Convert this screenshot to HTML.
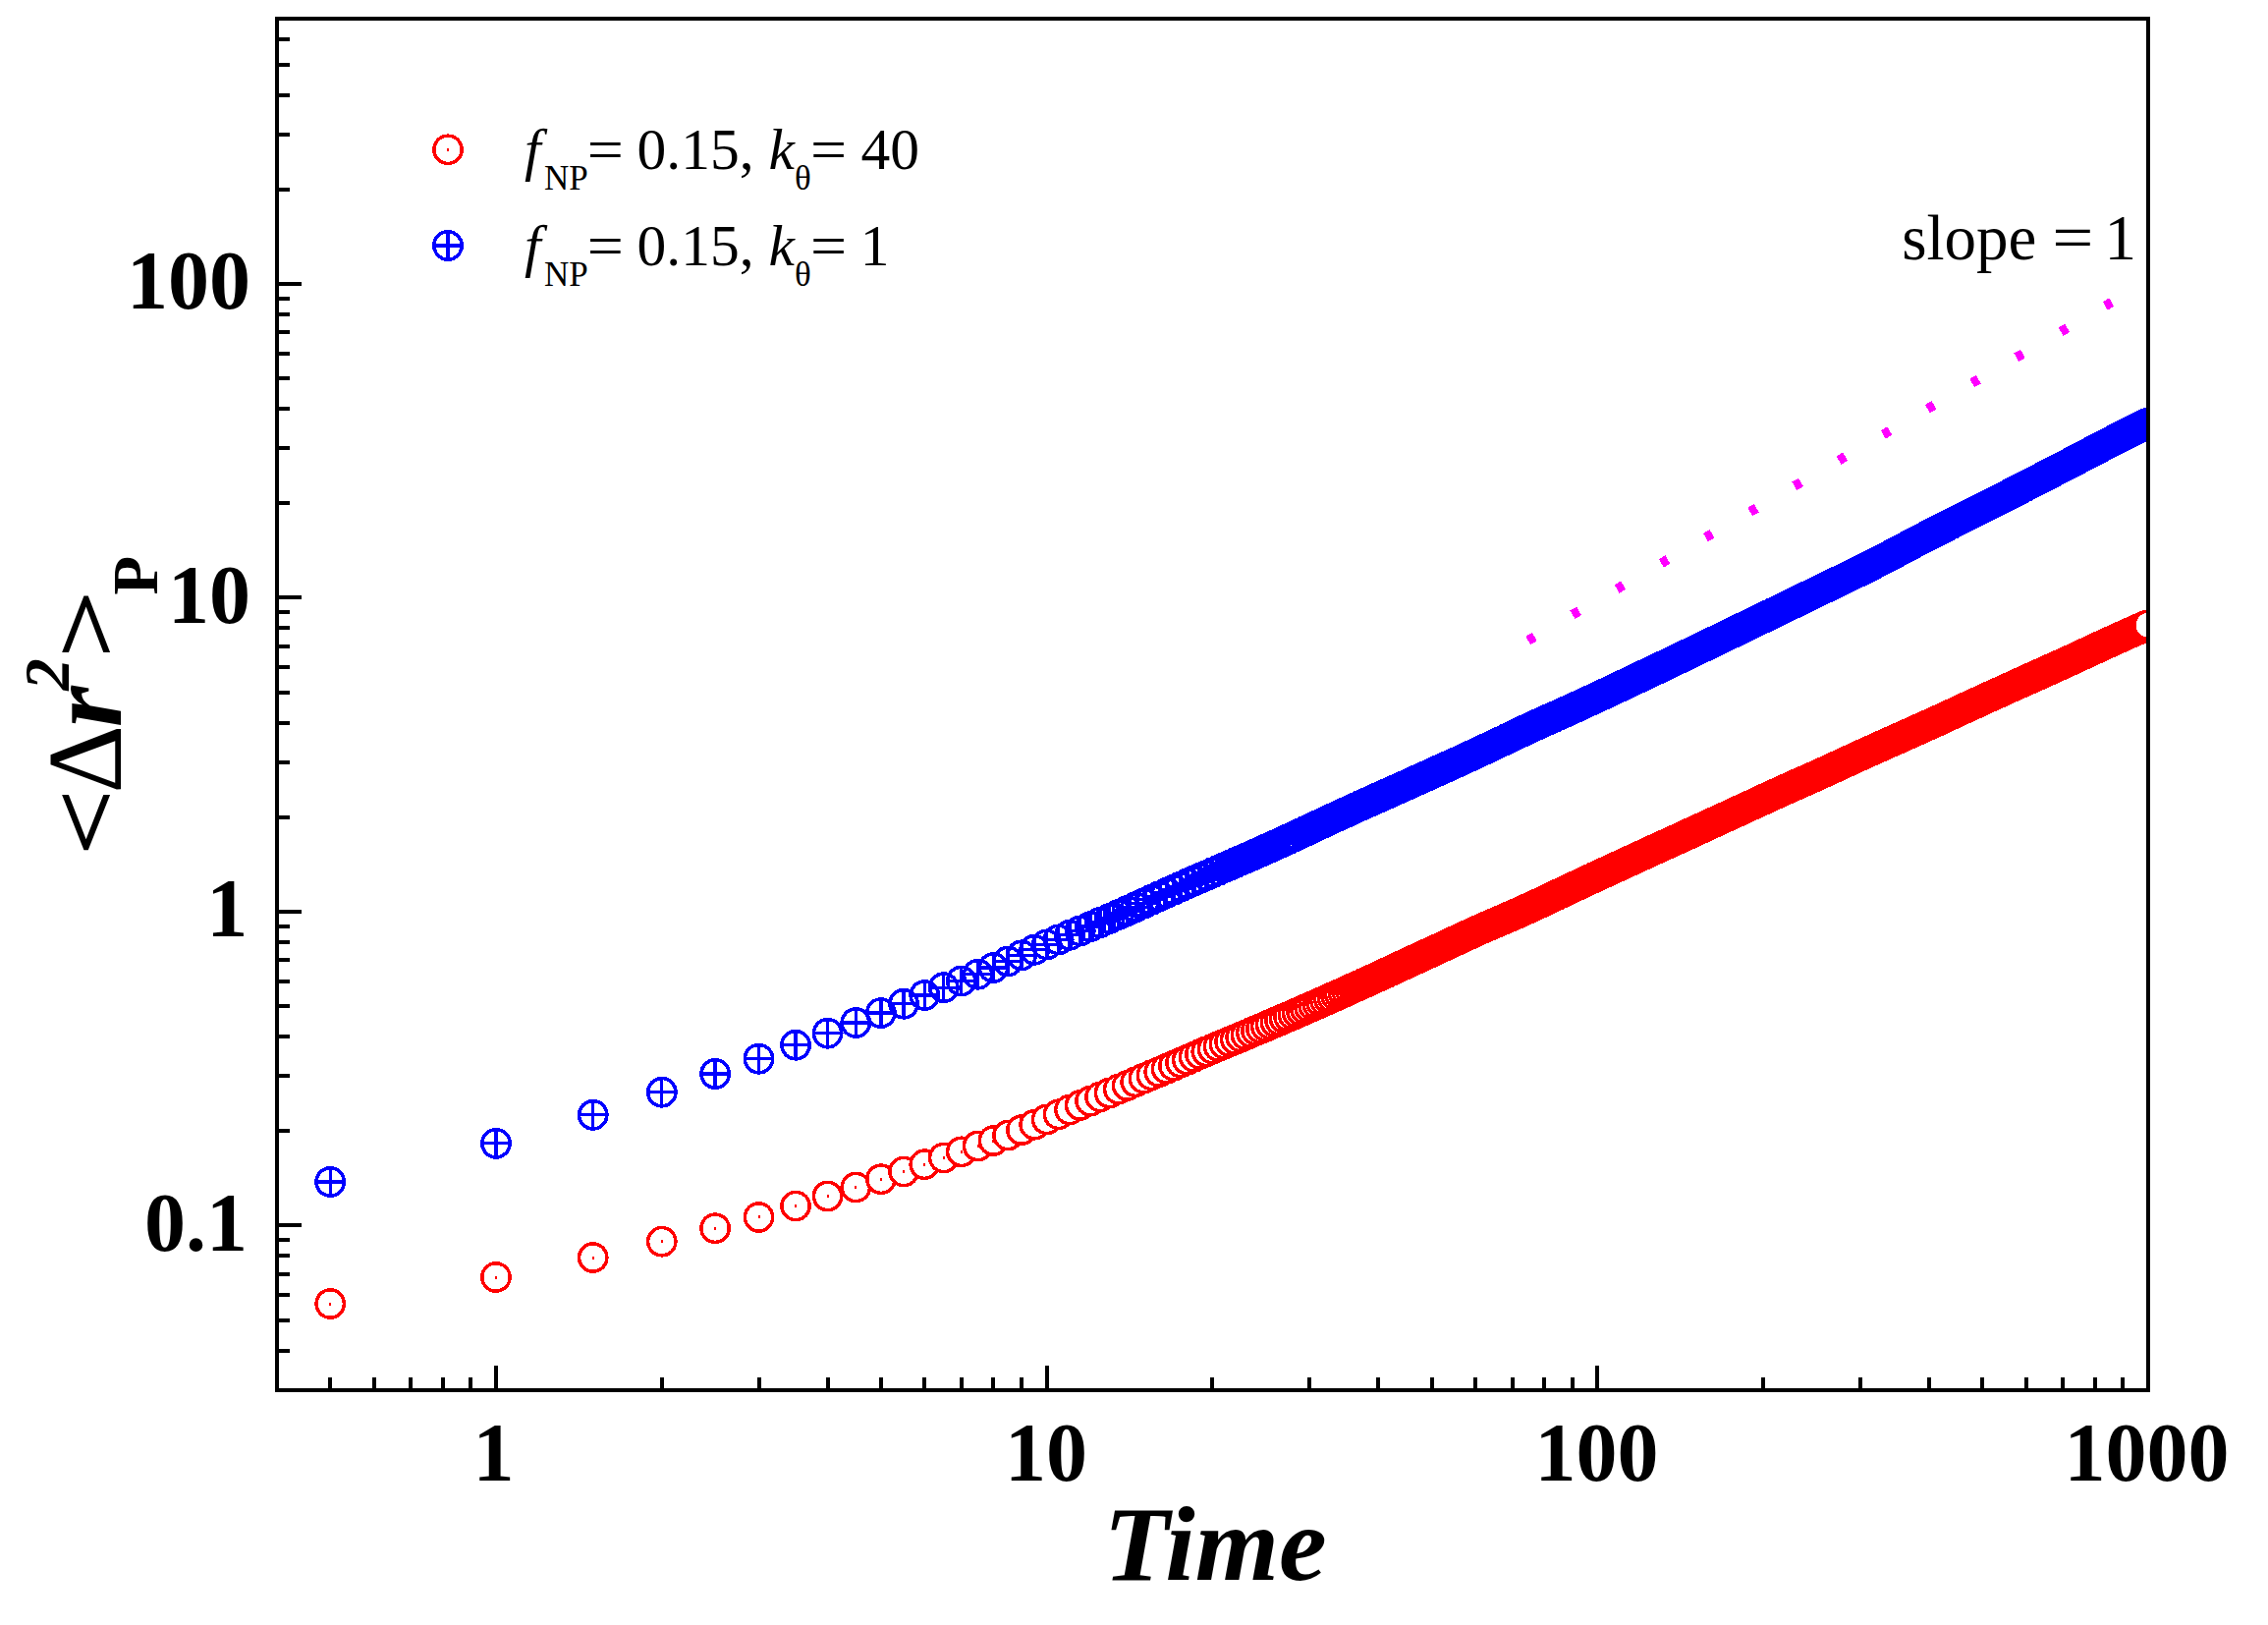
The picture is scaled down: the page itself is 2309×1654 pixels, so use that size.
<!DOCTYPE html>
<html lang="en"><head><meta charset="utf-8"><title>MSD vs Time</title>
<style>html,body{margin:0;padding:0;background:#fff}svg{display:block}text{font-family:"Liberation Serif","Times New Roman",Times,serif;fill:#000}.tk{font-weight:bold;font-size:84px}.lg{font-size:59.5px}.sub{font-size:35px}</style></head><body>
<svg width="2309" height="1654" viewBox="0 0 2309 1654">
<rect width="2309" height="1654" fill="#fff"/>
<defs>
<clipPath id="pc"><rect x="282.05" y="19.10" width="1904.95" height="1395.90"/></clipPath>
<g id="r"><circle r="14.15" fill="#fff" stroke="#f00" stroke-width="3.5"/><rect x="-1" y="-1.5" width="2" height="3" fill="#f00"/></g>
<g id="b"><circle r="14.15" fill="none" stroke="#00f" stroke-width="3.6"/><path d="M-14.15 0H14.15M0 -14.15V14.15" stroke="#00f" stroke-width="3.2" fill="none"/></g>
</defs>
<g clip-path="url(#pc)" shape-rendering="crispEdges">
<path d="M1555.71 651.91L2149.84 307.59" stroke="#f0f" stroke-width="9.8" stroke-dasharray="7.60 44.637" fill="none"/>
<g id="red">
<use href="#r" x="336.2" y="1327"/><use href="#r" x="505" y="1300"/><use href="#r" x="603.7" y="1280"/><use href="#r" x="673.8" y="1263.7"/><use href="#r" x="728.1" y="1250.2"/><use href="#r" x="772.5" y="1238.9"/><use href="#r" x="810.1" y="1227.5"/><use href="#r" x="842.6" y="1217.5"/><use href="#r" x="871.3" y="1208.5"/><use href="#r" x="896.9" y="1200.2"/><use href="#r" x="920.1" y="1192.5"/><use href="#r" x="941.3" y="1185.2"/><use href="#r" x="960.8" y="1178.5"/><use href="#r" x="978.8" y="1172.3"/><use href="#r" x="995.6" y="1166.5"/><use href="#r" x="1011.4" y="1161"/><use href="#r" x="1026.1" y="1155.6"/><use href="#r" x="1040" y="1150.1"/><use href="#r" x="1053.2" y="1144.7"/><use href="#r" x="1065.7" y="1139.4"/><use href="#r" x="1077.6" y="1134.3"/><use href="#r" x="1088.9" y="1129.5"/><use href="#r" x="1099.7" y="1125"/><use href="#r" x="1110.1" y="1120.7"/><use href="#r" x="1120" y="1116.5"/><use href="#r" x="1129.6" y="1112.5"/><use href="#r" x="1138.8" y="1108.6"/><use href="#r" x="1147.6" y="1104.9"/><use href="#r" x="1156.2" y="1101.2"/><use href="#r" x="1164.4" y="1097.7"/><use href="#r" x="1172.4" y="1094.3"/><use href="#r" x="1180.2" y="1091"/><use href="#r" x="1187.6" y="1087.8"/><use href="#r" x="1194.9" y="1084.7"/><use href="#r" x="1202" y="1081.6"/><use href="#r" x="1208.8" y="1078.7"/><use href="#r" x="1215.5" y="1075.8"/><use href="#r" x="1222" y="1073"/><use href="#r" x="1228.3" y="1070.3"/><use href="#r" x="1234.5" y="1067.7"/><use href="#r" x="1240.5" y="1065.1"/><use href="#r" x="1246.4" y="1062.7"/><use href="#r" x="1252.1" y="1060.2"/><use href="#r" x="1257.7" y="1057.9"/><use href="#r" x="1263.2" y="1055.6"/><use href="#r" x="1268.5" y="1053.3"/><use href="#r" x="1273.8" y="1051.1"/><use href="#r" x="1278.9" y="1048.9"/><use href="#r" x="1283.9" y="1046.8"/><use href="#r" x="1288.8" y="1044.7"/><use href="#r" x="1293.6" y="1042.7"/><use href="#r" x="1298.4" y="1040.6"/><use href="#r" x="1303" y="1038.7"/><use href="#r" x="1307.6" y="1036.7"/><use href="#r" x="1312" y="1034.8"/><use href="#r" x="1316.4" y="1032.9"/><use href="#r" x="1320.7" y="1031"/><use href="#r" x="1325" y="1029.1"/><use href="#r" x="1329.1" y="1027.3"/><use href="#r" x="1333.2" y="1025.5"/><use href="#r" x="1337.2" y="1023.7"/><use href="#r" x="1341.2" y="1022"/><use href="#r" x="1345.1" y="1020.3"/><use href="#r" x="1348.9" y="1018.6"/><use href="#r" x="1352.7" y="1016.9"/><use href="#r" x="1356.4" y="1015.2"/><use href="#r" x="1360.1" y="1013.6"/><use href="#r" x="1363.7" y="1012"/><use href="#r" x="1367.3" y="1010.4"/><use href="#r" x="1370.8" y="1008.8"/><use href="#r" x="1374.2" y="1007.3"/><use href="#r" x="1377.6" y="1005.7"/><use href="#r" x="1381" y="1004.2"/><use href="#r" x="1384.3" y="1002.7"/><use href="#r" x="1387.6" y="1001.2"/><use href="#r" x="1390.8" y="999.7"/><use href="#r" x="1394" y="998.3"/><use href="#r" x="1397.1" y="996.8"/><use href="#r" x="1400.2" y="995.4"/><use href="#r" x="1403.3" y="994"/><use href="#r" x="1406.3" y="992.6"/><use href="#r" x="1409.3" y="991.2"/><use href="#r" x="1412.2" y="989.9"/><use href="#r" x="1415.2" y="988.5"/><use href="#r" x="1418" y="987.2"/><use href="#r" x="1420.9" y="985.8"/><use href="#r" x="1423.7" y="984.5"/><use href="#r" x="1426.5" y="983.2"/><use href="#r" x="1429.2" y="982"/><use href="#r" x="1432" y="980.7"/><use href="#r" x="1434.6" y="979.5"/><use href="#r" x="1437.3" y="978.2"/><use href="#r" x="1439.9" y="977"/><use href="#r" x="1442.5" y="975.8"/><use href="#r" x="1445.1" y="974.6"/><use href="#r" x="1447.7" y="973.4"/><use href="#r" x="1450.2" y="972.3"/><use href="#r" x="1452.7" y="971.1"/><use href="#r" x="1455.2" y="970"/><use href="#r" x="1457.6" y="968.8"/><use href="#r" x="1460" y="967.7"/><use href="#r" x="1462.4" y="966.6"/><use href="#r" x="1464.8" y="965.5"/><use href="#r" x="1467.2" y="964.4"/><use href="#r" x="1469.5" y="963.3"/><use href="#r" x="1471.8" y="962.3"/><use href="#r" x="1474.1" y="961.2"/><use href="#r" x="1476.4" y="960.2"/><use href="#r" x="1478.6" y="959.1"/><use href="#r" x="1480.8" y="958.1"/><use href="#r" x="1483" y="957.1"/><use href="#r" x="1485.2" y="956.1"/><use href="#r" x="1487.4" y="955.1"/><use href="#r" x="1489.5" y="954.1"/><use href="#r" x="1491.6" y="953.1"/><use href="#r" x="1493.8" y="952.1"/><use href="#r" x="1495.8" y="951.2"/><use href="#r" x="1497.9" y="950.2"/><use href="#r" x="1500" y="949.3"/><use href="#r" x="1502" y="948.4"/><use href="#r" x="1504" y="947.5"/><use href="#r" x="1506" y="946.5"/><use href="#r" x="1508" y="945.6"/><use href="#r" x="1510" y="944.8"/><use href="#r" x="1511.9" y="943.9"/><use href="#r" x="1513.9" y="943"/><use href="#r" x="1515.8" y="942.2"/><use href="#r" x="1517.7" y="941.3"/><use href="#r" x="1519.6" y="940.5"/><use href="#r" x="1521.5" y="939.7"/><use href="#r" x="1523.4" y="938.9"/><use href="#r" x="1525.2" y="938.1"/><use href="#r" x="1527.1" y="937.3"/><use href="#r" x="1528.9" y="936.5"/><use href="#r" x="1530.7" y="935.7"/><use href="#r" x="1532.5" y="934.9"/><use href="#r" x="1534.3" y="934.2"/><use href="#r" x="1536" y="933.4"/><use href="#r" x="1537.8" y="932.7"/><use href="#r" x="1539.5" y="931.9"/><use href="#r" x="1541.3" y="931.1"/><use href="#r" x="1543" y="930.4"/><use href="#r" x="1544.7" y="929.7"/><use href="#r" x="1546.4" y="928.9"/><use href="#r" x="1548.1" y="928.2"/><use href="#r" x="1549.8" y="927.4"/><use href="#r" x="1551.4" y="926.7"/><use href="#r" x="1553.1" y="925.9"/><use href="#r" x="1554.7" y="925.2"/><use href="#r" x="1556.3" y="924.4"/><use href="#r" x="1558" y="923.7"/><use href="#r" x="1559.6" y="922.9"/><use href="#r" x="1561.2" y="922.2"/><use href="#r" x="1562.8" y="921.5"/><use href="#r" x="1564.3" y="920.7"/><use href="#r" x="1565.9" y="920"/><use href="#r" x="1567.5" y="919.3"/><use href="#r" x="1569" y="918.6"/><use href="#r" x="1570.5" y="917.8"/><use href="#r" x="1572.1" y="917.1"/><use href="#r" x="1573.6" y="916.4"/><use href="#r" x="1575.1" y="915.7"/><use href="#r" x="1576.6" y="915"/><use href="#r" x="1578.1" y="914.3"/><use href="#r" x="1579.6" y="913.6"/><use href="#r" x="1581" y="912.9"/><use href="#r" x="1582.5" y="912.2"/><use href="#r" x="1583.9" y="911.5"/><use href="#r" x="1585.4" y="910.8"/><use href="#r" x="1586.8" y="910.1"/><use href="#r" x="1588.3" y="909.5"/><use href="#r" x="1589.7" y="908.8"/><use href="#r" x="1591.1" y="908.1"/><use href="#r" x="1592.5" y="907.4"/><use href="#r" x="1593.9" y="906.8"/><use href="#r" x="1595.3" y="906.1"/><use href="#r" x="1596.7" y="905.5"/><use href="#r" x="1598" y="904.8"/><use href="#r" x="1599.4" y="904.2"/><use href="#r" x="1600.7" y="903.5"/><use href="#r" x="1602.1" y="902.9"/><use href="#r" x="1603.4" y="902.2"/><use href="#r" x="1604.8" y="901.6"/><use href="#r" x="1606.1" y="901"/><use href="#r" x="1607.4" y="900.4"/><use href="#r" x="1608.7" y="899.7"/><use href="#r" x="1610" y="899.1"/><use href="#r" x="1611.3" y="898.5"/><use href="#r" x="1612.6" y="897.9"/><use href="#r" x="1613.9" y="897.3"/><use href="#r" x="1615.2" y="896.7"/><use href="#r" x="1616.5" y="896.1"/><use href="#r" x="1617.7" y="895.5"/><use href="#r" x="1619" y="895"/><use href="#r" x="1620.2" y="894.4"/><use href="#r" x="1621.5" y="893.8"/><use href="#r" x="1622.7" y="893.2"/><use href="#r" x="1624" y="892.7"/><use href="#r" x="1625.2" y="892.1"/><use href="#r" x="1626.4" y="891.5"/><use href="#r" x="1627.6" y="891"/><use href="#r" x="1628.8" y="890.4"/><use href="#r" x="1630" y="889.8"/><use href="#r" x="1631.2" y="889.3"/><use href="#r" x="1632.4" y="888.7"/><use href="#r" x="1633.6" y="888.2"/><use href="#r" x="1634.8" y="887.7"/><use href="#r" x="1636" y="887.1"/><use href="#r" x="1637.1" y="886.6"/><use href="#r" x="1638.3" y="886"/><use href="#r" x="1639.4" y="885.5"/><use href="#r" x="1640.6" y="885"/><use href="#r" x="1641.7" y="884.4"/><use href="#r" x="1642.9" y="883.9"/><use href="#r" x="1644" y="883.4"/><use href="#r" x="1645.1" y="882.9"/><use href="#r" x="1646.3" y="882.4"/><use href="#r" x="1647.4" y="881.8"/><use href="#r" x="1648.5" y="881.3"/><use href="#r" x="1649.6" y="880.8"/><use href="#r" x="1650.7" y="880.3"/><use href="#r" x="1651.8" y="879.8"/><use href="#r" x="1652.9" y="879.3"/><use href="#r" x="1654" y="878.8"/><use href="#r" x="1655.1" y="878.3"/><use href="#r" x="1656.2" y="877.8"/><use href="#r" x="1657.2" y="877.3"/><use href="#r" x="1658.3" y="876.8"/><use href="#r" x="1659.4" y="876.3"/><use href="#r" x="1660.4" y="875.8"/><use href="#r" x="1661.5" y="875.4"/><use href="#r" x="1662.5" y="874.9"/><use href="#r" x="1663.6" y="874.4"/><use href="#r" x="1664.6" y="873.9"/><use href="#r" x="1665.7" y="873.4"/><use href="#r" x="1666.7" y="873"/><use href="#r" x="1667.7" y="872.5"/><use href="#r" x="1668.8" y="872"/><use href="#r" x="1669.8" y="871.6"/><use href="#r" x="1670.8" y="871.1"/><use href="#r" x="1671.8" y="870.6"/><use href="#r" x="1672.8" y="870.2"/><use href="#r" x="1673.8" y="869.7"/><use href="#r" x="1674.8" y="869.2"/><use href="#r" x="1675.8" y="868.8"/><use href="#r" x="1676.8" y="868.3"/><use href="#r" x="1677.8" y="867.9"/><use href="#r" x="1678.8" y="867.4"/><use href="#r" x="1679.8" y="867"/><use href="#r" x="1680.7" y="866.5"/><use href="#r" x="1681.7" y="866.1"/><use href="#r" x="1682.7" y="865.6"/><use href="#r" x="1683.6" y="865.2"/><use href="#r" x="1684.6" y="864.7"/><use href="#r" x="1685.6" y="864.3"/><use href="#r" x="1686.5" y="863.9"/><use href="#r" x="1687.5" y="863.4"/><use href="#r" x="1688.4" y="863"/><use href="#r" x="1689.3" y="862.6"/><use href="#r" x="1690.3" y="862.1"/><use href="#r" x="1691.2" y="861.7"/><use href="#r" x="1692.2" y="861.3"/><use href="#r" x="1693.1" y="860.9"/><use href="#r" x="1694" y="860.4"/><use href="#r" x="1694.9" y="860"/><use href="#r" x="1695.8" y="859.6"/><use href="#r" x="1696.8" y="859.2"/><use href="#r" x="1697.7" y="858.7"/><use href="#r" x="1698.6" y="858.3"/><use href="#r" x="1699.5" y="857.9"/><use href="#r" x="1700.4" y="857.5"/><use href="#r" x="1701.3" y="857.1"/><use href="#r" x="1702.2" y="856.7"/><use href="#r" x="1703.1" y="856.3"/><use href="#r" x="1703.9" y="855.9"/><use href="#r" x="1704.8" y="855.5"/><use href="#r" x="1705.7" y="855.1"/><use href="#r" x="1706.6" y="854.7"/><use href="#r" x="1707.5" y="854.3"/><use href="#r" x="1708.3" y="853.9"/><use href="#r" x="1709.2" y="853.5"/><use href="#r" x="1710.1" y="853.1"/><use href="#r" x="1710.9" y="852.7"/><use href="#r" x="1711.8" y="852.3"/><use href="#r" x="1712.6" y="851.9"/><use href="#r" x="1713.5" y="851.5"/><use href="#r" x="1714.3" y="851.1"/><use href="#r" x="1715.2" y="850.7"/><use href="#r" x="1716" y="850.3"/><use href="#r" x="1716.9" y="849.9"/><use href="#r" x="1717.7" y="849.6"/><use href="#r" x="1718.6" y="849.2"/><use href="#r" x="1719.4" y="848.8"/><use href="#r" x="1720.2" y="848.4"/><use href="#r" x="1721" y="848"/><use href="#r" x="1721.9" y="847.7"/><use href="#r" x="1722.7" y="847.3"/><use href="#r" x="1723.5" y="846.9"/><use href="#r" x="1724.3" y="846.5"/><use href="#r" x="1725.1" y="846.2"/><use href="#r" x="1725.9" y="845.8"/><use href="#r" x="1726.8" y="845.4"/><use href="#r" x="1727.6" y="845.1"/><use href="#r" x="1728.4" y="844.7"/><use href="#r" x="1729.2" y="844.3"/><use href="#r" x="1730" y="844"/><use href="#r" x="1730.8" y="843.6"/><use href="#r" x="1731.5" y="843.2"/><use href="#r" x="1732.3" y="842.9"/><use href="#r" x="1733.1" y="842.5"/><use href="#r" x="1733.9" y="842.2"/><use href="#r" x="1734.7" y="841.8"/><use href="#r" x="1735.5" y="841.4"/><use href="#r" x="1736.2" y="841.1"/><use href="#r" x="1737" y="840.7"/><use href="#r" x="1737.8" y="840.4"/><use href="#r" x="1738.6" y="840"/><use href="#r" x="1739.3" y="839.7"/><use href="#r" x="1740.1" y="839.3"/><use href="#r" x="1740.9" y="839"/><use href="#r" x="1741.6" y="838.6"/><use href="#r" x="1742.4" y="838.3"/><use href="#r" x="1743.1" y="837.9"/><use href="#r" x="1743.9" y="837.6"/><use href="#r" x="1744.6" y="837.2"/><use href="#r" x="1745.4" y="836.9"/><use href="#r" x="1746.1" y="836.5"/><use href="#r" x="1746.9" y="836.2"/><use href="#r" x="1747.6" y="835.9"/><use href="#r" x="1748.3" y="835.5"/><use href="#r" x="1749.1" y="835.2"/><use href="#r" x="1749.8" y="834.8"/><use href="#r" x="1750.5" y="834.5"/><use href="#r" x="1751.3" y="834.2"/><use href="#r" x="1752" y="833.8"/><use href="#r" x="1752.7" y="833.5"/><use href="#r" x="1753.5" y="833.2"/><use href="#r" x="1754.2" y="832.8"/><use href="#r" x="1754.9" y="832.5"/><use href="#r" x="1755.6" y="832.2"/><use href="#r" x="1756.3" y="831.8"/><use href="#r" x="1757" y="831.5"/><use href="#r" x="1757.8" y="831.2"/><use href="#r" x="1758.5" y="830.9"/><use href="#r" x="1759.2" y="830.5"/><use href="#r" x="1759.9" y="830.2"/><use href="#r" x="1760.6" y="829.9"/><use href="#r" x="1761.3" y="829.6"/><use href="#r" x="1762" y="829.2"/><use href="#r" x="1762.7" y="828.9"/><use href="#r" x="1763.4" y="828.6"/><use href="#r" x="1764.1" y="828.3"/><use href="#r" x="1764.7" y="828"/><use href="#r" x="1765.4" y="827.6"/><use href="#r" x="1766.1" y="827.3"/><use href="#r" x="1766.8" y="827"/><use href="#r" x="1767.5" y="826.7"/><use href="#r" x="1768.2" y="826.4"/><use href="#r" x="1768.9" y="826.1"/><use href="#r" x="1769.5" y="825.7"/><use href="#r" x="1770.2" y="825.4"/><use href="#r" x="1770.9" y="825.1"/><use href="#r" x="1771.6" y="824.8"/><use href="#r" x="1772.2" y="824.5"/><use href="#r" x="1772.9" y="824.2"/><use href="#r" x="1773.6" y="823.9"/><use href="#r" x="1774.2" y="823.6"/><use href="#r" x="1774.9" y="823.3"/><use href="#r" x="1775.5" y="823"/><use href="#r" x="1776.2" y="822.6"/><use href="#r" x="1776.9" y="822.3"/><use href="#r" x="1777.5" y="822"/><use href="#r" x="1778.2" y="821.7"/><use href="#r" x="1778.8" y="821.4"/><use href="#r" x="1779.5" y="821.1"/><use href="#r" x="1780.1" y="820.8"/><use href="#r" x="1780.8" y="820.5"/><use href="#r" x="1781.4" y="820.2"/><use href="#r" x="1782.1" y="819.9"/><use href="#r" x="1782.7" y="819.6"/><use href="#r" x="1783.3" y="819.3"/><use href="#r" x="1784" y="819"/><use href="#r" x="1784.6" y="818.8"/><use href="#r" x="1785.2" y="818.5"/><use href="#r" x="1785.9" y="818.2"/><use href="#r" x="1786.5" y="817.9"/><use href="#r" x="1787.1" y="817.6"/><use href="#r" x="1787.8" y="817.3"/><use href="#r" x="1788.4" y="817"/><use href="#r" x="1789" y="816.7"/><use href="#r" x="1789.6" y="816.4"/><use href="#r" x="1790.3" y="816.1"/><use href="#r" x="1790.9" y="815.9"/><use href="#r" x="1791.5" y="815.6"/><use href="#r" x="1792.1" y="815.3"/><use href="#r" x="1792.7" y="815"/><use href="#r" x="1793.4" y="814.7"/><use href="#r" x="1794" y="814.4"/><use href="#r" x="1794.6" y="814.2"/><use href="#r" x="1795.2" y="813.9"/><use href="#r" x="1795.8" y="813.6"/><use href="#r" x="1796.4" y="813.3"/><use href="#r" x="1797" y="813"/><use href="#r" x="1797.6" y="812.8"/><use href="#r" x="1798.2" y="812.5"/><use href="#r" x="1798.8" y="812.2"/><use href="#r" x="1799.4" y="811.9"/><use href="#r" x="1800" y="811.7"/><use href="#r" x="1800.6" y="811.4"/><use href="#r" x="1801.2" y="811.1"/><use href="#r" x="1801.8" y="810.8"/><use href="#r" x="1802.4" y="810.6"/><use href="#r" x="1803" y="810.3"/><use href="#r" x="1803.6" y="810"/><use href="#r" x="1804.2" y="809.8"/><use href="#r" x="1804.7" y="809.5"/><use href="#r" x="1805.3" y="809.2"/><use href="#r" x="1805.9" y="809"/><use href="#r" x="1806.5" y="808.7"/><use href="#r" x="1807.1" y="808.4"/><use href="#r" x="1807.6" y="808.2"/><use href="#r" x="1808.2" y="807.9"/><use href="#r" x="1808.8" y="807.6"/><use href="#r" x="1809.4" y="807.4"/><use href="#r" x="1810" y="807.1"/><use href="#r" x="1810.5" y="806.9"/><use href="#r" x="1811.1" y="806.6"/><use href="#r" x="1811.7" y="806.3"/><use href="#r" x="1812.2" y="806.1"/><use href="#r" x="1812.8" y="805.8"/><use href="#r" x="1813.4" y="805.6"/><use href="#r" x="1813.9" y="805.3"/><use href="#r" x="1814.5" y="805"/><use href="#r" x="1815.1" y="804.8"/><use href="#r" x="1815.6" y="804.5"/><use href="#r" x="1816.2" y="804.3"/><use href="#r" x="1816.7" y="804"/><use href="#r" x="1817.3" y="803.8"/><use href="#r" x="1817.8" y="803.5"/><use href="#r" x="1818.4" y="803.3"/><use href="#r" x="1818.9" y="803"/><use href="#r" x="1819.5" y="802.8"/><use href="#r" x="1820.1" y="802.5"/><use href="#r" x="1820.6" y="802.3"/><use href="#r" x="1821.1" y="802.1"/><use href="#r" x="1821.7" y="801.8"/><use href="#r" x="1822.2" y="801.6"/><use href="#r" x="1822.8" y="801.3"/><use href="#r" x="1823.3" y="801.1"/><use href="#r" x="1823.9" y="800.8"/><use href="#r" x="1824.4" y="800.6"/><use href="#r" x="1824.9" y="800.4"/><use href="#r" x="1825.5" y="800.1"/><use href="#r" x="1826" y="799.9"/><use href="#r" x="1826.6" y="799.6"/><use href="#r" x="1827.1" y="799.4"/><use href="#r" x="1827.6" y="799.2"/><use href="#r" x="1828.2" y="798.9"/><use href="#r" x="1828.7" y="798.7"/><use href="#r" x="1829.2" y="798.5"/><use href="#r" x="1829.7" y="798.2"/><use href="#r" x="1830.3" y="798"/><use href="#r" x="1830.8" y="797.8"/><use href="#r" x="1831.3" y="797.5"/><use href="#r" x="1831.9" y="797.3"/><use href="#r" x="1832.4" y="797.1"/><use href="#r" x="1832.9" y="796.8"/><use href="#r" x="1833.4" y="796.6"/><use href="#r" x="1833.9" y="796.4"/><use href="#r" x="1834.5" y="796.1"/><use href="#r" x="1835" y="795.9"/><use href="#r" x="1835.5" y="795.7"/><use href="#r" x="1836" y="795.5"/><use href="#r" x="1836.5" y="795.2"/><use href="#r" x="1837" y="795"/><use href="#r" x="1837.5" y="794.8"/><use href="#r" x="1838.1" y="794.5"/><use href="#r" x="1838.6" y="794.3"/><use href="#r" x="1839.1" y="794.1"/><use href="#r" x="1839.6" y="793.9"/><use href="#r" x="1840.1" y="793.6"/><use href="#r" x="1840.6" y="793.4"/><use href="#r" x="1841.1" y="793.2"/><use href="#r" x="1841.6" y="793"/><use href="#r" x="1842.1" y="792.7"/><use href="#r" x="1842.6" y="792.5"/><use href="#r" x="1843.1" y="792.3"/><use href="#r" x="1843.6" y="792.1"/><use href="#r" x="1844.1" y="791.8"/><use href="#r" x="1844.6" y="791.6"/><use href="#r" x="1845.1" y="791.4"/><use href="#r" x="1845.6" y="791.2"/><use href="#r" x="1846.1" y="791"/><use href="#r" x="1846.6" y="790.7"/><use href="#r" x="1847.1" y="790.5"/><use href="#r" x="1847.6" y="790.3"/><use href="#r" x="1848.1" y="790.1"/><use href="#r" x="1848.5" y="789.9"/><use href="#r" x="1849" y="789.6"/><use href="#r" x="1849.5" y="789.4"/><use href="#r" x="1850" y="789.2"/><use href="#r" x="1850.5" y="789"/><use href="#r" x="1851" y="788.8"/><use href="#r" x="1851.5" y="788.5"/><use href="#r" x="1851.9" y="788.3"/><use href="#r" x="1852.4" y="788.1"/><use href="#r" x="1852.9" y="787.9"/><use href="#r" x="1853.4" y="787.7"/><use href="#r" x="1853.9" y="787.4"/><use href="#r" x="1854.3" y="787.2"/><use href="#r" x="1854.8" y="787"/><use href="#r" x="1855.3" y="786.8"/><use href="#r" x="1855.8" y="786.6"/><use href="#r" x="1856.2" y="786.4"/><use href="#r" x="1856.7" y="786.1"/><use href="#r" x="1857.2" y="785.9"/><use href="#r" x="1857.7" y="785.7"/><use href="#r" x="1858.1" y="785.5"/><use href="#r" x="1858.6" y="785.3"/><use href="#r" x="1859.1" y="785.1"/><use href="#r" x="1859.5" y="784.9"/><use href="#r" x="1860" y="784.6"/><use href="#r" x="1860.5" y="784.4"/><use href="#r" x="1860.9" y="784.2"/><use href="#r" x="1861.4" y="784"/><use href="#r" x="1861.9" y="783.8"/><use href="#r" x="1862.3" y="783.6"/><use href="#r" x="1862.8" y="783.4"/><use href="#r" x="1863.3" y="783.2"/><use href="#r" x="1863.7" y="783"/><use href="#r" x="1864.2" y="782.7"/><use href="#r" x="1864.6" y="782.5"/><use href="#r" x="1865.1" y="782.3"/><use href="#r" x="1865.5" y="782.1"/><use href="#r" x="1866" y="781.9"/><use href="#r" x="1866.5" y="781.7"/><use href="#r" x="1866.9" y="781.5"/><use href="#r" x="1867.4" y="781.3"/><use href="#r" x="1867.8" y="781.1"/><use href="#r" x="1868.3" y="780.9"/><use href="#r" x="1868.7" y="780.7"/><use href="#r" x="1869.2" y="780.4"/><use href="#r" x="1869.6" y="780.2"/><use href="#r" x="1870.1" y="780"/><use href="#r" x="1870.5" y="779.8"/><use href="#r" x="1871" y="779.6"/><use href="#r" x="1871.4" y="779.4"/><use href="#r" x="1871.8" y="779.2"/><use href="#r" x="1872.3" y="779"/><use href="#r" x="1872.7" y="778.8"/><use href="#r" x="1873.2" y="778.6"/><use href="#r" x="1873.6" y="778.4"/><use href="#r" x="1874.1" y="778.2"/><use href="#r" x="1874.5" y="778"/><use href="#r" x="1874.9" y="777.8"/><use href="#r" x="1875.4" y="777.6"/><use href="#r" x="1875.8" y="777.4"/><use href="#r" x="1876.3" y="777.2"/><use href="#r" x="1876.7" y="777"/><use href="#r" x="1877.1" y="776.8"/><use href="#r" x="1877.6" y="776.6"/><use href="#r" x="1878" y="776.4"/><use href="#r" x="1878.4" y="776.2"/><use href="#r" x="1878.9" y="776"/><use href="#r" x="1879.3" y="775.8"/><use href="#r" x="1879.7" y="775.6"/><use href="#r" x="1880.1" y="775.4"/><use href="#r" x="1880.6" y="775.2"/><use href="#r" x="1881" y="775"/><use href="#r" x="1881.4" y="774.8"/><use href="#r" x="1881.9" y="774.6"/><use href="#r" x="1882.3" y="774.4"/><use href="#r" x="1882.7" y="774.2"/><use href="#r" x="1883.1" y="774"/><use href="#r" x="1883.6" y="773.8"/><use href="#r" x="1884" y="773.6"/><use href="#r" x="1884.4" y="773.4"/><use href="#r" x="1884.8" y="773.2"/><use href="#r" x="1885.2" y="773"/><use href="#r" x="1885.7" y="772.9"/><use href="#r" x="1886.1" y="772.7"/><use href="#r" x="1886.5" y="772.5"/><use href="#r" x="1886.9" y="772.3"/><use href="#r" x="1887.3" y="772.1"/><use href="#r" x="1887.8" y="771.9"/><use href="#r" x="1888.2" y="771.7"/><use href="#r" x="1888.6" y="771.5"/><use href="#r" x="1889" y="771.3"/><use href="#r" x="1889.4" y="771.1"/><use href="#r" x="1889.8" y="770.9"/><use href="#r" x="1890.2" y="770.8"/><use href="#r" x="1890.7" y="770.6"/><use href="#r" x="1891.1" y="770.4"/><use href="#r" x="1891.5" y="770.2"/><use href="#r" x="1891.9" y="770"/><use href="#r" x="1892.3" y="769.8"/><use href="#r" x="1892.7" y="769.6"/><use href="#r" x="1893.1" y="769.4"/><use href="#r" x="1893.5" y="769.3"/><use href="#r" x="1893.9" y="769.1"/><use href="#r" x="1894.3" y="768.9"/><use href="#r" x="1894.7" y="768.7"/><use href="#r" x="1895.1" y="768.5"/><use href="#r" x="1895.5" y="768.3"/><use href="#r" x="1895.9" y="768.1"/><use href="#r" x="1896.3" y="768"/><use href="#r" x="1896.7" y="767.8"/><use href="#r" x="1897.1" y="767.6"/><use href="#r" x="1897.5" y="767.4"/><use href="#r" x="1897.9" y="767.2"/><use href="#r" x="1898.3" y="767.1"/><use href="#r" x="1898.7" y="766.9"/><use href="#r" x="1899.1" y="766.7"/><use href="#r" x="1899.5" y="766.5"/><use href="#r" x="1899.9" y="766.3"/><use href="#r" x="1900.3" y="766.2"/><use href="#r" x="1900.7" y="766"/><use href="#r" x="1901.1" y="765.8"/><use href="#r" x="1901.5" y="765.6"/><use href="#r" x="1901.9" y="765.4"/><use href="#r" x="1902.3" y="765.3"/><use href="#r" x="1902.7" y="765.1"/><use href="#r" x="1903.1" y="764.9"/><use href="#r" x="1903.5" y="764.7"/><use href="#r" x="1903.9" y="764.6"/><use href="#r" x="1904.3" y="764.4"/><use href="#r" x="1904.6" y="764.2"/><use href="#r" x="1905" y="764"/><use href="#r" x="1905.4" y="763.8"/><use href="#r" x="1905.8" y="763.7"/><use href="#r" x="1906.2" y="763.5"/><use href="#r" x="1906.6" y="763.3"/><use href="#r" x="1907" y="763.2"/><use href="#r" x="1907.3" y="763"/><use href="#r" x="1907.7" y="762.8"/><use href="#r" x="1908.1" y="762.6"/><use href="#r" x="1908.5" y="762.5"/><use href="#r" x="1908.9" y="762.3"/><use href="#r" x="1909.3" y="762.1"/><use href="#r" x="1909.6" y="761.9"/><use href="#r" x="1910" y="761.8"/><use href="#r" x="1910.4" y="761.6"/><use href="#r" x="1910.8" y="761.4"/><use href="#r" x="1911.2" y="761.3"/><use href="#r" x="1911.5" y="761.1"/><use href="#r" x="1911.9" y="760.9"/><use href="#r" x="1912.3" y="760.8"/><use href="#r" x="1912.7" y="760.6"/><use href="#r" x="1913" y="760.4"/><use href="#r" x="1913.4" y="760.2"/><use href="#r" x="1913.8" y="760.1"/><use href="#r" x="1914.2" y="759.9"/><use href="#r" x="1914.5" y="759.7"/><use href="#r" x="1914.9" y="759.6"/><use href="#r" x="1915.3" y="759.4"/><use href="#r" x="1915.7" y="759.2"/><use href="#r" x="1916" y="759.1"/><use href="#r" x="1916.4" y="758.9"/><use href="#r" x="1916.8" y="758.7"/><use href="#r" x="1917.1" y="758.6"/><use href="#r" x="1917.5" y="758.4"/><use href="#r" x="1917.9" y="758.2"/><use href="#r" x="1918.2" y="758.1"/><use href="#r" x="1918.6" y="757.9"/><use href="#r" x="1919" y="757.8"/><use href="#r" x="1919.3" y="757.6"/><use href="#r" x="1919.7" y="757.4"/><use href="#r" x="1920.1" y="757.3"/><use href="#r" x="1920.4" y="757.1"/><use href="#r" x="1920.8" y="756.9"/><use href="#r" x="1921.2" y="756.8"/><use href="#r" x="1921.5" y="756.6"/><use href="#r" x="1921.9" y="756.4"/><use href="#r" x="1922.2" y="756.3"/><use href="#r" x="1922.6" y="756.1"/><use href="#r" x="1923" y="756"/><use href="#r" x="1923.3" y="755.8"/><use href="#r" x="1923.7" y="755.6"/><use href="#r" x="1924" y="755.5"/><use href="#r" x="1924.4" y="755.3"/><use href="#r" x="1924.8" y="755.2"/><use href="#r" x="1925.1" y="755"/><use href="#r" x="1925.5" y="754.8"/><use href="#r" x="1925.8" y="754.7"/><use href="#r" x="1926.2" y="754.5"/><use href="#r" x="1926.5" y="754.4"/><use href="#r" x="1926.9" y="754.2"/><use href="#r" x="1927.2" y="754"/><use href="#r" x="1927.6" y="753.9"/><use href="#r" x="1928" y="753.7"/><use href="#r" x="1928.3" y="753.6"/><use href="#r" x="1928.7" y="753.4"/><use href="#r" x="1929" y="753.3"/><use href="#r" x="1929.4" y="753.1"/><use href="#r" x="1929.7" y="752.9"/><use href="#r" x="1930.1" y="752.8"/><use href="#r" x="1930.4" y="752.6"/><use href="#r" x="1930.8" y="752.5"/><use href="#r" x="1931.1" y="752.3"/><use href="#r" x="1931.5" y="752.2"/><use href="#r" x="1931.8" y="752"/><use href="#r" x="1932.2" y="751.9"/><use href="#r" x="1932.5" y="751.7"/><use href="#r" x="1932.8" y="751.5"/><use href="#r" x="1933.2" y="751.4"/><use href="#r" x="1933.5" y="751.2"/><use href="#r" x="1933.9" y="751.1"/><use href="#r" x="1934.2" y="750.9"/><use href="#r" x="1934.6" y="750.8"/><use href="#r" x="1934.9" y="750.6"/><use href="#r" x="1935.3" y="750.5"/><use href="#r" x="1935.6" y="750.3"/><use href="#r" x="1935.9" y="750.2"/><use href="#r" x="1936.3" y="750"/><use href="#r" x="1936.6" y="749.9"/><use href="#r" x="1937" y="749.7"/><use href="#r" x="1937.3" y="749.6"/><use href="#r" x="1937.6" y="749.4"/><use href="#r" x="1938" y="749.2"/><use href="#r" x="1938.3" y="749.1"/><use href="#r" x="1938.7" y="748.9"/><use href="#r" x="1939" y="748.8"/><use href="#r" x="1939.3" y="748.6"/><use href="#r" x="1939.7" y="748.5"/><use href="#r" x="1940" y="748.3"/><use href="#r" x="1940.3" y="748.2"/><use href="#r" x="1940.7" y="748"/><use href="#r" x="1941" y="747.9"/><use href="#r" x="1941.3" y="747.7"/><use href="#r" x="1941.7" y="747.6"/><use href="#r" x="1942" y="747.4"/><use href="#r" x="1942.3" y="747.3"/><use href="#r" x="1942.7" y="747.1"/><use href="#r" x="1943" y="747"/><use href="#r" x="1943.3" y="746.9"/><use href="#r" x="1943.7" y="746.7"/><use href="#r" x="1944" y="746.6"/><use href="#r" x="1944.3" y="746.4"/><use href="#r" x="1944.7" y="746.3"/><use href="#r" x="1945" y="746.1"/><use href="#r" x="1945.3" y="746"/><use href="#r" x="1945.6" y="745.8"/><use href="#r" x="1946" y="745.7"/><use href="#r" x="1946.3" y="745.5"/><use href="#r" x="1946.6" y="745.4"/><use href="#r" x="1947" y="745.2"/><use href="#r" x="1947.3" y="745.1"/><use href="#r" x="1947.6" y="744.9"/><use href="#r" x="1947.9" y="744.8"/><use href="#r" x="1948.3" y="744.6"/><use href="#r" x="1948.6" y="744.5"/><use href="#r" x="1948.9" y="744.4"/><use href="#r" x="1949.2" y="744.2"/><use href="#r" x="1949.6" y="744.1"/><use href="#r" x="1949.9" y="743.9"/><use href="#r" x="1950.2" y="743.8"/><use href="#r" x="1950.5" y="743.6"/><use href="#r" x="1950.8" y="743.5"/><use href="#r" x="1951.2" y="743.3"/><use href="#r" x="1951.5" y="743.2"/><use href="#r" x="1951.8" y="743.1"/><use href="#r" x="1952.1" y="742.9"/><use href="#r" x="1952.4" y="742.8"/><use href="#r" x="1952.8" y="742.6"/><use href="#r" x="1953.1" y="742.5"/><use href="#r" x="1953.4" y="742.3"/><use href="#r" x="1953.7" y="742.2"/><use href="#r" x="1954" y="742.1"/><use href="#r" x="1954.4" y="741.9"/><use href="#r" x="1954.7" y="741.8"/><use href="#r" x="1955" y="741.6"/><use href="#r" x="1955.3" y="741.5"/><use href="#r" x="1955.6" y="741.3"/><use href="#r" x="1955.9" y="741.2"/><use href="#r" x="1956.2" y="741.1"/><use href="#r" x="1956.6" y="740.9"/><use href="#r" x="1956.9" y="740.8"/><use href="#r" x="1957.2" y="740.6"/><use href="#r" x="1957.5" y="740.5"/><use href="#r" x="1957.8" y="740.4"/><use href="#r" x="1958.1" y="740.2"/><use href="#r" x="1958.4" y="740.1"/><use href="#r" x="1958.7" y="739.9"/><use href="#r" x="1959.1" y="739.8"/><use href="#r" x="1959.4" y="739.6"/><use href="#r" x="1959.7" y="739.5"/><use href="#r" x="1960" y="739.4"/><use href="#r" x="1960.3" y="739.2"/><use href="#r" x="1960.6" y="739.1"/><use href="#r" x="1960.9" y="739"/><use href="#r" x="1961.2" y="738.8"/><use href="#r" x="1961.5" y="738.7"/><use href="#r" x="1961.8" y="738.5"/><use href="#r" x="1962.1" y="738.4"/><use href="#r" x="1962.4" y="738.3"/><use href="#r" x="1962.8" y="738.1"/><use href="#r" x="1963.1" y="738"/><use href="#r" x="1963.4" y="737.8"/><use href="#r" x="1963.7" y="737.7"/><use href="#r" x="1964" y="737.6"/><use href="#r" x="1964.3" y="737.4"/><use href="#r" x="1964.6" y="737.3"/><use href="#r" x="1964.9" y="737.2"/><use href="#r" x="1965.2" y="737"/><use href="#r" x="1965.5" y="736.9"/><use href="#r" x="1965.8" y="736.7"/><use href="#r" x="1966.1" y="736.6"/><use href="#r" x="1966.4" y="736.5"/><use href="#r" x="1966.7" y="736.3"/><use href="#r" x="1967" y="736.2"/><use href="#r" x="1967.3" y="736.1"/><use href="#r" x="1967.6" y="735.9"/><use href="#r" x="1967.9" y="735.8"/><use href="#r" x="1968.2" y="735.6"/><use href="#r" x="1968.5" y="735.5"/><use href="#r" x="1968.8" y="735.4"/><use href="#r" x="1969.1" y="735.2"/><use href="#r" x="1969.4" y="735.1"/><use href="#r" x="1969.7" y="735"/><use href="#r" x="1970" y="734.8"/><use href="#r" x="1970.3" y="734.7"/><use href="#r" x="1970.6" y="734.6"/><use href="#r" x="1970.9" y="734.4"/><use href="#r" x="1971.2" y="734.3"/><use href="#r" x="1971.5" y="734.2"/><use href="#r" x="1971.8" y="734"/><use href="#r" x="1972.1" y="733.9"/><use href="#r" x="1972.4" y="733.8"/><use href="#r" x="1972.6" y="733.6"/><use href="#r" x="1972.9" y="733.5"/><use href="#r" x="1973.2" y="733.4"/><use href="#r" x="1973.5" y="733.2"/><use href="#r" x="1973.8" y="733.1"/><use href="#r" x="1974.1" y="732.9"/><use href="#r" x="1974.4" y="732.8"/><use href="#r" x="1974.7" y="732.7"/><use href="#r" x="1975" y="732.5"/><use href="#r" x="1975.3" y="732.4"/><use href="#r" x="1975.6" y="732.3"/><use href="#r" x="1975.9" y="732.2"/><use href="#r" x="1976.1" y="732"/><use href="#r" x="1976.4" y="731.9"/><use href="#r" x="1976.7" y="731.8"/><use href="#r" x="1977" y="731.6"/><use href="#r" x="1977.3" y="731.5"/><use href="#r" x="1977.6" y="731.4"/><use href="#r" x="1977.9" y="731.2"/><use href="#r" x="1978.2" y="731.1"/><use href="#r" x="1978.5" y="731"/><use href="#r" x="1978.7" y="730.8"/><use href="#r" x="1979" y="730.7"/><use href="#r" x="1979.3" y="730.6"/><use href="#r" x="1979.6" y="730.4"/><use href="#r" x="1979.9" y="730.3"/><use href="#r" x="1980.2" y="730.2"/><use href="#r" x="1980.5" y="730"/><use href="#r" x="1980.7" y="729.9"/><use href="#r" x="1981" y="729.8"/><use href="#r" x="1981.3" y="729.7"/><use href="#r" x="1981.6" y="729.5"/><use href="#r" x="1981.9" y="729.4"/><use href="#r" x="1982.2" y="729.3"/><use href="#r" x="1982.4" y="729.1"/><use href="#r" x="1982.7" y="729"/><use href="#r" x="1983" y="728.9"/><use href="#r" x="1983.3" y="728.7"/><use href="#r" x="1983.6" y="728.6"/><use href="#r" x="1983.8" y="728.5"/><use href="#r" x="1984.1" y="728.4"/><use href="#r" x="1984.4" y="728.2"/><use href="#r" x="1984.7" y="728.1"/><use href="#r" x="1985" y="728"/><use href="#r" x="1985.2" y="727.8"/><use href="#r" x="1985.5" y="727.7"/><use href="#r" x="1985.8" y="727.6"/><use href="#r" x="1986.1" y="727.5"/><use href="#r" x="1986.4" y="727.3"/><use href="#r" x="1986.6" y="727.2"/><use href="#r" x="1986.9" y="727.1"/><use href="#r" x="1987.2" y="726.9"/><use href="#r" x="1987.5" y="726.8"/><use href="#r" x="1987.7" y="726.7"/><use href="#r" x="1988" y="726.6"/><use href="#r" x="1988.3" y="726.4"/><use href="#r" x="1988.6" y="726.3"/><use href="#r" x="1988.8" y="726.2"/><use href="#r" x="1989.1" y="726.1"/><use href="#r" x="1989.4" y="725.9"/><use href="#r" x="1989.7" y="725.8"/><use href="#r" x="1989.9" y="725.7"/><use href="#r" x="1990.2" y="725.6"/><use href="#r" x="1990.5" y="725.4"/><use href="#r" x="1990.8" y="725.3"/><use href="#r" x="1991" y="725.2"/><use href="#r" x="1991.3" y="725.1"/><use href="#r" x="1991.6" y="724.9"/><use href="#r" x="1991.8" y="724.8"/><use href="#r" x="1992.1" y="724.7"/><use href="#r" x="1992.4" y="724.6"/><use href="#r" x="1992.7" y="724.4"/><use href="#r" x="1992.9" y="724.3"/><use href="#r" x="1993.2" y="724.2"/><use href="#r" x="1993.5" y="724.1"/><use href="#r" x="1993.7" y="723.9"/><use href="#r" x="1994" y="723.8"/><use href="#r" x="1994.3" y="723.7"/><use href="#r" x="1994.5" y="723.6"/><use href="#r" x="1994.8" y="723.4"/><use href="#r" x="1995.1" y="723.3"/><use href="#r" x="1995.3" y="723.2"/><use href="#r" x="1995.6" y="723.1"/><use href="#r" x="1995.9" y="722.9"/><use href="#r" x="1996.1" y="722.8"/><use href="#r" x="1996.4" y="722.7"/><use href="#r" x="1996.7" y="722.6"/><use href="#r" x="1996.9" y="722.4"/><use href="#r" x="1997.2" y="722.3"/><use href="#r" x="1997.5" y="722.2"/><use href="#r" x="1997.7" y="722.1"/><use href="#r" x="1998" y="722"/><use href="#r" x="1998.3" y="721.8"/><use href="#r" x="1998.5" y="721.7"/><use href="#r" x="1998.8" y="721.6"/><use href="#r" x="1999.1" y="721.5"/><use href="#r" x="1999.3" y="721.3"/><use href="#r" x="1999.6" y="721.2"/><use href="#r" x="1999.9" y="721.1"/><use href="#r" x="2000.1" y="721"/><use href="#r" x="2000.4" y="720.9"/><use href="#r" x="2000.6" y="720.7"/><use href="#r" x="2000.9" y="720.6"/><use href="#r" x="2001.2" y="720.5"/><use href="#r" x="2001.4" y="720.4"/><use href="#r" x="2001.7" y="720.3"/><use href="#r" x="2001.9" y="720.1"/><use href="#r" x="2002.2" y="720"/><use href="#r" x="2002.5" y="719.9"/><use href="#r" x="2002.7" y="719.8"/><use href="#r" x="2003" y="719.7"/><use href="#r" x="2003.2" y="719.5"/><use href="#r" x="2003.5" y="719.4"/><use href="#r" x="2003.8" y="719.3"/><use href="#r" x="2004" y="719.2"/><use href="#r" x="2004.3" y="719.1"/><use href="#r" x="2004.5" y="718.9"/><use href="#r" x="2004.8" y="718.8"/><use href="#r" x="2005.1" y="718.7"/><use href="#r" x="2005.3" y="718.6"/><use href="#r" x="2005.6" y="718.5"/><use href="#r" x="2005.8" y="718.4"/><use href="#r" x="2006.1" y="718.2"/><use href="#r" x="2006.3" y="718.1"/><use href="#r" x="2006.6" y="718"/><use href="#r" x="2006.8" y="717.9"/><use href="#r" x="2007.1" y="717.8"/><use href="#r" x="2007.4" y="717.6"/><use href="#r" x="2007.6" y="717.5"/><use href="#r" x="2007.9" y="717.4"/><use href="#r" x="2008.1" y="717.3"/><use href="#r" x="2008.4" y="717.2"/><use href="#r" x="2008.6" y="717.1"/><use href="#r" x="2008.9" y="716.9"/><use href="#r" x="2009.1" y="716.8"/><use href="#r" x="2009.4" y="716.7"/><use href="#r" x="2009.6" y="716.6"/><use href="#r" x="2009.9" y="716.5"/><use href="#r" x="2010.1" y="716.4"/><use href="#r" x="2010.4" y="716.2"/><use href="#r" x="2010.6" y="716.1"/><use href="#r" x="2010.9" y="716"/><use href="#r" x="2011.1" y="715.9"/><use href="#r" x="2011.4" y="715.8"/><use href="#r" x="2011.6" y="715.7"/><use href="#r" x="2011.9" y="715.5"/><use href="#r" x="2012.1" y="715.4"/><use href="#r" x="2012.4" y="715.3"/><use href="#r" x="2012.6" y="715.2"/><use href="#r" x="2012.9" y="715.1"/><use href="#r" x="2013.1" y="715"/><use href="#r" x="2013.4" y="714.9"/><use href="#r" x="2013.6" y="714.7"/><use href="#r" x="2013.9" y="714.6"/><use href="#r" x="2014.1" y="714.5"/><use href="#r" x="2014.4" y="714.4"/><use href="#r" x="2014.6" y="714.3"/><use href="#r" x="2014.9" y="714.2"/><use href="#r" x="2015.1" y="714.1"/><use href="#r" x="2015.4" y="713.9"/><use href="#r" x="2015.6" y="713.8"/><use href="#r" x="2015.9" y="713.7"/><use href="#r" x="2016.1" y="713.6"/><use href="#r" x="2016.4" y="713.5"/><use href="#r" x="2016.6" y="713.4"/><use href="#r" x="2016.8" y="713.3"/><use href="#r" x="2017.1" y="713.2"/><use href="#r" x="2017.3" y="713"/><use href="#r" x="2017.6" y="712.9"/><use href="#r" x="2017.8" y="712.8"/><use href="#r" x="2018.1" y="712.7"/><use href="#r" x="2018.3" y="712.6"/><use href="#r" x="2018.6" y="712.5"/><use href="#r" x="2018.8" y="712.4"/><use href="#r" x="2019" y="712.3"/><use href="#r" x="2019.3" y="712.2"/><use href="#r" x="2019.5" y="712"/><use href="#r" x="2019.8" y="711.9"/><use href="#r" x="2020" y="711.8"/><use href="#r" x="2020.3" y="711.7"/><use href="#r" x="2020.5" y="711.6"/><use href="#r" x="2020.7" y="711.5"/><use href="#r" x="2021" y="711.4"/><use href="#r" x="2021.2" y="711.3"/><use href="#r" x="2021.5" y="711.2"/><use href="#r" x="2021.7" y="711"/><use href="#r" x="2021.9" y="710.9"/><use href="#r" x="2022.2" y="710.8"/><use href="#r" x="2022.4" y="710.7"/><use href="#r" x="2022.7" y="710.6"/><use href="#r" x="2022.9" y="710.5"/><use href="#r" x="2023.1" y="710.4"/><use href="#r" x="2023.4" y="710.3"/><use href="#r" x="2023.6" y="710.2"/><use href="#r" x="2023.8" y="710.1"/><use href="#r" x="2024.1" y="709.9"/><use href="#r" x="2024.3" y="709.8"/><use href="#r" x="2024.6" y="709.7"/><use href="#r" x="2024.8" y="709.6"/><use href="#r" x="2025" y="709.5"/><use href="#r" x="2025.3" y="709.4"/><use href="#r" x="2025.5" y="709.3"/><use href="#r" x="2025.7" y="709.2"/><use href="#r" x="2026" y="709.1"/><use href="#r" x="2026.2" y="709"/><use href="#r" x="2026.5" y="708.9"/><use href="#r" x="2026.7" y="708.8"/><use href="#r" x="2026.9" y="708.7"/><use href="#r" x="2027.2" y="708.5"/><use href="#r" x="2027.4" y="708.4"/><use href="#r" x="2027.6" y="708.3"/><use href="#r" x="2027.9" y="708.2"/><use href="#r" x="2028.1" y="708.1"/><use href="#r" x="2028.3" y="708"/><use href="#r" x="2028.6" y="707.9"/><use href="#r" x="2028.8" y="707.8"/><use href="#r" x="2029" y="707.7"/><use href="#r" x="2029.3" y="707.6"/><use href="#r" x="2029.5" y="707.5"/><use href="#r" x="2029.7" y="707.4"/><use href="#r" x="2030" y="707.3"/><use href="#r" x="2030.2" y="707.2"/><use href="#r" x="2030.4" y="707.1"/><use href="#r" x="2030.7" y="706.9"/><use href="#r" x="2030.9" y="706.8"/><use href="#r" x="2031.1" y="706.7"/><use href="#r" x="2031.4" y="706.6"/><use href="#r" x="2031.6" y="706.5"/><use href="#r" x="2031.8" y="706.4"/><use href="#r" x="2032" y="706.3"/><use href="#r" x="2032.3" y="706.2"/><use href="#r" x="2032.5" y="706.1"/><use href="#r" x="2032.7" y="706"/><use href="#r" x="2033" y="705.9"/><use href="#r" x="2033.2" y="705.8"/><use href="#r" x="2033.4" y="705.7"/><use href="#r" x="2033.6" y="705.6"/><use href="#r" x="2033.9" y="705.5"/><use href="#r" x="2034.1" y="705.4"/><use href="#r" x="2034.3" y="705.3"/><use href="#r" x="2034.6" y="705.2"/><use href="#r" x="2034.8" y="705.1"/><use href="#r" x="2035" y="705"/><use href="#r" x="2035.2" y="704.9"/><use href="#r" x="2035.5" y="704.8"/><use href="#r" x="2035.7" y="704.7"/><use href="#r" x="2035.9" y="704.6"/><use href="#r" x="2036.1" y="704.5"/><use href="#r" x="2036.4" y="704.3"/><use href="#r" x="2036.6" y="704.2"/><use href="#r" x="2036.8" y="704.1"/><use href="#r" x="2037.1" y="704"/><use href="#r" x="2037.3" y="703.9"/><use href="#r" x="2037.5" y="703.8"/><use href="#r" x="2037.7" y="703.7"/><use href="#r" x="2038" y="703.6"/><use href="#r" x="2038.2" y="703.5"/><use href="#r" x="2038.4" y="703.4"/><use href="#r" x="2038.6" y="703.3"/><use href="#r" x="2038.9" y="703.2"/><use href="#r" x="2039.1" y="703.1"/><use href="#r" x="2039.3" y="703"/><use href="#r" x="2039.5" y="702.9"/><use href="#r" x="2039.7" y="702.8"/><use href="#r" x="2040" y="702.7"/><use href="#r" x="2040.2" y="702.6"/><use href="#r" x="2040.4" y="702.5"/><use href="#r" x="2040.6" y="702.4"/><use href="#r" x="2040.9" y="702.3"/><use href="#r" x="2041.1" y="702.2"/><use href="#r" x="2041.3" y="702.1"/><use href="#r" x="2041.5" y="702"/><use href="#r" x="2041.7" y="701.9"/><use href="#r" x="2042" y="701.8"/><use href="#r" x="2042.2" y="701.7"/><use href="#r" x="2042.4" y="701.6"/><use href="#r" x="2042.6" y="701.5"/><use href="#r" x="2042.8" y="701.4"/><use href="#r" x="2043.1" y="701.3"/><use href="#r" x="2043.3" y="701.2"/><use href="#r" x="2043.5" y="701.1"/><use href="#r" x="2043.7" y="701"/><use href="#r" x="2043.9" y="700.9"/><use href="#r" x="2044.2" y="700.8"/><use href="#r" x="2044.4" y="700.7"/><use href="#r" x="2044.6" y="700.6"/><use href="#r" x="2044.8" y="700.5"/><use href="#r" x="2045" y="700.4"/><use href="#r" x="2045.3" y="700.3"/><use href="#r" x="2045.5" y="700.2"/><use href="#r" x="2045.7" y="700.1"/><use href="#r" x="2045.9" y="700"/><use href="#r" x="2046.1" y="699.9"/><use href="#r" x="2046.3" y="699.8"/><use href="#r" x="2046.6" y="699.7"/><use href="#r" x="2046.8" y="699.6"/><use href="#r" x="2047" y="699.5"/><use href="#r" x="2047.2" y="699.5"/><use href="#r" x="2047.4" y="699.4"/><use href="#r" x="2047.6" y="699.3"/><use href="#r" x="2047.9" y="699.2"/><use href="#r" x="2048.1" y="699.1"/><use href="#r" x="2048.3" y="699"/><use href="#r" x="2048.5" y="698.9"/><use href="#r" x="2048.7" y="698.8"/><use href="#r" x="2048.9" y="698.7"/><use href="#r" x="2049.1" y="698.6"/><use href="#r" x="2049.4" y="698.5"/><use href="#r" x="2049.6" y="698.4"/><use href="#r" x="2049.8" y="698.3"/><use href="#r" x="2050" y="698.2"/><use href="#r" x="2050.2" y="698.1"/><use href="#r" x="2050.4" y="698"/><use href="#r" x="2050.6" y="697.9"/><use href="#r" x="2050.9" y="697.8"/><use href="#r" x="2051.1" y="697.7"/><use href="#r" x="2051.3" y="697.6"/><use href="#r" x="2051.5" y="697.5"/><use href="#r" x="2051.7" y="697.4"/><use href="#r" x="2051.9" y="697.3"/><use href="#r" x="2052.1" y="697.2"/><use href="#r" x="2052.3" y="697.1"/><use href="#r" x="2052.6" y="697"/><use href="#r" x="2052.8" y="696.9"/><use href="#r" x="2053" y="696.9"/><use href="#r" x="2053.2" y="696.8"/><use href="#r" x="2053.4" y="696.7"/><use href="#r" x="2053.6" y="696.6"/><use href="#r" x="2053.8" y="696.5"/><use href="#r" x="2054" y="696.4"/><use href="#r" x="2054.2" y="696.3"/><use href="#r" x="2054.5" y="696.2"/><use href="#r" x="2054.7" y="696.1"/><use href="#r" x="2054.9" y="696"/><use href="#r" x="2055.1" y="695.9"/><use href="#r" x="2055.3" y="695.8"/><use href="#r" x="2055.5" y="695.7"/><use href="#r" x="2055.7" y="695.6"/><use href="#r" x="2055.9" y="695.5"/><use href="#r" x="2056.1" y="695.4"/><use href="#r" x="2056.3" y="695.3"/><use href="#r" x="2056.5" y="695.3"/><use href="#r" x="2056.8" y="695.2"/><use href="#r" x="2057" y="695.1"/><use href="#r" x="2057.2" y="695"/><use href="#r" x="2057.4" y="694.9"/><use href="#r" x="2057.6" y="694.8"/><use href="#r" x="2057.8" y="694.7"/><use href="#r" x="2058" y="694.6"/><use href="#r" x="2058.2" y="694.5"/><use href="#r" x="2058.4" y="694.4"/><use href="#r" x="2058.6" y="694.3"/><use href="#r" x="2058.8" y="694.2"/><use href="#r" x="2059" y="694.1"/><use href="#r" x="2059.2" y="694"/><use href="#r" x="2059.4" y="694"/><use href="#r" x="2059.6" y="693.9"/><use href="#r" x="2059.9" y="693.8"/><use href="#r" x="2060.1" y="693.7"/><use href="#r" x="2060.3" y="693.6"/><use href="#r" x="2060.5" y="693.5"/><use href="#r" x="2060.7" y="693.4"/><use href="#r" x="2060.9" y="693.3"/><use href="#r" x="2061.1" y="693.2"/><use href="#r" x="2061.3" y="693.1"/><use href="#r" x="2061.5" y="693"/><use href="#r" x="2061.7" y="692.9"/><use href="#r" x="2061.9" y="692.8"/><use href="#r" x="2062.1" y="692.8"/><use href="#r" x="2062.3" y="692.7"/><use href="#r" x="2062.5" y="692.6"/><use href="#r" x="2062.7" y="692.5"/><use href="#r" x="2062.9" y="692.4"/><use href="#r" x="2063.1" y="692.3"/><use href="#r" x="2063.3" y="692.2"/><use href="#r" x="2063.5" y="692.1"/><use href="#r" x="2063.7" y="692"/><use href="#r" x="2063.9" y="691.9"/><use href="#r" x="2064.1" y="691.8"/><use href="#r" x="2064.3" y="691.8"/><use href="#r" x="2064.5" y="691.7"/><use href="#r" x="2064.7" y="691.6"/><use href="#r" x="2064.9" y="691.5"/><use href="#r" x="2065.1" y="691.4"/><use href="#r" x="2065.3" y="691.3"/><use href="#r" x="2065.5" y="691.2"/><use href="#r" x="2065.7" y="691.1"/><use href="#r" x="2065.9" y="691"/><use href="#r" x="2066.1" y="690.9"/><use href="#r" x="2066.3" y="690.9"/><use href="#r" x="2066.5" y="690.8"/><use href="#r" x="2066.7" y="690.7"/><use href="#r" x="2066.9" y="690.6"/><use href="#r" x="2067.1" y="690.5"/><use href="#r" x="2067.3" y="690.4"/><use href="#r" x="2067.5" y="690.3"/><use href="#r" x="2067.7" y="690.2"/><use href="#r" x="2067.9" y="690.1"/><use href="#r" x="2068.1" y="690.1"/><use href="#r" x="2068.3" y="690"/><use href="#r" x="2068.5" y="689.9"/><use href="#r" x="2068.7" y="689.8"/><use href="#r" x="2068.9" y="689.7"/><use href="#r" x="2069.1" y="689.6"/><use href="#r" x="2069.3" y="689.5"/><use href="#r" x="2069.5" y="689.4"/><use href="#r" x="2069.7" y="689.3"/><use href="#r" x="2069.9" y="689.3"/><use href="#r" x="2070.1" y="689.2"/><use href="#r" x="2070.3" y="689.1"/><use href="#r" x="2070.5" y="689"/><use href="#r" x="2070.7" y="688.9"/><use href="#r" x="2070.9" y="688.8"/><use href="#r" x="2071.1" y="688.7"/><use href="#r" x="2071.3" y="688.6"/><use href="#r" x="2071.5" y="688.5"/><use href="#r" x="2071.7" y="688.5"/><use href="#r" x="2071.9" y="688.4"/><use href="#r" x="2072.1" y="688.3"/><use href="#r" x="2072.3" y="688.2"/><use href="#r" x="2072.5" y="688.1"/><use href="#r" x="2072.6" y="688"/><use href="#r" x="2072.8" y="687.9"/><use href="#r" x="2073" y="687.8"/><use href="#r" x="2073.2" y="687.8"/><use href="#r" x="2073.4" y="687.7"/><use href="#r" x="2073.6" y="687.6"/><use href="#r" x="2073.8" y="687.5"/><use href="#r" x="2074" y="687.4"/><use href="#r" x="2074.2" y="687.3"/><use href="#r" x="2074.4" y="687.2"/><use href="#r" x="2074.6" y="687.2"/><use href="#r" x="2074.8" y="687.1"/><use href="#r" x="2075" y="687"/><use href="#r" x="2075.2" y="686.9"/><use href="#r" x="2075.4" y="686.8"/><use href="#r" x="2075.6" y="686.7"/><use href="#r" x="2075.7" y="686.6"/><use href="#r" x="2075.9" y="686.5"/><use href="#r" x="2076.1" y="686.5"/><use href="#r" x="2076.3" y="686.4"/><use href="#r" x="2076.5" y="686.3"/><use href="#r" x="2076.7" y="686.2"/><use href="#r" x="2076.9" y="686.1"/><use href="#r" x="2077.1" y="686"/><use href="#r" x="2077.3" y="685.9"/><use href="#r" x="2077.5" y="685.9"/><use href="#r" x="2077.7" y="685.8"/><use href="#r" x="2077.9" y="685.7"/><use href="#r" x="2078" y="685.6"/><use href="#r" x="2078.2" y="685.5"/><use href="#r" x="2078.4" y="685.4"/><use href="#r" x="2078.6" y="685.3"/><use href="#r" x="2078.8" y="685.3"/><use href="#r" x="2079" y="685.2"/><use href="#r" x="2079.2" y="685.1"/><use href="#r" x="2079.4" y="685"/><use href="#r" x="2079.6" y="684.9"/><use href="#r" x="2079.8" y="684.8"/><use href="#r" x="2079.9" y="684.7"/><use href="#r" x="2080.1" y="684.7"/><use href="#r" x="2080.3" y="684.6"/><use href="#r" x="2080.5" y="684.5"/><use href="#r" x="2080.7" y="684.4"/><use href="#r" x="2080.9" y="684.3"/><use href="#r" x="2081.1" y="684.2"/><use href="#r" x="2081.3" y="684.2"/><use href="#r" x="2081.5" y="684.1"/><use href="#r" x="2081.6" y="684"/><use href="#r" x="2081.8" y="683.9"/><use href="#r" x="2082" y="683.8"/><use href="#r" x="2082.2" y="683.7"/><use href="#r" x="2082.4" y="683.6"/><use href="#r" x="2082.6" y="683.6"/><use href="#r" x="2082.8" y="683.5"/><use href="#r" x="2082.9" y="683.4"/><use href="#r" x="2083.1" y="683.3"/><use href="#r" x="2083.3" y="683.2"/><use href="#r" x="2083.5" y="683.1"/><use href="#r" x="2083.7" y="683.1"/><use href="#r" x="2083.9" y="683"/><use href="#r" x="2084.1" y="682.9"/><use href="#r" x="2084.3" y="682.8"/><use href="#r" x="2084.4" y="682.7"/><use href="#r" x="2084.6" y="682.6"/><use href="#r" x="2084.8" y="682.6"/><use href="#r" x="2085" y="682.5"/><use href="#r" x="2085.2" y="682.4"/><use href="#r" x="2085.4" y="682.3"/><use href="#r" x="2085.5" y="682.2"/><use href="#r" x="2085.7" y="682.1"/><use href="#r" x="2085.9" y="682.1"/><use href="#r" x="2086.1" y="682"/><use href="#r" x="2086.3" y="681.9"/><use href="#r" x="2086.5" y="681.8"/><use href="#r" x="2086.7" y="681.7"/><use href="#r" x="2086.8" y="681.6"/><use href="#r" x="2087" y="681.6"/><use href="#r" x="2087.2" y="681.5"/><use href="#r" x="2087.4" y="681.4"/><use href="#r" x="2087.6" y="681.3"/><use href="#r" x="2087.8" y="681.2"/><use href="#r" x="2087.9" y="681.1"/><use href="#r" x="2088.1" y="681.1"/><use href="#r" x="2088.3" y="681"/><use href="#r" x="2088.5" y="680.9"/><use href="#r" x="2088.7" y="680.8"/><use href="#r" x="2088.9" y="680.7"/><use href="#r" x="2089" y="680.6"/><use href="#r" x="2089.2" y="680.6"/><use href="#r" x="2089.4" y="680.5"/><use href="#r" x="2089.6" y="680.4"/><use href="#r" x="2089.8" y="680.3"/><use href="#r" x="2089.9" y="680.2"/><use href="#r" x="2090.1" y="680.2"/><use href="#r" x="2090.3" y="680.1"/><use href="#r" x="2090.5" y="680"/><use href="#r" x="2090.7" y="679.9"/><use href="#r" x="2090.8" y="679.8"/><use href="#r" x="2091" y="679.7"/><use href="#r" x="2091.2" y="679.7"/><use href="#r" x="2091.4" y="679.6"/><use href="#r" x="2091.6" y="679.5"/><use href="#r" x="2091.8" y="679.4"/><use href="#r" x="2091.9" y="679.3"/><use href="#r" x="2092.1" y="679.3"/><use href="#r" x="2092.3" y="679.2"/><use href="#r" x="2092.5" y="679.1"/><use href="#r" x="2092.7" y="679"/><use href="#r" x="2092.8" y="678.9"/><use href="#r" x="2093" y="678.8"/><use href="#r" x="2093.2" y="678.8"/><use href="#r" x="2093.4" y="678.7"/><use href="#r" x="2093.5" y="678.6"/><use href="#r" x="2093.7" y="678.5"/><use href="#r" x="2093.9" y="678.4"/><use href="#r" x="2094.1" y="678.4"/><use href="#r" x="2094.3" y="678.3"/><use href="#r" x="2094.4" y="678.2"/><use href="#r" x="2094.6" y="678.1"/><use href="#r" x="2094.8" y="678"/><use href="#r" x="2095" y="678"/><use href="#r" x="2095.1" y="677.9"/><use href="#r" x="2095.3" y="677.8"/><use href="#r" x="2095.5" y="677.7"/><use href="#r" x="2095.7" y="677.6"/><use href="#r" x="2095.9" y="677.6"/><use href="#r" x="2096" y="677.5"/><use href="#r" x="2096.2" y="677.4"/><use href="#r" x="2096.4" y="677.3"/><use href="#r" x="2096.6" y="677.2"/><use href="#r" x="2096.7" y="677.2"/><use href="#r" x="2096.9" y="677.1"/><use href="#r" x="2097.1" y="677"/><use href="#r" x="2097.3" y="676.9"/><use href="#r" x="2097.4" y="676.8"/><use href="#r" x="2097.6" y="676.8"/><use href="#r" x="2097.8" y="676.7"/><use href="#r" x="2098" y="676.6"/><use href="#r" x="2098.2" y="676.5"/><use href="#r" x="2098.3" y="676.4"/><use href="#r" x="2098.5" y="676.4"/><use href="#r" x="2098.7" y="676.3"/><use href="#r" x="2098.9" y="676.2"/><use href="#r" x="2099" y="676.1"/><use href="#r" x="2099.2" y="676"/><use href="#r" x="2099.4" y="676"/><use href="#r" x="2099.5" y="675.9"/><use href="#r" x="2099.7" y="675.8"/><use href="#r" x="2099.9" y="675.7"/><use href="#r" x="2100.1" y="675.6"/><use href="#r" x="2100.2" y="675.6"/><use href="#r" x="2100.4" y="675.5"/><use href="#r" x="2100.6" y="675.4"/><use href="#r" x="2100.8" y="675.3"/><use href="#r" x="2100.9" y="675.2"/><use href="#r" x="2101.1" y="675.2"/><use href="#r" x="2101.3" y="675.1"/><use href="#r" x="2101.5" y="675"/><use href="#r" x="2101.6" y="674.9"/><use href="#r" x="2101.8" y="674.8"/><use href="#r" x="2102" y="674.8"/><use href="#r" x="2102.2" y="674.7"/><use href="#r" x="2102.3" y="674.6"/><use href="#r" x="2102.5" y="674.5"/><use href="#r" x="2102.7" y="674.5"/><use href="#r" x="2102.8" y="674.4"/><use href="#r" x="2103" y="674.3"/><use href="#r" x="2103.2" y="674.2"/><use href="#r" x="2103.4" y="674.1"/><use href="#r" x="2103.5" y="674.1"/><use href="#r" x="2103.7" y="674"/><use href="#r" x="2103.9" y="673.9"/><use href="#r" x="2104" y="673.8"/><use href="#r" x="2104.2" y="673.7"/><use href="#r" x="2104.4" y="673.7"/><use href="#r" x="2104.6" y="673.6"/><use href="#r" x="2104.7" y="673.5"/><use href="#r" x="2104.9" y="673.4"/><use href="#r" x="2105.1" y="673.4"/><use href="#r" x="2105.2" y="673.3"/><use href="#r" x="2105.4" y="673.2"/><use href="#r" x="2105.6" y="673.1"/><use href="#r" x="2105.7" y="673"/><use href="#r" x="2105.9" y="673"/><use href="#r" x="2106.1" y="672.9"/><use href="#r" x="2106.3" y="672.8"/><use href="#r" x="2106.4" y="672.7"/><use href="#r" x="2106.6" y="672.7"/><use href="#r" x="2106.8" y="672.6"/><use href="#r" x="2106.9" y="672.5"/><use href="#r" x="2107.1" y="672.4"/><use href="#r" x="2107.3" y="672.3"/><use href="#r" x="2107.4" y="672.3"/><use href="#r" x="2107.6" y="672.2"/><use href="#r" x="2107.8" y="672.1"/><use href="#r" x="2108" y="672"/><use href="#r" x="2108.1" y="672"/><use href="#r" x="2108.3" y="671.9"/><use href="#r" x="2108.5" y="671.8"/><use href="#r" x="2108.6" y="671.7"/><use href="#r" x="2108.8" y="671.6"/><use href="#r" x="2109" y="671.6"/><use href="#r" x="2109.1" y="671.5"/><use href="#r" x="2109.3" y="671.4"/><use href="#r" x="2109.5" y="671.3"/><use href="#r" x="2109.6" y="671.3"/><use href="#r" x="2109.8" y="671.2"/><use href="#r" x="2110" y="671.1"/><use href="#r" x="2110.1" y="671"/><use href="#r" x="2110.3" y="670.9"/><use href="#r" x="2110.5" y="670.9"/><use href="#r" x="2110.6" y="670.8"/><use href="#r" x="2110.8" y="670.7"/><use href="#r" x="2111" y="670.6"/><use href="#r" x="2111.1" y="670.6"/><use href="#r" x="2111.3" y="670.5"/><use href="#r" x="2111.5" y="670.4"/><use href="#r" x="2111.6" y="670.3"/><use href="#r" x="2111.8" y="670.3"/><use href="#r" x="2112" y="670.2"/><use href="#r" x="2112.1" y="670.1"/><use href="#r" x="2112.3" y="670"/><use href="#r" x="2112.5" y="670"/><use href="#r" x="2112.6" y="669.9"/><use href="#r" x="2112.8" y="669.8"/><use href="#r" x="2113" y="669.7"/><use href="#r" x="2113.1" y="669.6"/><use href="#r" x="2113.3" y="669.6"/><use href="#r" x="2113.4" y="669.5"/><use href="#r" x="2113.6" y="669.4"/><use href="#r" x="2113.8" y="669.3"/><use href="#r" x="2113.9" y="669.3"/><use href="#r" x="2114.1" y="669.2"/><use href="#r" x="2114.3" y="669.1"/><use href="#r" x="2114.4" y="669"/><use href="#r" x="2114.6" y="669"/><use href="#r" x="2114.8" y="668.9"/><use href="#r" x="2114.9" y="668.8"/><use href="#r" x="2115.1" y="668.7"/><use href="#r" x="2115.3" y="668.7"/><use href="#r" x="2115.4" y="668.6"/><use href="#r" x="2115.6" y="668.5"/><use href="#r" x="2115.7" y="668.4"/><use href="#r" x="2115.9" y="668.4"/><use href="#r" x="2116.1" y="668.3"/><use href="#r" x="2116.2" y="668.2"/><use href="#r" x="2116.4" y="668.1"/><use href="#r" x="2116.6" y="668.1"/><use href="#r" x="2116.7" y="668"/><use href="#r" x="2116.9" y="667.9"/><use href="#r" x="2117" y="667.8"/><use href="#r" x="2117.2" y="667.8"/><use href="#r" x="2117.4" y="667.7"/><use href="#r" x="2117.5" y="667.6"/><use href="#r" x="2117.7" y="667.5"/><use href="#r" x="2117.9" y="667.5"/><use href="#r" x="2118" y="667.4"/><use href="#r" x="2118.2" y="667.3"/><use href="#r" x="2118.3" y="667.2"/><use href="#r" x="2118.5" y="667.2"/><use href="#r" x="2118.7" y="667.1"/><use href="#r" x="2118.8" y="667"/><use href="#r" x="2119" y="666.9"/><use href="#r" x="2119.1" y="666.9"/><use href="#r" x="2119.3" y="666.8"/><use href="#r" x="2119.5" y="666.7"/><use href="#r" x="2119.6" y="666.6"/><use href="#r" x="2119.8" y="666.6"/><use href="#r" x="2120" y="666.5"/><use href="#r" x="2120.1" y="666.4"/><use href="#r" x="2120.3" y="666.3"/><use href="#r" x="2120.4" y="666.3"/><use href="#r" x="2120.6" y="666.2"/><use href="#r" x="2120.8" y="666.1"/><use href="#r" x="2120.9" y="666"/><use href="#r" x="2121.1" y="666"/><use href="#r" x="2121.2" y="665.9"/><use href="#r" x="2121.4" y="665.8"/><use href="#r" x="2121.6" y="665.7"/><use href="#r" x="2121.7" y="665.7"/><use href="#r" x="2121.9" y="665.6"/><use href="#r" x="2122" y="665.5"/><use href="#r" x="2122.2" y="665.4"/><use href="#r" x="2122.3" y="665.4"/><use href="#r" x="2122.5" y="665.3"/><use href="#r" x="2122.7" y="665.2"/><use href="#r" x="2122.8" y="665.2"/><use href="#r" x="2123" y="665.1"/><use href="#r" x="2123.1" y="665"/><use href="#r" x="2123.3" y="664.9"/><use href="#r" x="2123.5" y="664.9"/><use href="#r" x="2123.6" y="664.8"/><use href="#r" x="2123.8" y="664.7"/><use href="#r" x="2123.9" y="664.6"/><use href="#r" x="2124.1" y="664.6"/><use href="#r" x="2124.2" y="664.5"/><use href="#r" x="2124.4" y="664.4"/><use href="#r" x="2124.6" y="664.3"/><use href="#r" x="2124.7" y="664.3"/><use href="#r" x="2124.9" y="664.2"/><use href="#r" x="2125" y="664.1"/><use href="#r" x="2125.2" y="664.1"/><use href="#r" x="2125.3" y="664"/><use href="#r" x="2125.5" y="663.9"/><use href="#r" x="2125.7" y="663.8"/><use href="#r" x="2125.8" y="663.8"/><use href="#r" x="2126" y="663.7"/><use href="#r" x="2126.1" y="663.6"/><use href="#r" x="2126.3" y="663.5"/><use href="#r" x="2126.4" y="663.5"/><use href="#r" x="2126.6" y="663.4"/><use href="#r" x="2126.8" y="663.3"/><use href="#r" x="2126.9" y="663.3"/><use href="#r" x="2127.1" y="663.2"/><use href="#r" x="2127.2" y="663.1"/><use href="#r" x="2127.4" y="663"/><use href="#r" x="2127.5" y="663"/><use href="#r" x="2127.7" y="662.9"/><use href="#r" x="2127.8" y="662.8"/><use href="#r" x="2128" y="662.8"/><use href="#r" x="2128.2" y="662.7"/><use href="#r" x="2128.3" y="662.6"/><use href="#r" x="2128.5" y="662.5"/><use href="#r" x="2128.6" y="662.5"/><use href="#r" x="2128.8" y="662.4"/><use href="#r" x="2128.9" y="662.3"/><use href="#r" x="2129.1" y="662.2"/><use href="#r" x="2129.2" y="662.2"/><use href="#r" x="2129.4" y="662.1"/><use href="#r" x="2129.5" y="662"/><use href="#r" x="2129.7" y="662"/><use href="#r" x="2129.9" y="661.9"/><use href="#r" x="2130" y="661.8"/><use href="#r" x="2130.2" y="661.7"/><use href="#r" x="2130.3" y="661.7"/><use href="#r" x="2130.5" y="661.6"/><use href="#r" x="2130.6" y="661.5"/><use href="#r" x="2130.8" y="661.5"/><use href="#r" x="2130.9" y="661.4"/><use href="#r" x="2131.1" y="661.3"/><use href="#r" x="2131.2" y="661.3"/><use href="#r" x="2131.4" y="661.2"/><use href="#r" x="2131.5" y="661.1"/><use href="#r" x="2131.7" y="661"/><use href="#r" x="2131.8" y="661"/><use href="#r" x="2132" y="660.9"/><use href="#r" x="2132.2" y="660.8"/><use href="#r" x="2132.3" y="660.8"/><use href="#r" x="2132.5" y="660.7"/><use href="#r" x="2132.6" y="660.6"/><use href="#r" x="2132.8" y="660.5"/><use href="#r" x="2132.9" y="660.5"/><use href="#r" x="2133.1" y="660.4"/><use href="#r" x="2133.2" y="660.3"/><use href="#r" x="2133.4" y="660.3"/><use href="#r" x="2133.5" y="660.2"/><use href="#r" x="2133.7" y="660.1"/><use href="#r" x="2133.8" y="660.1"/><use href="#r" x="2134" y="660"/><use href="#r" x="2134.1" y="659.9"/><use href="#r" x="2134.3" y="659.8"/><use href="#r" x="2134.4" y="659.8"/><use href="#r" x="2134.6" y="659.7"/><use href="#r" x="2134.7" y="659.6"/><use href="#r" x="2134.9" y="659.6"/><use href="#r" x="2135" y="659.5"/><use href="#r" x="2135.2" y="659.4"/><use href="#r" x="2135.3" y="659.4"/><use href="#r" x="2135.5" y="659.3"/><use href="#r" x="2135.6" y="659.2"/><use href="#r" x="2135.8" y="659.1"/><use href="#r" x="2135.9" y="659.1"/><use href="#r" x="2136.1" y="659"/><use href="#r" x="2136.2" y="658.9"/><use href="#r" x="2136.4" y="658.9"/><use href="#r" x="2136.5" y="658.8"/><use href="#r" x="2136.7" y="658.7"/><use href="#r" x="2136.8" y="658.7"/><use href="#r" x="2137" y="658.6"/><use href="#r" x="2137.1" y="658.5"/><use href="#r" x="2137.3" y="658.4"/><use href="#r" x="2137.4" y="658.4"/><use href="#r" x="2137.6" y="658.3"/><use href="#r" x="2137.7" y="658.2"/><use href="#r" x="2137.9" y="658.2"/><use href="#r" x="2138" y="658.1"/><use href="#r" x="2138.2" y="658"/><use href="#r" x="2138.3" y="658"/><use href="#r" x="2138.5" y="657.9"/><use href="#r" x="2138.6" y="657.8"/><use href="#r" x="2138.8" y="657.8"/><use href="#r" x="2138.9" y="657.7"/><use href="#r" x="2139.1" y="657.6"/><use href="#r" x="2139.2" y="657.6"/><use href="#r" x="2139.4" y="657.5"/><use href="#r" x="2139.5" y="657.4"/><use href="#r" x="2139.7" y="657.4"/><use href="#r" x="2139.8" y="657.3"/><use href="#r" x="2140" y="657.2"/><use href="#r" x="2140.1" y="657.1"/><use href="#r" x="2140.3" y="657.1"/><use href="#r" x="2140.4" y="657"/><use href="#r" x="2140.6" y="656.9"/><use href="#r" x="2140.7" y="656.9"/><use href="#r" x="2140.8" y="656.8"/><use href="#r" x="2141" y="656.7"/><use href="#r" x="2141.1" y="656.7"/><use href="#r" x="2141.3" y="656.6"/><use href="#r" x="2141.4" y="656.5"/><use href="#r" x="2141.6" y="656.5"/><use href="#r" x="2141.7" y="656.4"/><use href="#r" x="2141.9" y="656.3"/><use href="#r" x="2142" y="656.3"/><use href="#r" x="2142.2" y="656.2"/><use href="#r" x="2142.3" y="656.1"/><use href="#r" x="2142.5" y="656.1"/><use href="#r" x="2142.6" y="656"/><use href="#r" x="2142.8" y="655.9"/><use href="#r" x="2142.9" y="655.9"/><use href="#r" x="2143" y="655.8"/><use href="#r" x="2143.2" y="655.7"/><use href="#r" x="2143.3" y="655.7"/><use href="#r" x="2143.5" y="655.6"/><use href="#r" x="2143.6" y="655.5"/><use href="#r" x="2143.8" y="655.5"/><use href="#r" x="2143.9" y="655.4"/><use href="#r" x="2144.1" y="655.3"/><use href="#r" x="2144.2" y="655.3"/><use href="#r" x="2144.4" y="655.2"/><use href="#r" x="2144.5" y="655.1"/><use href="#r" x="2144.6" y="655.1"/><use href="#r" x="2144.8" y="655"/><use href="#r" x="2144.9" y="654.9"/><use href="#r" x="2145.1" y="654.9"/><use href="#r" x="2145.2" y="654.8"/><use href="#r" x="2145.4" y="654.7"/><use href="#r" x="2145.5" y="654.7"/><use href="#r" x="2145.7" y="654.6"/><use href="#r" x="2145.8" y="654.5"/><use href="#r" x="2145.9" y="654.5"/><use href="#r" x="2146.1" y="654.4"/><use href="#r" x="2146.2" y="654.3"/><use href="#r" x="2146.4" y="654.3"/><use href="#r" x="2146.5" y="654.2"/><use href="#r" x="2146.7" y="654.1"/><use href="#r" x="2146.8" y="654.1"/><use href="#r" x="2147" y="654"/><use href="#r" x="2147.1" y="653.9"/><use href="#r" x="2147.2" y="653.9"/><use href="#r" x="2147.4" y="653.8"/><use href="#r" x="2147.5" y="653.7"/><use href="#r" x="2147.7" y="653.7"/><use href="#r" x="2147.8" y="653.6"/><use href="#r" x="2148" y="653.5"/><use href="#r" x="2148.1" y="653.5"/><use href="#r" x="2148.2" y="653.4"/><use href="#r" x="2148.4" y="653.3"/><use href="#r" x="2148.5" y="653.3"/><use href="#r" x="2148.7" y="653.2"/><use href="#r" x="2148.8" y="653.1"/><use href="#r" x="2149" y="653.1"/><use href="#r" x="2149.1" y="653"/><use href="#r" x="2149.2" y="652.9"/><use href="#r" x="2149.4" y="652.9"/><use href="#r" x="2149.5" y="652.8"/><use href="#r" x="2149.7" y="652.8"/><use href="#r" x="2149.8" y="652.7"/><use href="#r" x="2149.9" y="652.6"/><use href="#r" x="2150.1" y="652.6"/><use href="#r" x="2150.2" y="652.5"/><use href="#r" x="2150.4" y="652.4"/><use href="#r" x="2150.5" y="652.4"/><use href="#r" x="2150.7" y="652.3"/><use href="#r" x="2150.8" y="652.2"/><use href="#r" x="2150.9" y="652.2"/><use href="#r" x="2151.1" y="652.1"/><use href="#r" x="2151.2" y="652"/><use href="#r" x="2151.4" y="652"/><use href="#r" x="2151.5" y="651.9"/><use href="#r" x="2151.6" y="651.9"/><use href="#r" x="2151.8" y="651.8"/><use href="#r" x="2151.9" y="651.7"/><use href="#r" x="2152.1" y="651.7"/><use href="#r" x="2152.2" y="651.6"/><use href="#r" x="2152.3" y="651.5"/><use href="#r" x="2152.5" y="651.5"/><use href="#r" x="2152.6" y="651.4"/><use href="#r" x="2152.8" y="651.3"/><use href="#r" x="2152.9" y="651.3"/><use href="#r" x="2153" y="651.2"/><use href="#r" x="2153.2" y="651.1"/><use href="#r" x="2153.3" y="651.1"/><use href="#r" x="2153.5" y="651"/><use href="#r" x="2153.6" y="651"/><use href="#r" x="2153.7" y="650.9"/><use href="#r" x="2153.9" y="650.8"/><use href="#r" x="2154" y="650.8"/><use href="#r" x="2154.2" y="650.7"/><use href="#r" x="2154.3" y="650.6"/><use href="#r" x="2154.4" y="650.6"/><use href="#r" x="2154.6" y="650.5"/><use href="#r" x="2154.7" y="650.4"/><use href="#r" x="2154.9" y="650.4"/><use href="#r" x="2155" y="650.3"/><use href="#r" x="2155.1" y="650.3"/><use href="#r" x="2155.3" y="650.2"/><use href="#r" x="2155.4" y="650.1"/><use href="#r" x="2155.6" y="650.1"/><use href="#r" x="2155.7" y="650"/><use href="#r" x="2155.8" y="649.9"/><use href="#r" x="2156" y="649.9"/><use href="#r" x="2156.1" y="649.8"/><use href="#r" x="2156.2" y="649.8"/><use href="#r" x="2156.4" y="649.7"/><use href="#r" x="2156.5" y="649.6"/><use href="#r" x="2156.7" y="649.6"/><use href="#r" x="2156.8" y="649.5"/><use href="#r" x="2156.9" y="649.4"/><use href="#r" x="2157.1" y="649.4"/><use href="#r" x="2157.2" y="649.3"/><use href="#r" x="2157.4" y="649.3"/><use href="#r" x="2157.5" y="649.2"/><use href="#r" x="2157.6" y="649.1"/><use href="#r" x="2157.8" y="649.1"/><use href="#r" x="2157.9" y="649"/><use href="#r" x="2158" y="648.9"/><use href="#r" x="2158.2" y="648.9"/><use href="#r" x="2158.3" y="648.8"/><use href="#r" x="2158.4" y="648.8"/><use href="#r" x="2158.6" y="648.7"/><use href="#r" x="2158.7" y="648.6"/><use href="#r" x="2158.9" y="648.6"/><use href="#r" x="2159" y="648.5"/><use href="#r" x="2159.1" y="648.5"/><use href="#r" x="2159.3" y="648.4"/><use href="#r" x="2159.4" y="648.3"/><use href="#r" x="2159.5" y="648.3"/><use href="#r" x="2159.7" y="648.2"/><use href="#r" x="2159.8" y="648.1"/><use href="#r" x="2160" y="648.1"/><use href="#r" x="2160.1" y="648"/><use href="#r" x="2160.2" y="648"/><use href="#r" x="2160.4" y="647.9"/><use href="#r" x="2160.5" y="647.8"/><use href="#r" x="2160.6" y="647.8"/><use href="#r" x="2160.8" y="647.7"/><use href="#r" x="2160.9" y="647.7"/><use href="#r" x="2161" y="647.6"/><use href="#r" x="2161.2" y="647.5"/><use href="#r" x="2161.3" y="647.5"/><use href="#r" x="2161.4" y="647.4"/><use href="#r" x="2161.6" y="647.4"/><use href="#r" x="2161.7" y="647.3"/><use href="#r" x="2161.8" y="647.2"/><use href="#r" x="2162" y="647.2"/><use href="#r" x="2162.1" y="647.1"/><use href="#r" x="2162.3" y="647"/><use href="#r" x="2162.4" y="647"/><use href="#r" x="2162.5" y="646.9"/><use href="#r" x="2162.7" y="646.9"/><use href="#r" x="2162.8" y="646.8"/><use href="#r" x="2162.9" y="646.7"/><use href="#r" x="2163.1" y="646.7"/><use href="#r" x="2163.2" y="646.6"/><use href="#r" x="2163.3" y="646.6"/><use href="#r" x="2163.5" y="646.5"/><use href="#r" x="2163.6" y="646.4"/><use href="#r" x="2163.7" y="646.4"/><use href="#r" x="2163.9" y="646.3"/><use href="#r" x="2164" y="646.3"/><use href="#r" x="2164.1" y="646.2"/><use href="#r" x="2164.3" y="646.1"/><use href="#r" x="2164.4" y="646.1"/><use href="#r" x="2164.5" y="646"/><use href="#r" x="2164.7" y="646"/><use href="#r" x="2164.8" y="645.9"/><use href="#r" x="2164.9" y="645.9"/><use href="#r" x="2165.1" y="645.8"/><use href="#r" x="2165.2" y="645.7"/><use href="#r" x="2165.3" y="645.7"/><use href="#r" x="2165.5" y="645.6"/><use href="#r" x="2165.6" y="645.6"/><use href="#r" x="2165.7" y="645.5"/><use href="#r" x="2165.9" y="645.4"/><use href="#r" x="2166" y="645.4"/><use href="#r" x="2166.1" y="645.3"/><use href="#r" x="2166.3" y="645.3"/><use href="#r" x="2166.4" y="645.2"/><use href="#r" x="2166.5" y="645.1"/><use href="#r" x="2166.7" y="645.1"/><use href="#r" x="2166.8" y="645"/><use href="#r" x="2166.9" y="645"/><use href="#r" x="2167.1" y="644.9"/><use href="#r" x="2167.2" y="644.8"/><use href="#r" x="2167.3" y="644.8"/><use href="#r" x="2167.5" y="644.7"/><use href="#r" x="2167.6" y="644.7"/><use href="#r" x="2167.7" y="644.6"/><use href="#r" x="2167.9" y="644.6"/><use href="#r" x="2168" y="644.5"/><use href="#r" x="2168.1" y="644.4"/><use href="#r" x="2168.2" y="644.4"/><use href="#r" x="2168.4" y="644.3"/><use href="#r" x="2168.5" y="644.3"/><use href="#r" x="2168.6" y="644.2"/><use href="#r" x="2168.8" y="644.1"/><use href="#r" x="2168.9" y="644.1"/><use href="#r" x="2169" y="644"/><use href="#r" x="2169.2" y="644"/><use href="#r" x="2169.3" y="643.9"/><use href="#r" x="2169.4" y="643.9"/><use href="#r" x="2169.6" y="643.8"/><use href="#r" x="2169.7" y="643.7"/><use href="#r" x="2169.8" y="643.7"/><use href="#r" x="2170" y="643.6"/><use href="#r" x="2170.1" y="643.6"/><use href="#r" x="2170.2" y="643.5"/><use href="#r" x="2170.3" y="643.5"/><use href="#r" x="2170.5" y="643.4"/><use href="#r" x="2170.6" y="643.3"/><use href="#r" x="2170.7" y="643.3"/><use href="#r" x="2170.9" y="643.2"/><use href="#r" x="2171" y="643.2"/><use href="#r" x="2171.1" y="643.1"/><use href="#r" x="2171.3" y="643.1"/><use href="#r" x="2171.4" y="643"/><use href="#r" x="2171.5" y="642.9"/><use href="#r" x="2171.6" y="642.9"/><use href="#r" x="2171.8" y="642.8"/><use href="#r" x="2171.9" y="642.8"/><use href="#r" x="2172" y="642.7"/><use href="#r" x="2172.2" y="642.7"/><use href="#r" x="2172.3" y="642.6"/><use href="#r" x="2172.4" y="642.5"/><use href="#r" x="2172.6" y="642.5"/><use href="#r" x="2172.7" y="642.4"/><use href="#r" x="2172.8" y="642.4"/><use href="#r" x="2172.9" y="642.3"/><use href="#r" x="2173.1" y="642.3"/><use href="#r" x="2173.2" y="642.2"/><use href="#r" x="2173.3" y="642.1"/><use href="#r" x="2173.5" y="642.1"/><use href="#r" x="2173.6" y="642"/><use href="#r" x="2173.7" y="642"/><use href="#r" x="2173.8" y="641.9"/><use href="#r" x="2174" y="641.9"/><use href="#r" x="2174.1" y="641.8"/><use href="#r" x="2174.2" y="641.7"/><use href="#r" x="2174.4" y="641.7"/><use href="#r" x="2174.5" y="641.6"/><use href="#r" x="2174.6" y="641.6"/><use href="#r" x="2174.7" y="641.5"/><use href="#r" x="2174.9" y="641.5"/><use href="#r" x="2175" y="641.4"/><use href="#r" x="2175.1" y="641.4"/><use href="#r" x="2175.2" y="641.3"/><use href="#r" x="2175.4" y="641.2"/><use href="#r" x="2175.5" y="641.2"/><use href="#r" x="2175.6" y="641.1"/><use href="#r" x="2175.8" y="641.1"/><use href="#r" x="2175.9" y="641"/><use href="#r" x="2176" y="641"/><use href="#r" x="2176.1" y="640.9"/><use href="#r" x="2176.3" y="640.9"/><use href="#r" x="2176.4" y="640.8"/><use href="#r" x="2176.5" y="640.7"/><use href="#r" x="2176.7" y="640.7"/><use href="#r" x="2176.8" y="640.6"/><use href="#r" x="2176.9" y="640.6"/><use href="#r" x="2177" y="640.5"/><use href="#r" x="2177.2" y="640.5"/><use href="#r" x="2177.3" y="640.4"/><use href="#r" x="2177.4" y="640.4"/><use href="#r" x="2177.5" y="640.3"/><use href="#r" x="2177.7" y="640.2"/><use href="#r" x="2177.8" y="640.2"/><use href="#r" x="2177.9" y="640.1"/><use href="#r" x="2178" y="640.1"/><use href="#r" x="2178.2" y="640"/><use href="#r" x="2178.3" y="640"/><use href="#r" x="2178.4" y="639.9"/><use href="#r" x="2178.6" y="639.9"/><use href="#r" x="2178.7" y="639.8"/><use href="#r" x="2178.8" y="639.8"/><use href="#r" x="2178.9" y="639.7"/><use href="#r" x="2179.1" y="639.6"/><use href="#r" x="2179.2" y="639.6"/><use href="#r" x="2179.3" y="639.5"/><use href="#r" x="2179.4" y="639.5"/><use href="#r" x="2179.6" y="639.4"/><use href="#r" x="2179.7" y="639.4"/><use href="#r" x="2179.8" y="639.3"/><use href="#r" x="2179.9" y="639.3"/><use href="#r" x="2180.1" y="639.2"/><use href="#r" x="2180.2" y="639.2"/><use href="#r" x="2180.3" y="639.1"/><use href="#r" x="2180.4" y="639"/><use href="#r" x="2180.6" y="639"/><use href="#r" x="2180.7" y="638.9"/><use href="#r" x="2180.8" y="638.9"/><use href="#r" x="2180.9" y="638.8"/><use href="#r" x="2181.1" y="638.8"/><use href="#r" x="2181.2" y="638.7"/><use href="#r" x="2181.3" y="638.7"/><use href="#r" x="2181.4" y="638.6"/><use href="#r" x="2181.6" y="638.6"/><use href="#r" x="2181.7" y="638.5"/><use href="#r" x="2181.8" y="638.4"/><use href="#r" x="2181.9" y="638.4"/><use href="#r" x="2182.1" y="638.3"/><use href="#r" x="2182.2" y="638.3"/><use href="#r" x="2182.3" y="638.2"/><use href="#r" x="2182.4" y="638.2"/><use href="#r" x="2182.6" y="638.1"/><use href="#r" x="2182.7" y="638.1"/><use href="#r" x="2182.8" y="638"/><use href="#r" x="2182.9" y="638"/><use href="#r" x="2183" y="637.9"/><use href="#r" x="2183.2" y="637.9"/><use href="#r" x="2183.3" y="637.8"/><use href="#r" x="2183.4" y="637.7"/><use href="#r" x="2183.5" y="637.7"/><use href="#r" x="2183.7" y="637.6"/><use href="#r" x="2183.8" y="637.6"/><use href="#r" x="2183.9" y="637.5"/><use href="#r" x="2184" y="637.5"/><use href="#r" x="2184.2" y="637.4"/><use href="#r" x="2184.3" y="637.4"/><use href="#r" x="2184.4" y="637.3"/><use href="#r" x="2184.5" y="637.3"/><use href="#r" x="2184.7" y="637.2"/><use href="#r" x="2184.8" y="637.2"/><use href="#r" x="2184.9" y="637.1"/><use href="#r" x="2185" y="637.1"/><use href="#r" x="2185.1" y="637"/><use href="#r" x="2185.3" y="636.9"/><use href="#r" x="2185.4" y="636.9"/><use href="#r" x="2185.5" y="636.8"/><use href="#r" x="2185.6" y="636.8"/><use href="#r" x="2185.8" y="636.7"/><use href="#r" x="2185.9" y="636.7"/><use href="#r" x="2186" y="636.6"/><use href="#r" x="2186.1" y="636.6"/><use href="#r" x="2186.2" y="636.5"/><use href="#r" x="2186.4" y="636.5"/><use href="#r" x="2186.5" y="636.4"/><use href="#r" x="2186.6" y="636.4"/><use href="#r" x="2186.7" y="636.3"/><use href="#r" x="2186.9" y="636.3"/><use href="#r" x="2187" y="636.2"/><use href="#r" x="2187.1" y="636.2"/>
</g>
<g id="blue">
<use href="#b" x="336.2" y="1203"/><use href="#b" x="505" y="1163.8"/><use href="#b" x="603.7" y="1134.8"/><use href="#b" x="673.8" y="1111.7"/><use href="#b" x="728.1" y="1093"/><use href="#b" x="772.5" y="1077.7"/><use href="#b" x="810.1" y="1063.7"/><use href="#b" x="842.6" y="1051.7"/><use href="#b" x="871.3" y="1041"/><use href="#b" x="896.9" y="1031"/><use href="#b" x="920.1" y="1021.7"/><use href="#b" x="941.3" y="1013"/><use href="#b" x="960.8" y="1005.2"/><use href="#b" x="978.8" y="998.5"/><use href="#b" x="995.6" y="991.7"/><use href="#b" x="1011.4" y="985"/><use href="#b" x="1026.1" y="978.5"/><use href="#b" x="1040" y="972.4"/><use href="#b" x="1053.2" y="966.7"/><use href="#b" x="1065.7" y="961.4"/><use href="#b" x="1077.6" y="956.4"/><use href="#b" x="1088.9" y="951.8"/><use href="#b" x="1099.7" y="947.4"/><use href="#b" x="1110.1" y="943.1"/><use href="#b" x="1120" y="939"/><use href="#b" x="1129.6" y="935"/><use href="#b" x="1138.8" y="931"/><use href="#b" x="1147.6" y="927.1"/><use href="#b" x="1156.2" y="923.2"/><use href="#b" x="1164.4" y="919.5"/><use href="#b" x="1172.4" y="915.8"/><use href="#b" x="1180.2" y="912.3"/><use href="#b" x="1187.6" y="908.9"/><use href="#b" x="1194.9" y="905.7"/><use href="#b" x="1202" y="902.5"/><use href="#b" x="1208.8" y="899.5"/><use href="#b" x="1215.5" y="896.6"/><use href="#b" x="1222" y="893.7"/><use href="#b" x="1228.3" y="891"/><use href="#b" x="1234.5" y="888.3"/><use href="#b" x="1240.5" y="885.7"/><use href="#b" x="1246.4" y="883.1"/><use href="#b" x="1252.1" y="880.7"/><use href="#b" x="1257.7" y="878.2"/><use href="#b" x="1263.2" y="875.8"/><use href="#b" x="1268.5" y="873.5"/><use href="#b" x="1273.8" y="871.2"/><use href="#b" x="1278.9" y="868.9"/><use href="#b" x="1283.9" y="866.7"/><use href="#b" x="1288.8" y="864.5"/><use href="#b" x="1293.6" y="862.4"/><use href="#b" x="1298.4" y="860.2"/><use href="#b" x="1303" y="858.1"/><use href="#b" x="1307.6" y="856"/><use href="#b" x="1312" y="854"/><use href="#b" x="1316.4" y="851.9"/><use href="#b" x="1320.7" y="849.9"/><use href="#b" x="1325" y="847.9"/><use href="#b" x="1329.1" y="846"/><use href="#b" x="1333.2" y="844.1"/><use href="#b" x="1337.2" y="842.2"/><use href="#b" x="1341.2" y="840.3"/><use href="#b" x="1345.1" y="838.5"/><use href="#b" x="1348.9" y="836.7"/><use href="#b" x="1352.7" y="834.9"/><use href="#b" x="1356.4" y="833.2"/><use href="#b" x="1360.1" y="831.5"/><use href="#b" x="1363.7" y="829.8"/><use href="#b" x="1367.3" y="828.2"/><use href="#b" x="1370.8" y="826.6"/><use href="#b" x="1374.2" y="825"/><use href="#b" x="1377.6" y="823.5"/><use href="#b" x="1381" y="821.9"/><use href="#b" x="1384.3" y="820.4"/><use href="#b" x="1387.6" y="819"/><use href="#b" x="1390.8" y="817.5"/><use href="#b" x="1394" y="816.1"/><use href="#b" x="1397.1" y="814.7"/><use href="#b" x="1400.2" y="813.3"/><use href="#b" x="1403.3" y="811.9"/><use href="#b" x="1406.3" y="810.6"/><use href="#b" x="1409.3" y="809.2"/><use href="#b" x="1412.2" y="807.9"/><use href="#b" x="1415.2" y="806.6"/><use href="#b" x="1418" y="805.3"/><use href="#b" x="1420.9" y="804"/><use href="#b" x="1423.7" y="802.8"/><use href="#b" x="1426.5" y="801.5"/><use href="#b" x="1429.2" y="800.3"/><use href="#b" x="1432" y="799.1"/><use href="#b" x="1434.6" y="797.8"/><use href="#b" x="1437.3" y="796.6"/><use href="#b" x="1439.9" y="795.4"/><use href="#b" x="1442.5" y="794.3"/><use href="#b" x="1445.1" y="793.1"/><use href="#b" x="1447.7" y="792"/><use href="#b" x="1450.2" y="790.8"/><use href="#b" x="1452.7" y="789.7"/><use href="#b" x="1455.2" y="788.6"/><use href="#b" x="1457.6" y="787.5"/><use href="#b" x="1460" y="786.4"/><use href="#b" x="1462.4" y="785.3"/><use href="#b" x="1464.8" y="784.2"/><use href="#b" x="1467.2" y="783.2"/><use href="#b" x="1469.5" y="782.1"/><use href="#b" x="1471.8" y="781.1"/><use href="#b" x="1474.1" y="780"/><use href="#b" x="1476.4" y="779"/><use href="#b" x="1478.6" y="778"/><use href="#b" x="1480.8" y="777"/><use href="#b" x="1483" y="776"/><use href="#b" x="1485.2" y="775"/><use href="#b" x="1487.4" y="774"/><use href="#b" x="1489.5" y="773"/><use href="#b" x="1491.6" y="772"/><use href="#b" x="1493.8" y="771"/><use href="#b" x="1495.8" y="770.1"/><use href="#b" x="1497.9" y="769.1"/><use href="#b" x="1500" y="768.2"/><use href="#b" x="1502" y="767.2"/><use href="#b" x="1504" y="766.3"/><use href="#b" x="1506" y="765.3"/><use href="#b" x="1508" y="764.4"/><use href="#b" x="1510" y="763.5"/><use href="#b" x="1511.9" y="762.6"/><use href="#b" x="1513.9" y="761.6"/><use href="#b" x="1515.8" y="760.7"/><use href="#b" x="1517.7" y="759.8"/><use href="#b" x="1519.6" y="758.9"/><use href="#b" x="1521.5" y="758"/><use href="#b" x="1523.4" y="757.1"/><use href="#b" x="1525.2" y="756.3"/><use href="#b" x="1527.1" y="755.4"/><use href="#b" x="1528.9" y="754.5"/><use href="#b" x="1530.7" y="753.7"/><use href="#b" x="1532.5" y="752.8"/><use href="#b" x="1534.3" y="751.9"/><use href="#b" x="1536" y="751.1"/><use href="#b" x="1537.8" y="750.3"/><use href="#b" x="1539.5" y="749.4"/><use href="#b" x="1541.3" y="748.6"/><use href="#b" x="1543" y="747.8"/><use href="#b" x="1544.7" y="747"/><use href="#b" x="1546.4" y="746.2"/><use href="#b" x="1548.1" y="745.4"/><use href="#b" x="1549.8" y="744.6"/><use href="#b" x="1551.4" y="743.8"/><use href="#b" x="1553.1" y="743"/><use href="#b" x="1554.7" y="742.3"/><use href="#b" x="1556.3" y="741.5"/><use href="#b" x="1558" y="740.8"/><use href="#b" x="1559.6" y="740"/><use href="#b" x="1561.2" y="739.3"/><use href="#b" x="1562.8" y="738.5"/><use href="#b" x="1564.3" y="737.8"/><use href="#b" x="1565.9" y="737.1"/><use href="#b" x="1567.5" y="736.4"/><use href="#b" x="1569" y="735.7"/><use href="#b" x="1570.5" y="735"/><use href="#b" x="1572.1" y="734.3"/><use href="#b" x="1573.6" y="733.6"/><use href="#b" x="1575.1" y="733"/><use href="#b" x="1576.6" y="732.3"/><use href="#b" x="1578.1" y="731.6"/><use href="#b" x="1579.6" y="731"/><use href="#b" x="1581" y="730.3"/><use href="#b" x="1582.5" y="729.7"/><use href="#b" x="1583.9" y="729"/><use href="#b" x="1585.4" y="728.4"/><use href="#b" x="1586.8" y="727.7"/><use href="#b" x="1588.3" y="727.1"/><use href="#b" x="1589.7" y="726.5"/><use href="#b" x="1591.1" y="725.8"/><use href="#b" x="1592.5" y="725.2"/><use href="#b" x="1593.9" y="724.6"/><use href="#b" x="1595.3" y="723.9"/><use href="#b" x="1596.7" y="723.3"/><use href="#b" x="1598" y="722.7"/><use href="#b" x="1599.4" y="722.1"/><use href="#b" x="1600.7" y="721.5"/><use href="#b" x="1602.1" y="720.8"/><use href="#b" x="1603.4" y="720.2"/><use href="#b" x="1604.8" y="719.6"/><use href="#b" x="1606.1" y="719"/><use href="#b" x="1607.4" y="718.4"/><use href="#b" x="1608.7" y="717.8"/><use href="#b" x="1610" y="717.2"/><use href="#b" x="1611.3" y="716.6"/><use href="#b" x="1612.6" y="716"/><use href="#b" x="1613.9" y="715.4"/><use href="#b" x="1615.2" y="714.8"/><use href="#b" x="1616.5" y="714.2"/><use href="#b" x="1617.7" y="713.6"/><use href="#b" x="1619" y="713"/><use href="#b" x="1620.2" y="712.5"/><use href="#b" x="1621.5" y="711.9"/><use href="#b" x="1622.7" y="711.3"/><use href="#b" x="1624" y="710.7"/><use href="#b" x="1625.2" y="710.2"/><use href="#b" x="1626.4" y="709.6"/><use href="#b" x="1627.6" y="709"/><use href="#b" x="1628.8" y="708.5"/><use href="#b" x="1630" y="707.9"/><use href="#b" x="1631.2" y="707.3"/><use href="#b" x="1632.4" y="706.8"/><use href="#b" x="1633.6" y="706.2"/><use href="#b" x="1634.8" y="705.7"/><use href="#b" x="1636" y="705.1"/><use href="#b" x="1637.1" y="704.6"/><use href="#b" x="1638.3" y="704"/><use href="#b" x="1639.4" y="703.5"/><use href="#b" x="1640.6" y="702.9"/><use href="#b" x="1641.7" y="702.4"/><use href="#b" x="1642.9" y="701.9"/><use href="#b" x="1644" y="701.3"/><use href="#b" x="1645.1" y="700.8"/><use href="#b" x="1646.3" y="700.3"/><use href="#b" x="1647.4" y="699.7"/><use href="#b" x="1648.5" y="699.2"/><use href="#b" x="1649.6" y="698.7"/><use href="#b" x="1650.7" y="698.2"/><use href="#b" x="1651.8" y="697.7"/><use href="#b" x="1652.9" y="697.1"/><use href="#b" x="1654" y="696.6"/><use href="#b" x="1655.1" y="696.1"/><use href="#b" x="1656.2" y="695.6"/><use href="#b" x="1657.2" y="695.1"/><use href="#b" x="1658.3" y="694.6"/><use href="#b" x="1659.4" y="694.1"/><use href="#b" x="1660.4" y="693.6"/><use href="#b" x="1661.5" y="693.1"/><use href="#b" x="1662.5" y="692.6"/><use href="#b" x="1663.6" y="692.1"/><use href="#b" x="1664.6" y="691.6"/><use href="#b" x="1665.7" y="691.1"/><use href="#b" x="1666.7" y="690.6"/><use href="#b" x="1667.7" y="690.1"/><use href="#b" x="1668.8" y="689.6"/><use href="#b" x="1669.8" y="689.2"/><use href="#b" x="1670.8" y="688.7"/><use href="#b" x="1671.8" y="688.2"/><use href="#b" x="1672.8" y="687.7"/><use href="#b" x="1673.8" y="687.2"/><use href="#b" x="1674.8" y="686.8"/><use href="#b" x="1675.8" y="686.3"/><use href="#b" x="1676.8" y="685.8"/><use href="#b" x="1677.8" y="685.3"/><use href="#b" x="1678.8" y="684.9"/><use href="#b" x="1679.8" y="684.4"/><use href="#b" x="1680.7" y="683.9"/><use href="#b" x="1681.7" y="683.5"/><use href="#b" x="1682.7" y="683"/><use href="#b" x="1683.6" y="682.6"/><use href="#b" x="1684.6" y="682.1"/><use href="#b" x="1685.6" y="681.6"/><use href="#b" x="1686.5" y="681.2"/><use href="#b" x="1687.5" y="680.7"/><use href="#b" x="1688.4" y="680.3"/><use href="#b" x="1689.3" y="679.8"/><use href="#b" x="1690.3" y="679.4"/><use href="#b" x="1691.2" y="678.9"/><use href="#b" x="1692.2" y="678.5"/><use href="#b" x="1693.1" y="678"/><use href="#b" x="1694" y="677.6"/><use href="#b" x="1694.9" y="677.2"/><use href="#b" x="1695.8" y="676.7"/><use href="#b" x="1696.8" y="676.3"/><use href="#b" x="1697.7" y="675.8"/><use href="#b" x="1698.6" y="675.4"/><use href="#b" x="1699.5" y="675"/><use href="#b" x="1700.4" y="674.5"/><use href="#b" x="1701.3" y="674.1"/><use href="#b" x="1702.2" y="673.7"/><use href="#b" x="1703.1" y="673.3"/><use href="#b" x="1703.9" y="672.8"/><use href="#b" x="1704.8" y="672.4"/><use href="#b" x="1705.7" y="672"/><use href="#b" x="1706.6" y="671.6"/><use href="#b" x="1707.5" y="671.1"/><use href="#b" x="1708.3" y="670.7"/><use href="#b" x="1709.2" y="670.3"/><use href="#b" x="1710.1" y="669.9"/><use href="#b" x="1710.9" y="669.5"/><use href="#b" x="1711.8" y="669.1"/><use href="#b" x="1712.6" y="668.7"/><use href="#b" x="1713.5" y="668.2"/><use href="#b" x="1714.3" y="667.8"/><use href="#b" x="1715.2" y="667.4"/><use href="#b" x="1716" y="667"/><use href="#b" x="1716.9" y="666.6"/><use href="#b" x="1717.7" y="666.2"/><use href="#b" x="1718.6" y="665.8"/><use href="#b" x="1719.4" y="665.4"/><use href="#b" x="1720.2" y="665"/><use href="#b" x="1721" y="664.6"/><use href="#b" x="1721.9" y="664.2"/><use href="#b" x="1722.7" y="663.8"/><use href="#b" x="1723.5" y="663.4"/><use href="#b" x="1724.3" y="663"/><use href="#b" x="1725.1" y="662.6"/><use href="#b" x="1725.9" y="662.3"/><use href="#b" x="1726.8" y="661.9"/><use href="#b" x="1727.6" y="661.5"/><use href="#b" x="1728.4" y="661.1"/><use href="#b" x="1729.2" y="660.7"/><use href="#b" x="1730" y="660.3"/><use href="#b" x="1730.8" y="659.9"/><use href="#b" x="1731.5" y="659.6"/><use href="#b" x="1732.3" y="659.2"/><use href="#b" x="1733.1" y="658.8"/><use href="#b" x="1733.9" y="658.4"/><use href="#b" x="1734.7" y="658.1"/><use href="#b" x="1735.5" y="657.7"/><use href="#b" x="1736.2" y="657.3"/><use href="#b" x="1737" y="656.9"/><use href="#b" x="1737.8" y="656.6"/><use href="#b" x="1738.6" y="656.2"/><use href="#b" x="1739.3" y="655.8"/><use href="#b" x="1740.1" y="655.5"/><use href="#b" x="1740.9" y="655.1"/><use href="#b" x="1741.6" y="654.7"/><use href="#b" x="1742.4" y="654.4"/><use href="#b" x="1743.1" y="654"/><use href="#b" x="1743.9" y="653.6"/><use href="#b" x="1744.6" y="653.3"/><use href="#b" x="1745.4" y="652.9"/><use href="#b" x="1746.1" y="652.5"/><use href="#b" x="1746.9" y="652.2"/><use href="#b" x="1747.6" y="651.8"/><use href="#b" x="1748.3" y="651.5"/><use href="#b" x="1749.1" y="651.1"/><use href="#b" x="1749.8" y="650.8"/><use href="#b" x="1750.5" y="650.4"/><use href="#b" x="1751.3" y="650.1"/><use href="#b" x="1752" y="649.7"/><use href="#b" x="1752.7" y="649.4"/><use href="#b" x="1753.5" y="649"/><use href="#b" x="1754.2" y="648.7"/><use href="#b" x="1754.9" y="648.3"/><use href="#b" x="1755.6" y="648"/><use href="#b" x="1756.3" y="647.6"/><use href="#b" x="1757" y="647.3"/><use href="#b" x="1757.8" y="646.9"/><use href="#b" x="1758.5" y="646.6"/><use href="#b" x="1759.2" y="646.3"/><use href="#b" x="1759.9" y="645.9"/><use href="#b" x="1760.6" y="645.6"/><use href="#b" x="1761.3" y="645.2"/><use href="#b" x="1762" y="644.9"/><use href="#b" x="1762.7" y="644.6"/><use href="#b" x="1763.4" y="644.2"/><use href="#b" x="1764.1" y="643.9"/><use href="#b" x="1764.7" y="643.6"/><use href="#b" x="1765.4" y="643.2"/><use href="#b" x="1766.1" y="642.9"/><use href="#b" x="1766.8" y="642.6"/><use href="#b" x="1767.5" y="642.2"/><use href="#b" x="1768.2" y="641.9"/><use href="#b" x="1768.9" y="641.6"/><use href="#b" x="1769.5" y="641.3"/><use href="#b" x="1770.2" y="640.9"/><use href="#b" x="1770.9" y="640.6"/><use href="#b" x="1771.6" y="640.3"/><use href="#b" x="1772.2" y="640"/><use href="#b" x="1772.9" y="639.6"/><use href="#b" x="1773.6" y="639.3"/><use href="#b" x="1774.2" y="639"/><use href="#b" x="1774.9" y="638.7"/><use href="#b" x="1775.5" y="638.4"/><use href="#b" x="1776.2" y="638"/><use href="#b" x="1776.9" y="637.7"/><use href="#b" x="1777.5" y="637.4"/><use href="#b" x="1778.2" y="637.1"/><use href="#b" x="1778.8" y="636.8"/><use href="#b" x="1779.5" y="636.5"/><use href="#b" x="1780.1" y="636.1"/><use href="#b" x="1780.8" y="635.8"/><use href="#b" x="1781.4" y="635.5"/><use href="#b" x="1782.1" y="635.2"/><use href="#b" x="1782.7" y="634.9"/><use href="#b" x="1783.3" y="634.6"/><use href="#b" x="1784" y="634.3"/><use href="#b" x="1784.6" y="634"/><use href="#b" x="1785.2" y="633.7"/><use href="#b" x="1785.9" y="633.4"/><use href="#b" x="1786.5" y="633"/><use href="#b" x="1787.1" y="632.7"/><use href="#b" x="1787.8" y="632.4"/><use href="#b" x="1788.4" y="632.1"/><use href="#b" x="1789" y="631.8"/><use href="#b" x="1789.6" y="631.5"/><use href="#b" x="1790.3" y="631.2"/><use href="#b" x="1790.9" y="630.9"/><use href="#b" x="1791.5" y="630.6"/><use href="#b" x="1792.1" y="630.3"/><use href="#b" x="1792.7" y="630"/><use href="#b" x="1793.4" y="629.7"/><use href="#b" x="1794" y="629.4"/><use href="#b" x="1794.6" y="629.1"/><use href="#b" x="1795.2" y="628.9"/><use href="#b" x="1795.8" y="628.6"/><use href="#b" x="1796.4" y="628.3"/><use href="#b" x="1797" y="628"/><use href="#b" x="1797.6" y="627.7"/><use href="#b" x="1798.2" y="627.4"/><use href="#b" x="1798.8" y="627.1"/><use href="#b" x="1799.4" y="626.8"/><use href="#b" x="1800" y="626.5"/><use href="#b" x="1800.6" y="626.2"/><use href="#b" x="1801.2" y="625.9"/><use href="#b" x="1801.8" y="625.7"/><use href="#b" x="1802.4" y="625.4"/><use href="#b" x="1803" y="625.1"/><use href="#b" x="1803.6" y="624.8"/><use href="#b" x="1804.2" y="624.5"/><use href="#b" x="1804.7" y="624.2"/><use href="#b" x="1805.3" y="623.9"/><use href="#b" x="1805.9" y="623.7"/><use href="#b" x="1806.5" y="623.4"/><use href="#b" x="1807.1" y="623.1"/><use href="#b" x="1807.6" y="622.8"/><use href="#b" x="1808.2" y="622.5"/><use href="#b" x="1808.8" y="622.3"/><use href="#b" x="1809.4" y="622"/><use href="#b" x="1810" y="621.7"/><use href="#b" x="1810.5" y="621.4"/><use href="#b" x="1811.1" y="621.2"/><use href="#b" x="1811.7" y="620.9"/><use href="#b" x="1812.2" y="620.6"/><use href="#b" x="1812.8" y="620.3"/><use href="#b" x="1813.4" y="620.1"/><use href="#b" x="1813.9" y="619.8"/><use href="#b" x="1814.5" y="619.5"/><use href="#b" x="1815.1" y="619.2"/><use href="#b" x="1815.6" y="619"/><use href="#b" x="1816.2" y="618.7"/><use href="#b" x="1816.7" y="618.4"/><use href="#b" x="1817.3" y="618.2"/><use href="#b" x="1817.8" y="617.9"/><use href="#b" x="1818.4" y="617.6"/><use href="#b" x="1818.9" y="617.3"/><use href="#b" x="1819.5" y="617.1"/><use href="#b" x="1820.1" y="616.8"/><use href="#b" x="1820.6" y="616.5"/><use href="#b" x="1821.1" y="616.3"/><use href="#b" x="1821.7" y="616"/><use href="#b" x="1822.2" y="615.8"/><use href="#b" x="1822.8" y="615.5"/><use href="#b" x="1823.3" y="615.2"/><use href="#b" x="1823.9" y="615"/><use href="#b" x="1824.4" y="614.7"/><use href="#b" x="1824.9" y="614.4"/><use href="#b" x="1825.5" y="614.2"/><use href="#b" x="1826" y="613.9"/><use href="#b" x="1826.6" y="613.7"/><use href="#b" x="1827.1" y="613.4"/><use href="#b" x="1827.6" y="613.1"/><use href="#b" x="1828.2" y="612.9"/><use href="#b" x="1828.7" y="612.6"/><use href="#b" x="1829.2" y="612.4"/><use href="#b" x="1829.7" y="612.1"/><use href="#b" x="1830.3" y="611.9"/><use href="#b" x="1830.8" y="611.6"/><use href="#b" x="1831.3" y="611.3"/><use href="#b" x="1831.9" y="611.1"/><use href="#b" x="1832.4" y="610.8"/><use href="#b" x="1832.9" y="610.6"/><use href="#b" x="1833.4" y="610.3"/><use href="#b" x="1833.9" y="610.1"/><use href="#b" x="1834.5" y="609.8"/><use href="#b" x="1835" y="609.6"/><use href="#b" x="1835.5" y="609.3"/><use href="#b" x="1836" y="609.1"/><use href="#b" x="1836.5" y="608.8"/><use href="#b" x="1837" y="608.6"/><use href="#b" x="1837.5" y="608.3"/><use href="#b" x="1838.1" y="608.1"/><use href="#b" x="1838.6" y="607.8"/><use href="#b" x="1839.1" y="607.6"/><use href="#b" x="1839.6" y="607.3"/><use href="#b" x="1840.1" y="607.1"/><use href="#b" x="1840.6" y="606.9"/><use href="#b" x="1841.1" y="606.6"/><use href="#b" x="1841.6" y="606.4"/><use href="#b" x="1842.1" y="606.1"/><use href="#b" x="1842.6" y="605.9"/><use href="#b" x="1843.1" y="605.6"/><use href="#b" x="1843.6" y="605.4"/><use href="#b" x="1844.1" y="605.1"/><use href="#b" x="1844.6" y="604.9"/><use href="#b" x="1845.1" y="604.7"/><use href="#b" x="1845.6" y="604.4"/><use href="#b" x="1846.1" y="604.2"/><use href="#b" x="1846.6" y="603.9"/><use href="#b" x="1847.1" y="603.7"/><use href="#b" x="1847.6" y="603.5"/><use href="#b" x="1848.1" y="603.2"/><use href="#b" x="1848.5" y="603"/><use href="#b" x="1849" y="602.8"/><use href="#b" x="1849.5" y="602.5"/><use href="#b" x="1850" y="602.3"/><use href="#b" x="1850.5" y="602"/><use href="#b" x="1851" y="601.8"/><use href="#b" x="1851.5" y="601.6"/><use href="#b" x="1851.9" y="601.3"/><use href="#b" x="1852.4" y="601.1"/><use href="#b" x="1852.9" y="600.9"/><use href="#b" x="1853.4" y="600.6"/><use href="#b" x="1853.9" y="600.4"/><use href="#b" x="1854.3" y="600.2"/><use href="#b" x="1854.8" y="599.9"/><use href="#b" x="1855.3" y="599.7"/><use href="#b" x="1855.8" y="599.5"/><use href="#b" x="1856.2" y="599.3"/><use href="#b" x="1856.7" y="599"/><use href="#b" x="1857.2" y="598.8"/><use href="#b" x="1857.7" y="598.6"/><use href="#b" x="1858.1" y="598.3"/><use href="#b" x="1858.6" y="598.1"/><use href="#b" x="1859.1" y="597.9"/><use href="#b" x="1859.5" y="597.7"/><use href="#b" x="1860" y="597.4"/><use href="#b" x="1860.5" y="597.2"/><use href="#b" x="1860.9" y="597"/><use href="#b" x="1861.4" y="596.8"/><use href="#b" x="1861.9" y="596.5"/><use href="#b" x="1862.3" y="596.3"/><use href="#b" x="1862.8" y="596.1"/><use href="#b" x="1863.3" y="595.9"/><use href="#b" x="1863.7" y="595.6"/><use href="#b" x="1864.2" y="595.4"/><use href="#b" x="1864.6" y="595.2"/><use href="#b" x="1865.1" y="595"/><use href="#b" x="1865.5" y="594.7"/><use href="#b" x="1866" y="594.5"/><use href="#b" x="1866.5" y="594.3"/><use href="#b" x="1866.9" y="594.1"/><use href="#b" x="1867.4" y="593.9"/><use href="#b" x="1867.8" y="593.6"/><use href="#b" x="1868.3" y="593.4"/><use href="#b" x="1868.7" y="593.2"/><use href="#b" x="1869.2" y="593"/><use href="#b" x="1869.6" y="592.8"/><use href="#b" x="1870.1" y="592.6"/><use href="#b" x="1870.5" y="592.3"/><use href="#b" x="1871" y="592.1"/><use href="#b" x="1871.4" y="591.9"/><use href="#b" x="1871.8" y="591.7"/><use href="#b" x="1872.3" y="591.5"/><use href="#b" x="1872.7" y="591.3"/><use href="#b" x="1873.2" y="591.1"/><use href="#b" x="1873.6" y="590.8"/><use href="#b" x="1874.1" y="590.6"/><use href="#b" x="1874.5" y="590.4"/><use href="#b" x="1874.9" y="590.2"/><use href="#b" x="1875.4" y="590"/><use href="#b" x="1875.8" y="589.8"/><use href="#b" x="1876.3" y="589.6"/><use href="#b" x="1876.7" y="589.4"/><use href="#b" x="1877.1" y="589.2"/><use href="#b" x="1877.6" y="589"/><use href="#b" x="1878" y="588.7"/><use href="#b" x="1878.4" y="588.5"/><use href="#b" x="1878.9" y="588.3"/><use href="#b" x="1879.3" y="588.1"/><use href="#b" x="1879.7" y="587.9"/><use href="#b" x="1880.1" y="587.7"/><use href="#b" x="1880.6" y="587.5"/><use href="#b" x="1881" y="587.3"/><use href="#b" x="1881.4" y="587.1"/><use href="#b" x="1881.9" y="586.9"/><use href="#b" x="1882.3" y="586.7"/><use href="#b" x="1882.7" y="586.5"/><use href="#b" x="1883.1" y="586.3"/><use href="#b" x="1883.6" y="586.1"/><use href="#b" x="1884" y="585.9"/><use href="#b" x="1884.4" y="585.7"/><use href="#b" x="1884.8" y="585.5"/><use href="#b" x="1885.2" y="585.2"/><use href="#b" x="1885.7" y="585"/><use href="#b" x="1886.1" y="584.8"/><use href="#b" x="1886.5" y="584.6"/><use href="#b" x="1886.9" y="584.4"/><use href="#b" x="1887.3" y="584.2"/><use href="#b" x="1887.8" y="584"/><use href="#b" x="1888.2" y="583.8"/><use href="#b" x="1888.6" y="583.6"/><use href="#b" x="1889" y="583.4"/><use href="#b" x="1889.4" y="583.2"/><use href="#b" x="1889.8" y="583"/><use href="#b" x="1890.2" y="582.8"/><use href="#b" x="1890.7" y="582.6"/><use href="#b" x="1891.1" y="582.4"/><use href="#b" x="1891.5" y="582.2"/><use href="#b" x="1891.9" y="582"/><use href="#b" x="1892.3" y="581.8"/><use href="#b" x="1892.7" y="581.6"/><use href="#b" x="1893.1" y="581.4"/><use href="#b" x="1893.5" y="581.2"/><use href="#b" x="1893.9" y="581"/><use href="#b" x="1894.3" y="580.8"/><use href="#b" x="1894.7" y="580.6"/><use href="#b" x="1895.1" y="580.4"/><use href="#b" x="1895.5" y="580.2"/><use href="#b" x="1895.9" y="580"/><use href="#b" x="1896.3" y="579.8"/><use href="#b" x="1896.7" y="579.6"/><use href="#b" x="1897.1" y="579.4"/><use href="#b" x="1897.5" y="579.2"/><use href="#b" x="1897.9" y="579"/><use href="#b" x="1898.3" y="578.8"/><use href="#b" x="1898.7" y="578.6"/><use href="#b" x="1899.1" y="578.4"/><use href="#b" x="1899.5" y="578.2"/><use href="#b" x="1899.9" y="578"/><use href="#b" x="1900.3" y="577.8"/><use href="#b" x="1900.7" y="577.6"/><use href="#b" x="1901.1" y="577.4"/><use href="#b" x="1901.5" y="577.2"/><use href="#b" x="1901.9" y="577"/><use href="#b" x="1902.3" y="576.8"/><use href="#b" x="1902.7" y="576.6"/><use href="#b" x="1903.1" y="576.4"/><use href="#b" x="1903.5" y="576.2"/><use href="#b" x="1903.9" y="576.1"/><use href="#b" x="1904.3" y="575.9"/><use href="#b" x="1904.6" y="575.7"/><use href="#b" x="1905" y="575.5"/><use href="#b" x="1905.4" y="575.3"/><use href="#b" x="1905.8" y="575.1"/><use href="#b" x="1906.2" y="574.9"/><use href="#b" x="1906.6" y="574.7"/><use href="#b" x="1907" y="574.5"/><use href="#b" x="1907.3" y="574.3"/><use href="#b" x="1907.7" y="574.1"/><use href="#b" x="1908.1" y="573.9"/><use href="#b" x="1908.5" y="573.7"/><use href="#b" x="1908.9" y="573.5"/><use href="#b" x="1909.3" y="573.3"/><use href="#b" x="1909.6" y="573.1"/><use href="#b" x="1910" y="572.9"/><use href="#b" x="1910.4" y="572.7"/><use href="#b" x="1910.8" y="572.5"/><use href="#b" x="1911.2" y="572.3"/><use href="#b" x="1911.5" y="572.1"/><use href="#b" x="1911.9" y="571.9"/><use href="#b" x="1912.3" y="571.7"/><use href="#b" x="1912.7" y="571.5"/><use href="#b" x="1913" y="571.3"/><use href="#b" x="1913.4" y="571.2"/><use href="#b" x="1913.8" y="571"/><use href="#b" x="1914.2" y="570.8"/><use href="#b" x="1914.5" y="570.6"/><use href="#b" x="1914.9" y="570.4"/><use href="#b" x="1915.3" y="570.2"/><use href="#b" x="1915.7" y="570"/><use href="#b" x="1916" y="569.8"/><use href="#b" x="1916.4" y="569.6"/><use href="#b" x="1916.8" y="569.4"/><use href="#b" x="1917.1" y="569.2"/><use href="#b" x="1917.5" y="569"/><use href="#b" x="1917.9" y="568.8"/><use href="#b" x="1918.2" y="568.6"/><use href="#b" x="1918.6" y="568.5"/><use href="#b" x="1919" y="568.3"/><use href="#b" x="1919.3" y="568.1"/><use href="#b" x="1919.7" y="567.9"/><use href="#b" x="1920.1" y="567.7"/><use href="#b" x="1920.4" y="567.5"/><use href="#b" x="1920.8" y="567.3"/><use href="#b" x="1921.2" y="567.1"/><use href="#b" x="1921.5" y="566.9"/><use href="#b" x="1921.9" y="566.7"/><use href="#b" x="1922.2" y="566.5"/><use href="#b" x="1922.6" y="566.4"/><use href="#b" x="1923" y="566.2"/><use href="#b" x="1923.3" y="566"/><use href="#b" x="1923.7" y="565.8"/><use href="#b" x="1924" y="565.6"/><use href="#b" x="1924.4" y="565.4"/><use href="#b" x="1924.8" y="565.2"/><use href="#b" x="1925.1" y="565"/><use href="#b" x="1925.5" y="564.8"/><use href="#b" x="1925.8" y="564.7"/><use href="#b" x="1926.2" y="564.5"/><use href="#b" x="1926.5" y="564.3"/><use href="#b" x="1926.9" y="564.1"/><use href="#b" x="1927.2" y="563.9"/><use href="#b" x="1927.6" y="563.7"/><use href="#b" x="1928" y="563.5"/><use href="#b" x="1928.3" y="563.4"/><use href="#b" x="1928.7" y="563.2"/><use href="#b" x="1929" y="563"/><use href="#b" x="1929.4" y="562.8"/><use href="#b" x="1929.7" y="562.6"/><use href="#b" x="1930.1" y="562.4"/><use href="#b" x="1930.4" y="562.2"/><use href="#b" x="1930.8" y="562.1"/><use href="#b" x="1931.1" y="561.9"/><use href="#b" x="1931.5" y="561.7"/><use href="#b" x="1931.8" y="561.5"/><use href="#b" x="1932.2" y="561.3"/><use href="#b" x="1932.5" y="561.1"/><use href="#b" x="1932.8" y="561"/><use href="#b" x="1933.2" y="560.8"/><use href="#b" x="1933.5" y="560.6"/><use href="#b" x="1933.9" y="560.4"/><use href="#b" x="1934.2" y="560.2"/><use href="#b" x="1934.6" y="560"/><use href="#b" x="1934.9" y="559.9"/><use href="#b" x="1935.3" y="559.7"/><use href="#b" x="1935.6" y="559.5"/><use href="#b" x="1935.9" y="559.3"/><use href="#b" x="1936.3" y="559.1"/><use href="#b" x="1936.6" y="559"/><use href="#b" x="1937" y="558.8"/><use href="#b" x="1937.3" y="558.6"/><use href="#b" x="1937.6" y="558.4"/><use href="#b" x="1938" y="558.2"/><use href="#b" x="1938.3" y="558.1"/><use href="#b" x="1938.7" y="557.9"/><use href="#b" x="1939" y="557.7"/><use href="#b" x="1939.3" y="557.5"/><use href="#b" x="1939.7" y="557.3"/><use href="#b" x="1940" y="557.2"/><use href="#b" x="1940.3" y="557"/><use href="#b" x="1940.7" y="556.8"/><use href="#b" x="1941" y="556.6"/><use href="#b" x="1941.3" y="556.5"/><use href="#b" x="1941.7" y="556.3"/><use href="#b" x="1942" y="556.1"/><use href="#b" x="1942.3" y="555.9"/><use href="#b" x="1942.7" y="555.7"/><use href="#b" x="1943" y="555.6"/><use href="#b" x="1943.3" y="555.4"/><use href="#b" x="1943.7" y="555.2"/><use href="#b" x="1944" y="555"/><use href="#b" x="1944.3" y="554.9"/><use href="#b" x="1944.7" y="554.7"/><use href="#b" x="1945" y="554.5"/><use href="#b" x="1945.3" y="554.4"/><use href="#b" x="1945.6" y="554.2"/><use href="#b" x="1946" y="554"/><use href="#b" x="1946.3" y="553.8"/><use href="#b" x="1946.6" y="553.7"/><use href="#b" x="1947" y="553.5"/><use href="#b" x="1947.3" y="553.3"/><use href="#b" x="1947.6" y="553.1"/><use href="#b" x="1947.9" y="553"/><use href="#b" x="1948.3" y="552.8"/><use href="#b" x="1948.6" y="552.6"/><use href="#b" x="1948.9" y="552.5"/><use href="#b" x="1949.2" y="552.3"/><use href="#b" x="1949.6" y="552.1"/><use href="#b" x="1949.9" y="551.9"/><use href="#b" x="1950.2" y="551.8"/><use href="#b" x="1950.5" y="551.6"/><use href="#b" x="1950.8" y="551.4"/><use href="#b" x="1951.2" y="551.3"/><use href="#b" x="1951.5" y="551.1"/><use href="#b" x="1951.8" y="550.9"/><use href="#b" x="1952.1" y="550.8"/><use href="#b" x="1952.4" y="550.6"/><use href="#b" x="1952.8" y="550.4"/><use href="#b" x="1953.1" y="550.3"/><use href="#b" x="1953.4" y="550.1"/><use href="#b" x="1953.7" y="549.9"/><use href="#b" x="1954" y="549.8"/><use href="#b" x="1954.4" y="549.6"/><use href="#b" x="1954.7" y="549.4"/><use href="#b" x="1955" y="549.3"/><use href="#b" x="1955.3" y="549.1"/><use href="#b" x="1955.6" y="548.9"/><use href="#b" x="1955.9" y="548.8"/><use href="#b" x="1956.2" y="548.6"/><use href="#b" x="1956.6" y="548.4"/><use href="#b" x="1956.9" y="548.3"/><use href="#b" x="1957.2" y="548.1"/><use href="#b" x="1957.5" y="548"/><use href="#b" x="1957.8" y="547.8"/><use href="#b" x="1958.1" y="547.6"/><use href="#b" x="1958.4" y="547.5"/><use href="#b" x="1958.7" y="547.3"/><use href="#b" x="1959.1" y="547.1"/><use href="#b" x="1959.4" y="547"/><use href="#b" x="1959.7" y="546.8"/><use href="#b" x="1960" y="546.7"/><use href="#b" x="1960.3" y="546.5"/><use href="#b" x="1960.6" y="546.3"/><use href="#b" x="1960.9" y="546.2"/><use href="#b" x="1961.2" y="546"/><use href="#b" x="1961.5" y="545.9"/><use href="#b" x="1961.8" y="545.7"/><use href="#b" x="1962.1" y="545.5"/><use href="#b" x="1962.4" y="545.4"/><use href="#b" x="1962.8" y="545.2"/><use href="#b" x="1963.1" y="545.1"/><use href="#b" x="1963.4" y="544.9"/><use href="#b" x="1963.7" y="544.7"/><use href="#b" x="1964" y="544.6"/><use href="#b" x="1964.3" y="544.4"/><use href="#b" x="1964.6" y="544.3"/><use href="#b" x="1964.9" y="544.1"/><use href="#b" x="1965.2" y="544"/><use href="#b" x="1965.5" y="543.8"/><use href="#b" x="1965.8" y="543.7"/><use href="#b" x="1966.1" y="543.5"/><use href="#b" x="1966.4" y="543.3"/><use href="#b" x="1966.7" y="543.2"/><use href="#b" x="1967" y="543"/><use href="#b" x="1967.3" y="542.9"/><use href="#b" x="1967.6" y="542.7"/><use href="#b" x="1967.9" y="542.6"/><use href="#b" x="1968.2" y="542.4"/><use href="#b" x="1968.5" y="542.3"/><use href="#b" x="1968.8" y="542.1"/><use href="#b" x="1969.1" y="542"/><use href="#b" x="1969.4" y="541.8"/><use href="#b" x="1969.7" y="541.7"/><use href="#b" x="1970" y="541.5"/><use href="#b" x="1970.3" y="541.4"/><use href="#b" x="1970.6" y="541.2"/><use href="#b" x="1970.9" y="541.1"/><use href="#b" x="1971.2" y="540.9"/><use href="#b" x="1971.5" y="540.8"/><use href="#b" x="1971.8" y="540.6"/><use href="#b" x="1972.1" y="540.5"/><use href="#b" x="1972.4" y="540.3"/><use href="#b" x="1972.6" y="540.2"/><use href="#b" x="1972.9" y="540"/><use href="#b" x="1973.2" y="539.9"/><use href="#b" x="1973.5" y="539.7"/><use href="#b" x="1973.8" y="539.6"/><use href="#b" x="1974.1" y="539.4"/><use href="#b" x="1974.4" y="539.3"/><use href="#b" x="1974.7" y="539.1"/><use href="#b" x="1975" y="539"/><use href="#b" x="1975.3" y="538.8"/><use href="#b" x="1975.6" y="538.7"/><use href="#b" x="1975.9" y="538.5"/><use href="#b" x="1976.1" y="538.4"/><use href="#b" x="1976.4" y="538.2"/><use href="#b" x="1976.7" y="538.1"/><use href="#b" x="1977" y="537.9"/><use href="#b" x="1977.3" y="537.8"/><use href="#b" x="1977.6" y="537.6"/><use href="#b" x="1977.9" y="537.5"/><use href="#b" x="1978.2" y="537.4"/><use href="#b" x="1978.5" y="537.2"/><use href="#b" x="1978.7" y="537.1"/><use href="#b" x="1979" y="536.9"/><use href="#b" x="1979.3" y="536.8"/><use href="#b" x="1979.6" y="536.6"/><use href="#b" x="1979.9" y="536.5"/><use href="#b" x="1980.2" y="536.3"/><use href="#b" x="1980.5" y="536.2"/><use href="#b" x="1980.7" y="536.1"/><use href="#b" x="1981" y="535.9"/><use href="#b" x="1981.3" y="535.8"/><use href="#b" x="1981.6" y="535.6"/><use href="#b" x="1981.9" y="535.5"/><use href="#b" x="1982.2" y="535.3"/><use href="#b" x="1982.4" y="535.2"/><use href="#b" x="1982.7" y="535.1"/><use href="#b" x="1983" y="534.9"/><use href="#b" x="1983.3" y="534.8"/><use href="#b" x="1983.6" y="534.6"/><use href="#b" x="1983.8" y="534.5"/><use href="#b" x="1984.1" y="534.3"/><use href="#b" x="1984.4" y="534.2"/><use href="#b" x="1984.7" y="534.1"/><use href="#b" x="1985" y="533.9"/><use href="#b" x="1985.2" y="533.8"/><use href="#b" x="1985.5" y="533.6"/><use href="#b" x="1985.8" y="533.5"/><use href="#b" x="1986.1" y="533.4"/><use href="#b" x="1986.4" y="533.2"/><use href="#b" x="1986.6" y="533.1"/><use href="#b" x="1986.9" y="532.9"/><use href="#b" x="1987.2" y="532.8"/><use href="#b" x="1987.5" y="532.7"/><use href="#b" x="1987.7" y="532.5"/><use href="#b" x="1988" y="532.4"/><use href="#b" x="1988.3" y="532.2"/><use href="#b" x="1988.6" y="532.1"/><use href="#b" x="1988.8" y="532"/><use href="#b" x="1989.1" y="531.8"/><use href="#b" x="1989.4" y="531.7"/><use href="#b" x="1989.7" y="531.6"/><use href="#b" x="1989.9" y="531.4"/><use href="#b" x="1990.2" y="531.3"/><use href="#b" x="1990.5" y="531.1"/><use href="#b" x="1990.8" y="531"/><use href="#b" x="1991" y="530.9"/><use href="#b" x="1991.3" y="530.7"/><use href="#b" x="1991.6" y="530.6"/><use href="#b" x="1991.8" y="530.5"/><use href="#b" x="1992.1" y="530.3"/><use href="#b" x="1992.4" y="530.2"/><use href="#b" x="1992.7" y="530.1"/><use href="#b" x="1992.9" y="529.9"/><use href="#b" x="1993.2" y="529.8"/><use href="#b" x="1993.5" y="529.6"/><use href="#b" x="1993.7" y="529.5"/><use href="#b" x="1994" y="529.4"/><use href="#b" x="1994.3" y="529.2"/><use href="#b" x="1994.5" y="529.1"/><use href="#b" x="1994.8" y="529"/><use href="#b" x="1995.1" y="528.8"/><use href="#b" x="1995.3" y="528.7"/><use href="#b" x="1995.6" y="528.6"/><use href="#b" x="1995.9" y="528.4"/><use href="#b" x="1996.1" y="528.3"/><use href="#b" x="1996.4" y="528.2"/><use href="#b" x="1996.7" y="528"/><use href="#b" x="1996.9" y="527.9"/><use href="#b" x="1997.2" y="527.8"/><use href="#b" x="1997.5" y="527.6"/><use href="#b" x="1997.7" y="527.5"/><use href="#b" x="1998" y="527.4"/><use href="#b" x="1998.3" y="527.2"/><use href="#b" x="1998.5" y="527.1"/><use href="#b" x="1998.8" y="527"/><use href="#b" x="1999.1" y="526.8"/><use href="#b" x="1999.3" y="526.7"/><use href="#b" x="1999.6" y="526.6"/><use href="#b" x="1999.9" y="526.4"/><use href="#b" x="2000.1" y="526.3"/><use href="#b" x="2000.4" y="526.2"/><use href="#b" x="2000.6" y="526"/><use href="#b" x="2000.9" y="525.9"/><use href="#b" x="2001.2" y="525.8"/><use href="#b" x="2001.4" y="525.7"/><use href="#b" x="2001.7" y="525.5"/><use href="#b" x="2001.9" y="525.4"/><use href="#b" x="2002.2" y="525.3"/><use href="#b" x="2002.5" y="525.1"/><use href="#b" x="2002.7" y="525"/><use href="#b" x="2003" y="524.9"/><use href="#b" x="2003.2" y="524.7"/><use href="#b" x="2003.5" y="524.6"/><use href="#b" x="2003.8" y="524.5"/><use href="#b" x="2004" y="524.4"/><use href="#b" x="2004.3" y="524.2"/><use href="#b" x="2004.5" y="524.1"/><use href="#b" x="2004.8" y="524"/><use href="#b" x="2005.1" y="523.8"/><use href="#b" x="2005.3" y="523.7"/><use href="#b" x="2005.6" y="523.6"/><use href="#b" x="2005.8" y="523.5"/><use href="#b" x="2006.1" y="523.3"/><use href="#b" x="2006.3" y="523.2"/><use href="#b" x="2006.6" y="523.1"/><use href="#b" x="2006.8" y="522.9"/><use href="#b" x="2007.1" y="522.8"/><use href="#b" x="2007.4" y="522.7"/><use href="#b" x="2007.6" y="522.6"/><use href="#b" x="2007.9" y="522.4"/><use href="#b" x="2008.1" y="522.3"/><use href="#b" x="2008.4" y="522.2"/><use href="#b" x="2008.6" y="522"/><use href="#b" x="2008.9" y="521.9"/><use href="#b" x="2009.1" y="521.8"/><use href="#b" x="2009.4" y="521.7"/><use href="#b" x="2009.6" y="521.5"/><use href="#b" x="2009.9" y="521.4"/><use href="#b" x="2010.1" y="521.3"/><use href="#b" x="2010.4" y="521.2"/><use href="#b" x="2010.6" y="521"/><use href="#b" x="2010.9" y="520.9"/><use href="#b" x="2011.1" y="520.8"/><use href="#b" x="2011.4" y="520.7"/><use href="#b" x="2011.6" y="520.5"/><use href="#b" x="2011.9" y="520.4"/><use href="#b" x="2012.1" y="520.3"/><use href="#b" x="2012.4" y="520.2"/><use href="#b" x="2012.6" y="520"/><use href="#b" x="2012.9" y="519.9"/><use href="#b" x="2013.1" y="519.8"/><use href="#b" x="2013.4" y="519.7"/><use href="#b" x="2013.6" y="519.5"/><use href="#b" x="2013.9" y="519.4"/><use href="#b" x="2014.1" y="519.3"/><use href="#b" x="2014.4" y="519.2"/><use href="#b" x="2014.6" y="519"/><use href="#b" x="2014.9" y="518.9"/><use href="#b" x="2015.1" y="518.8"/><use href="#b" x="2015.4" y="518.7"/><use href="#b" x="2015.6" y="518.5"/><use href="#b" x="2015.9" y="518.4"/><use href="#b" x="2016.1" y="518.3"/><use href="#b" x="2016.4" y="518.2"/><use href="#b" x="2016.6" y="518"/><use href="#b" x="2016.8" y="517.9"/><use href="#b" x="2017.1" y="517.8"/><use href="#b" x="2017.3" y="517.7"/><use href="#b" x="2017.6" y="517.5"/><use href="#b" x="2017.8" y="517.4"/><use href="#b" x="2018.1" y="517.3"/><use href="#b" x="2018.3" y="517.2"/><use href="#b" x="2018.6" y="517.1"/><use href="#b" x="2018.8" y="516.9"/><use href="#b" x="2019" y="516.8"/><use href="#b" x="2019.3" y="516.7"/><use href="#b" x="2019.5" y="516.6"/><use href="#b" x="2019.8" y="516.4"/><use href="#b" x="2020" y="516.3"/><use href="#b" x="2020.3" y="516.2"/><use href="#b" x="2020.5" y="516.1"/><use href="#b" x="2020.7" y="516"/><use href="#b" x="2021" y="515.8"/><use href="#b" x="2021.2" y="515.7"/><use href="#b" x="2021.5" y="515.6"/><use href="#b" x="2021.7" y="515.5"/><use href="#b" x="2021.9" y="515.4"/><use href="#b" x="2022.2" y="515.2"/><use href="#b" x="2022.4" y="515.1"/><use href="#b" x="2022.7" y="515"/><use href="#b" x="2022.9" y="514.9"/><use href="#b" x="2023.1" y="514.7"/><use href="#b" x="2023.4" y="514.6"/><use href="#b" x="2023.6" y="514.5"/><use href="#b" x="2023.8" y="514.4"/><use href="#b" x="2024.1" y="514.3"/><use href="#b" x="2024.3" y="514.1"/><use href="#b" x="2024.6" y="514"/><use href="#b" x="2024.8" y="513.9"/><use href="#b" x="2025" y="513.8"/><use href="#b" x="2025.3" y="513.7"/><use href="#b" x="2025.5" y="513.5"/><use href="#b" x="2025.7" y="513.4"/><use href="#b" x="2026" y="513.3"/><use href="#b" x="2026.2" y="513.2"/><use href="#b" x="2026.5" y="513.1"/><use href="#b" x="2026.7" y="512.9"/><use href="#b" x="2026.9" y="512.8"/><use href="#b" x="2027.2" y="512.7"/><use href="#b" x="2027.4" y="512.6"/><use href="#b" x="2027.6" y="512.5"/><use href="#b" x="2027.9" y="512.4"/><use href="#b" x="2028.1" y="512.2"/><use href="#b" x="2028.3" y="512.1"/><use href="#b" x="2028.6" y="512"/><use href="#b" x="2028.8" y="511.9"/><use href="#b" x="2029" y="511.8"/><use href="#b" x="2029.3" y="511.6"/><use href="#b" x="2029.5" y="511.5"/><use href="#b" x="2029.7" y="511.4"/><use href="#b" x="2030" y="511.3"/><use href="#b" x="2030.2" y="511.2"/><use href="#b" x="2030.4" y="511.1"/><use href="#b" x="2030.7" y="510.9"/><use href="#b" x="2030.9" y="510.8"/><use href="#b" x="2031.1" y="510.7"/><use href="#b" x="2031.4" y="510.6"/><use href="#b" x="2031.6" y="510.5"/><use href="#b" x="2031.8" y="510.3"/><use href="#b" x="2032" y="510.2"/><use href="#b" x="2032.3" y="510.1"/><use href="#b" x="2032.5" y="510"/><use href="#b" x="2032.7" y="509.9"/><use href="#b" x="2033" y="509.8"/><use href="#b" x="2033.2" y="509.6"/><use href="#b" x="2033.4" y="509.5"/><use href="#b" x="2033.6" y="509.4"/><use href="#b" x="2033.9" y="509.3"/><use href="#b" x="2034.1" y="509.2"/><use href="#b" x="2034.3" y="509.1"/><use href="#b" x="2034.6" y="508.9"/><use href="#b" x="2034.8" y="508.8"/><use href="#b" x="2035" y="508.7"/><use href="#b" x="2035.2" y="508.6"/><use href="#b" x="2035.5" y="508.5"/><use href="#b" x="2035.7" y="508.4"/><use href="#b" x="2035.9" y="508.3"/><use href="#b" x="2036.1" y="508.1"/><use href="#b" x="2036.4" y="508"/><use href="#b" x="2036.6" y="507.9"/><use href="#b" x="2036.8" y="507.8"/><use href="#b" x="2037.1" y="507.7"/><use href="#b" x="2037.3" y="507.6"/><use href="#b" x="2037.5" y="507.4"/><use href="#b" x="2037.7" y="507.3"/><use href="#b" x="2038" y="507.2"/><use href="#b" x="2038.2" y="507.1"/><use href="#b" x="2038.4" y="507"/><use href="#b" x="2038.6" y="506.9"/><use href="#b" x="2038.9" y="506.8"/><use href="#b" x="2039.1" y="506.6"/><use href="#b" x="2039.3" y="506.5"/><use href="#b" x="2039.5" y="506.4"/><use href="#b" x="2039.7" y="506.3"/><use href="#b" x="2040" y="506.2"/><use href="#b" x="2040.2" y="506.1"/><use href="#b" x="2040.4" y="506"/><use href="#b" x="2040.6" y="505.8"/><use href="#b" x="2040.9" y="505.7"/><use href="#b" x="2041.1" y="505.6"/><use href="#b" x="2041.3" y="505.5"/><use href="#b" x="2041.5" y="505.4"/><use href="#b" x="2041.7" y="505.3"/><use href="#b" x="2042" y="505.2"/><use href="#b" x="2042.2" y="505.1"/><use href="#b" x="2042.4" y="504.9"/><use href="#b" x="2042.6" y="504.8"/><use href="#b" x="2042.8" y="504.7"/><use href="#b" x="2043.1" y="504.6"/><use href="#b" x="2043.3" y="504.5"/><use href="#b" x="2043.5" y="504.4"/><use href="#b" x="2043.7" y="504.3"/><use href="#b" x="2043.9" y="504.2"/><use href="#b" x="2044.2" y="504"/><use href="#b" x="2044.4" y="503.9"/><use href="#b" x="2044.6" y="503.8"/><use href="#b" x="2044.8" y="503.7"/><use href="#b" x="2045" y="503.6"/><use href="#b" x="2045.3" y="503.5"/><use href="#b" x="2045.5" y="503.4"/><use href="#b" x="2045.7" y="503.3"/><use href="#b" x="2045.9" y="503.1"/><use href="#b" x="2046.1" y="503"/><use href="#b" x="2046.3" y="502.9"/><use href="#b" x="2046.6" y="502.8"/><use href="#b" x="2046.8" y="502.7"/><use href="#b" x="2047" y="502.6"/><use href="#b" x="2047.2" y="502.5"/><use href="#b" x="2047.4" y="502.4"/><use href="#b" x="2047.6" y="502.3"/><use href="#b" x="2047.9" y="502.1"/><use href="#b" x="2048.1" y="502"/><use href="#b" x="2048.3" y="501.9"/><use href="#b" x="2048.5" y="501.8"/><use href="#b" x="2048.7" y="501.7"/><use href="#b" x="2048.9" y="501.6"/><use href="#b" x="2049.1" y="501.5"/><use href="#b" x="2049.4" y="501.4"/><use href="#b" x="2049.6" y="501.3"/><use href="#b" x="2049.8" y="501.2"/><use href="#b" x="2050" y="501"/><use href="#b" x="2050.2" y="500.9"/><use href="#b" x="2050.4" y="500.8"/><use href="#b" x="2050.6" y="500.7"/><use href="#b" x="2050.9" y="500.6"/><use href="#b" x="2051.1" y="500.5"/><use href="#b" x="2051.3" y="500.4"/><use href="#b" x="2051.5" y="500.3"/><use href="#b" x="2051.7" y="500.2"/><use href="#b" x="2051.9" y="500.1"/><use href="#b" x="2052.1" y="500"/><use href="#b" x="2052.3" y="499.8"/><use href="#b" x="2052.6" y="499.7"/><use href="#b" x="2052.8" y="499.6"/><use href="#b" x="2053" y="499.5"/><use href="#b" x="2053.2" y="499.4"/><use href="#b" x="2053.4" y="499.3"/><use href="#b" x="2053.6" y="499.2"/><use href="#b" x="2053.8" y="499.1"/><use href="#b" x="2054" y="499"/><use href="#b" x="2054.2" y="498.9"/><use href="#b" x="2054.5" y="498.8"/><use href="#b" x="2054.7" y="498.7"/><use href="#b" x="2054.9" y="498.6"/><use href="#b" x="2055.1" y="498.4"/><use href="#b" x="2055.3" y="498.3"/><use href="#b" x="2055.5" y="498.2"/><use href="#b" x="2055.7" y="498.1"/><use href="#b" x="2055.9" y="498"/><use href="#b" x="2056.1" y="497.9"/><use href="#b" x="2056.3" y="497.8"/><use href="#b" x="2056.5" y="497.7"/><use href="#b" x="2056.8" y="497.6"/><use href="#b" x="2057" y="497.5"/><use href="#b" x="2057.2" y="497.4"/><use href="#b" x="2057.4" y="497.3"/><use href="#b" x="2057.6" y="497.2"/><use href="#b" x="2057.8" y="497.1"/><use href="#b" x="2058" y="496.9"/><use href="#b" x="2058.2" y="496.8"/><use href="#b" x="2058.4" y="496.7"/><use href="#b" x="2058.6" y="496.6"/><use href="#b" x="2058.8" y="496.5"/><use href="#b" x="2059" y="496.4"/><use href="#b" x="2059.2" y="496.3"/><use href="#b" x="2059.4" y="496.2"/><use href="#b" x="2059.6" y="496.1"/><use href="#b" x="2059.9" y="496"/><use href="#b" x="2060.1" y="495.9"/><use href="#b" x="2060.3" y="495.8"/><use href="#b" x="2060.5" y="495.7"/><use href="#b" x="2060.7" y="495.6"/><use href="#b" x="2060.9" y="495.5"/><use href="#b" x="2061.1" y="495.4"/><use href="#b" x="2061.3" y="495.3"/><use href="#b" x="2061.5" y="495.2"/><use href="#b" x="2061.7" y="495"/><use href="#b" x="2061.9" y="494.9"/><use href="#b" x="2062.1" y="494.8"/><use href="#b" x="2062.3" y="494.7"/><use href="#b" x="2062.5" y="494.6"/><use href="#b" x="2062.7" y="494.5"/><use href="#b" x="2062.9" y="494.4"/><use href="#b" x="2063.1" y="494.3"/><use href="#b" x="2063.3" y="494.2"/><use href="#b" x="2063.5" y="494.1"/><use href="#b" x="2063.7" y="494"/><use href="#b" x="2063.9" y="493.9"/><use href="#b" x="2064.1" y="493.8"/><use href="#b" x="2064.3" y="493.7"/><use href="#b" x="2064.5" y="493.6"/><use href="#b" x="2064.7" y="493.5"/><use href="#b" x="2064.9" y="493.4"/><use href="#b" x="2065.1" y="493.3"/><use href="#b" x="2065.3" y="493.2"/><use href="#b" x="2065.5" y="493.1"/><use href="#b" x="2065.7" y="493"/><use href="#b" x="2065.9" y="492.9"/><use href="#b" x="2066.1" y="492.8"/><use href="#b" x="2066.3" y="492.7"/><use href="#b" x="2066.5" y="492.6"/><use href="#b" x="2066.7" y="492.4"/><use href="#b" x="2066.9" y="492.3"/><use href="#b" x="2067.1" y="492.2"/><use href="#b" x="2067.3" y="492.1"/><use href="#b" x="2067.5" y="492"/><use href="#b" x="2067.7" y="491.9"/><use href="#b" x="2067.9" y="491.8"/><use href="#b" x="2068.1" y="491.7"/><use href="#b" x="2068.3" y="491.6"/><use href="#b" x="2068.5" y="491.5"/><use href="#b" x="2068.7" y="491.4"/><use href="#b" x="2068.9" y="491.3"/><use href="#b" x="2069.1" y="491.2"/><use href="#b" x="2069.3" y="491.1"/><use href="#b" x="2069.5" y="491"/><use href="#b" x="2069.7" y="490.9"/><use href="#b" x="2069.9" y="490.8"/><use href="#b" x="2070.1" y="490.7"/><use href="#b" x="2070.3" y="490.6"/><use href="#b" x="2070.5" y="490.5"/><use href="#b" x="2070.7" y="490.4"/><use href="#b" x="2070.9" y="490.3"/><use href="#b" x="2071.1" y="490.2"/><use href="#b" x="2071.3" y="490.1"/><use href="#b" x="2071.5" y="490"/><use href="#b" x="2071.7" y="489.9"/><use href="#b" x="2071.9" y="489.8"/><use href="#b" x="2072.1" y="489.7"/><use href="#b" x="2072.3" y="489.6"/><use href="#b" x="2072.5" y="489.5"/><use href="#b" x="2072.6" y="489.4"/><use href="#b" x="2072.8" y="489.3"/><use href="#b" x="2073" y="489.2"/><use href="#b" x="2073.2" y="489.1"/><use href="#b" x="2073.4" y="489"/><use href="#b" x="2073.6" y="488.9"/><use href="#b" x="2073.8" y="488.8"/><use href="#b" x="2074" y="488.7"/><use href="#b" x="2074.2" y="488.6"/><use href="#b" x="2074.4" y="488.5"/><use href="#b" x="2074.6" y="488.4"/><use href="#b" x="2074.8" y="488.3"/><use href="#b" x="2075" y="488.2"/><use href="#b" x="2075.2" y="488.1"/><use href="#b" x="2075.4" y="488"/><use href="#b" x="2075.6" y="487.9"/><use href="#b" x="2075.7" y="487.8"/><use href="#b" x="2075.9" y="487.7"/><use href="#b" x="2076.1" y="487.6"/><use href="#b" x="2076.3" y="487.5"/><use href="#b" x="2076.5" y="487.4"/><use href="#b" x="2076.7" y="487.3"/><use href="#b" x="2076.9" y="487.2"/><use href="#b" x="2077.1" y="487.1"/><use href="#b" x="2077.3" y="487"/><use href="#b" x="2077.5" y="486.9"/><use href="#b" x="2077.7" y="486.8"/><use href="#b" x="2077.9" y="486.7"/><use href="#b" x="2078" y="486.6"/><use href="#b" x="2078.2" y="486.5"/><use href="#b" x="2078.4" y="486.4"/><use href="#b" x="2078.6" y="486.3"/><use href="#b" x="2078.8" y="486.2"/><use href="#b" x="2079" y="486.1"/><use href="#b" x="2079.2" y="486"/><use href="#b" x="2079.4" y="485.9"/><use href="#b" x="2079.6" y="485.8"/><use href="#b" x="2079.8" y="485.7"/><use href="#b" x="2079.9" y="485.6"/><use href="#b" x="2080.1" y="485.5"/><use href="#b" x="2080.3" y="485.4"/><use href="#b" x="2080.5" y="485.3"/><use href="#b" x="2080.7" y="485.2"/><use href="#b" x="2080.9" y="485.2"/><use href="#b" x="2081.1" y="485.1"/><use href="#b" x="2081.3" y="485"/><use href="#b" x="2081.5" y="484.9"/><use href="#b" x="2081.6" y="484.8"/><use href="#b" x="2081.8" y="484.7"/><use href="#b" x="2082" y="484.6"/><use href="#b" x="2082.2" y="484.5"/><use href="#b" x="2082.4" y="484.4"/><use href="#b" x="2082.6" y="484.3"/><use href="#b" x="2082.8" y="484.2"/><use href="#b" x="2082.9" y="484.1"/><use href="#b" x="2083.1" y="484"/><use href="#b" x="2083.3" y="483.9"/><use href="#b" x="2083.5" y="483.8"/><use href="#b" x="2083.7" y="483.7"/><use href="#b" x="2083.9" y="483.6"/><use href="#b" x="2084.1" y="483.5"/><use href="#b" x="2084.3" y="483.4"/><use href="#b" x="2084.4" y="483.3"/><use href="#b" x="2084.6" y="483.2"/><use href="#b" x="2084.8" y="483.1"/><use href="#b" x="2085" y="483"/><use href="#b" x="2085.2" y="482.9"/><use href="#b" x="2085.4" y="482.8"/><use href="#b" x="2085.5" y="482.7"/><use href="#b" x="2085.7" y="482.6"/><use href="#b" x="2085.9" y="482.6"/><use href="#b" x="2086.1" y="482.5"/><use href="#b" x="2086.3" y="482.4"/><use href="#b" x="2086.5" y="482.3"/><use href="#b" x="2086.7" y="482.2"/><use href="#b" x="2086.8" y="482.1"/><use href="#b" x="2087" y="482"/><use href="#b" x="2087.2" y="481.9"/><use href="#b" x="2087.4" y="481.8"/><use href="#b" x="2087.6" y="481.7"/><use href="#b" x="2087.8" y="481.6"/><use href="#b" x="2087.9" y="481.5"/><use href="#b" x="2088.1" y="481.4"/><use href="#b" x="2088.3" y="481.3"/><use href="#b" x="2088.5" y="481.2"/><use href="#b" x="2088.7" y="481.1"/><use href="#b" x="2088.9" y="481"/><use href="#b" x="2089" y="480.9"/><use href="#b" x="2089.2" y="480.8"/><use href="#b" x="2089.4" y="480.8"/><use href="#b" x="2089.6" y="480.7"/><use href="#b" x="2089.8" y="480.6"/><use href="#b" x="2089.9" y="480.5"/><use href="#b" x="2090.1" y="480.4"/><use href="#b" x="2090.3" y="480.3"/><use href="#b" x="2090.5" y="480.2"/><use href="#b" x="2090.7" y="480.1"/><use href="#b" x="2090.8" y="480"/><use href="#b" x="2091" y="479.9"/><use href="#b" x="2091.2" y="479.8"/><use href="#b" x="2091.4" y="479.7"/><use href="#b" x="2091.6" y="479.6"/><use href="#b" x="2091.8" y="479.5"/><use href="#b" x="2091.9" y="479.4"/><use href="#b" x="2092.1" y="479.4"/><use href="#b" x="2092.3" y="479.3"/><use href="#b" x="2092.5" y="479.2"/><use href="#b" x="2092.7" y="479.1"/><use href="#b" x="2092.8" y="479"/><use href="#b" x="2093" y="478.9"/><use href="#b" x="2093.2" y="478.8"/><use href="#b" x="2093.4" y="478.7"/><use href="#b" x="2093.5" y="478.6"/><use href="#b" x="2093.7" y="478.5"/><use href="#b" x="2093.9" y="478.4"/><use href="#b" x="2094.1" y="478.3"/><use href="#b" x="2094.3" y="478.2"/><use href="#b" x="2094.4" y="478.1"/><use href="#b" x="2094.6" y="478.1"/><use href="#b" x="2094.8" y="478"/><use href="#b" x="2095" y="477.9"/><use href="#b" x="2095.1" y="477.8"/><use href="#b" x="2095.3" y="477.7"/><use href="#b" x="2095.5" y="477.6"/><use href="#b" x="2095.7" y="477.5"/><use href="#b" x="2095.9" y="477.4"/><use href="#b" x="2096" y="477.3"/><use href="#b" x="2096.2" y="477.2"/><use href="#b" x="2096.4" y="477.1"/><use href="#b" x="2096.6" y="477"/><use href="#b" x="2096.7" y="477"/><use href="#b" x="2096.9" y="476.9"/><use href="#b" x="2097.1" y="476.8"/><use href="#b" x="2097.3" y="476.7"/><use href="#b" x="2097.4" y="476.6"/><use href="#b" x="2097.6" y="476.5"/><use href="#b" x="2097.8" y="476.4"/><use href="#b" x="2098" y="476.3"/><use href="#b" x="2098.2" y="476.2"/><use href="#b" x="2098.3" y="476.1"/><use href="#b" x="2098.5" y="476"/><use href="#b" x="2098.7" y="476"/><use href="#b" x="2098.9" y="475.9"/><use href="#b" x="2099" y="475.8"/><use href="#b" x="2099.2" y="475.7"/><use href="#b" x="2099.4" y="475.6"/><use href="#b" x="2099.5" y="475.5"/><use href="#b" x="2099.7" y="475.4"/><use href="#b" x="2099.9" y="475.3"/><use href="#b" x="2100.1" y="475.2"/><use href="#b" x="2100.2" y="475.1"/><use href="#b" x="2100.4" y="475.1"/><use href="#b" x="2100.6" y="475"/><use href="#b" x="2100.8" y="474.9"/><use href="#b" x="2100.9" y="474.8"/><use href="#b" x="2101.1" y="474.7"/><use href="#b" x="2101.3" y="474.6"/><use href="#b" x="2101.5" y="474.5"/><use href="#b" x="2101.6" y="474.4"/><use href="#b" x="2101.8" y="474.3"/><use href="#b" x="2102" y="474.2"/><use href="#b" x="2102.2" y="474.2"/><use href="#b" x="2102.3" y="474.1"/><use href="#b" x="2102.5" y="474"/><use href="#b" x="2102.7" y="473.9"/><use href="#b" x="2102.8" y="473.8"/><use href="#b" x="2103" y="473.7"/><use href="#b" x="2103.2" y="473.6"/><use href="#b" x="2103.4" y="473.5"/><use href="#b" x="2103.5" y="473.4"/><use href="#b" x="2103.7" y="473.4"/><use href="#b" x="2103.9" y="473.3"/><use href="#b" x="2104" y="473.2"/><use href="#b" x="2104.2" y="473.1"/><use href="#b" x="2104.4" y="473"/><use href="#b" x="2104.6" y="472.9"/><use href="#b" x="2104.7" y="472.8"/><use href="#b" x="2104.9" y="472.7"/><use href="#b" x="2105.1" y="472.6"/><use href="#b" x="2105.2" y="472.6"/><use href="#b" x="2105.4" y="472.5"/><use href="#b" x="2105.6" y="472.4"/><use href="#b" x="2105.7" y="472.3"/><use href="#b" x="2105.9" y="472.2"/><use href="#b" x="2106.1" y="472.1"/><use href="#b" x="2106.3" y="472"/><use href="#b" x="2106.4" y="471.9"/><use href="#b" x="2106.6" y="471.8"/><use href="#b" x="2106.8" y="471.8"/><use href="#b" x="2106.9" y="471.7"/><use href="#b" x="2107.1" y="471.6"/><use href="#b" x="2107.3" y="471.5"/><use href="#b" x="2107.4" y="471.4"/><use href="#b" x="2107.6" y="471.3"/><use href="#b" x="2107.8" y="471.2"/><use href="#b" x="2108" y="471.1"/><use href="#b" x="2108.1" y="471.1"/><use href="#b" x="2108.3" y="471"/><use href="#b" x="2108.5" y="470.9"/><use href="#b" x="2108.6" y="470.8"/><use href="#b" x="2108.8" y="470.7"/><use href="#b" x="2109" y="470.6"/><use href="#b" x="2109.1" y="470.5"/><use href="#b" x="2109.3" y="470.4"/><use href="#b" x="2109.5" y="470.4"/><use href="#b" x="2109.6" y="470.3"/><use href="#b" x="2109.8" y="470.2"/><use href="#b" x="2110" y="470.1"/><use href="#b" x="2110.1" y="470"/><use href="#b" x="2110.3" y="469.9"/><use href="#b" x="2110.5" y="469.8"/><use href="#b" x="2110.6" y="469.7"/><use href="#b" x="2110.8" y="469.7"/><use href="#b" x="2111" y="469.6"/><use href="#b" x="2111.1" y="469.5"/><use href="#b" x="2111.3" y="469.4"/><use href="#b" x="2111.5" y="469.3"/><use href="#b" x="2111.6" y="469.2"/><use href="#b" x="2111.8" y="469.1"/><use href="#b" x="2112" y="469"/><use href="#b" x="2112.1" y="469"/><use href="#b" x="2112.3" y="468.9"/><use href="#b" x="2112.5" y="468.8"/><use href="#b" x="2112.6" y="468.7"/><use href="#b" x="2112.8" y="468.6"/><use href="#b" x="2113" y="468.5"/><use href="#b" x="2113.1" y="468.4"/><use href="#b" x="2113.3" y="468.4"/><use href="#b" x="2113.4" y="468.3"/><use href="#b" x="2113.6" y="468.2"/><use href="#b" x="2113.8" y="468.1"/><use href="#b" x="2113.9" y="468"/><use href="#b" x="2114.1" y="467.9"/><use href="#b" x="2114.3" y="467.8"/><use href="#b" x="2114.4" y="467.8"/><use href="#b" x="2114.6" y="467.7"/><use href="#b" x="2114.8" y="467.6"/><use href="#b" x="2114.9" y="467.5"/><use href="#b" x="2115.1" y="467.4"/><use href="#b" x="2115.3" y="467.3"/><use href="#b" x="2115.4" y="467.2"/><use href="#b" x="2115.6" y="467.2"/><use href="#b" x="2115.7" y="467.1"/><use href="#b" x="2115.9" y="467"/><use href="#b" x="2116.1" y="466.9"/><use href="#b" x="2116.2" y="466.8"/><use href="#b" x="2116.4" y="466.7"/><use href="#b" x="2116.6" y="466.6"/><use href="#b" x="2116.7" y="466.6"/><use href="#b" x="2116.9" y="466.5"/><use href="#b" x="2117" y="466.4"/><use href="#b" x="2117.2" y="466.3"/><use href="#b" x="2117.4" y="466.2"/><use href="#b" x="2117.5" y="466.1"/><use href="#b" x="2117.7" y="466.1"/><use href="#b" x="2117.9" y="466"/><use href="#b" x="2118" y="465.9"/><use href="#b" x="2118.2" y="465.8"/><use href="#b" x="2118.3" y="465.7"/><use href="#b" x="2118.5" y="465.6"/><use href="#b" x="2118.7" y="465.5"/><use href="#b" x="2118.8" y="465.5"/><use href="#b" x="2119" y="465.4"/><use href="#b" x="2119.1" y="465.3"/><use href="#b" x="2119.3" y="465.2"/><use href="#b" x="2119.5" y="465.1"/><use href="#b" x="2119.6" y="465"/><use href="#b" x="2119.8" y="465"/><use href="#b" x="2120" y="464.9"/><use href="#b" x="2120.1" y="464.8"/><use href="#b" x="2120.3" y="464.7"/><use href="#b" x="2120.4" y="464.6"/><use href="#b" x="2120.6" y="464.5"/><use href="#b" x="2120.8" y="464.5"/><use href="#b" x="2120.9" y="464.4"/><use href="#b" x="2121.1" y="464.3"/><use href="#b" x="2121.2" y="464.2"/><use href="#b" x="2121.4" y="464.1"/><use href="#b" x="2121.6" y="464"/><use href="#b" x="2121.7" y="464"/><use href="#b" x="2121.9" y="463.9"/><use href="#b" x="2122" y="463.8"/><use href="#b" x="2122.2" y="463.7"/><use href="#b" x="2122.3" y="463.6"/><use href="#b" x="2122.5" y="463.5"/><use href="#b" x="2122.7" y="463.5"/><use href="#b" x="2122.8" y="463.4"/><use href="#b" x="2123" y="463.3"/><use href="#b" x="2123.1" y="463.2"/><use href="#b" x="2123.3" y="463.1"/><use href="#b" x="2123.5" y="463"/><use href="#b" x="2123.6" y="463"/><use href="#b" x="2123.8" y="462.9"/><use href="#b" x="2123.9" y="462.8"/><use href="#b" x="2124.1" y="462.7"/><use href="#b" x="2124.2" y="462.6"/><use href="#b" x="2124.4" y="462.5"/><use href="#b" x="2124.6" y="462.5"/><use href="#b" x="2124.7" y="462.4"/><use href="#b" x="2124.9" y="462.3"/><use href="#b" x="2125" y="462.2"/><use href="#b" x="2125.2" y="462.1"/><use href="#b" x="2125.3" y="462"/><use href="#b" x="2125.5" y="462"/><use href="#b" x="2125.7" y="461.9"/><use href="#b" x="2125.8" y="461.8"/><use href="#b" x="2126" y="461.7"/><use href="#b" x="2126.1" y="461.6"/><use href="#b" x="2126.3" y="461.6"/><use href="#b" x="2126.4" y="461.5"/><use href="#b" x="2126.6" y="461.4"/><use href="#b" x="2126.8" y="461.3"/><use href="#b" x="2126.9" y="461.2"/><use href="#b" x="2127.1" y="461.1"/><use href="#b" x="2127.2" y="461.1"/><use href="#b" x="2127.4" y="461"/><use href="#b" x="2127.5" y="460.9"/><use href="#b" x="2127.7" y="460.8"/><use href="#b" x="2127.8" y="460.7"/><use href="#b" x="2128" y="460.7"/><use href="#b" x="2128.2" y="460.6"/><use href="#b" x="2128.3" y="460.5"/><use href="#b" x="2128.5" y="460.4"/><use href="#b" x="2128.6" y="460.3"/><use href="#b" x="2128.8" y="460.3"/><use href="#b" x="2128.9" y="460.2"/><use href="#b" x="2129.1" y="460.1"/><use href="#b" x="2129.2" y="460"/><use href="#b" x="2129.4" y="459.9"/><use href="#b" x="2129.5" y="459.8"/><use href="#b" x="2129.7" y="459.8"/><use href="#b" x="2129.9" y="459.7"/><use href="#b" x="2130" y="459.6"/><use href="#b" x="2130.2" y="459.5"/><use href="#b" x="2130.3" y="459.4"/><use href="#b" x="2130.5" y="459.4"/><use href="#b" x="2130.6" y="459.3"/><use href="#b" x="2130.8" y="459.2"/><use href="#b" x="2130.9" y="459.1"/><use href="#b" x="2131.1" y="459"/><use href="#b" x="2131.2" y="459"/><use href="#b" x="2131.4" y="458.9"/><use href="#b" x="2131.5" y="458.8"/><use href="#b" x="2131.7" y="458.7"/><use href="#b" x="2131.8" y="458.6"/><use href="#b" x="2132" y="458.6"/><use href="#b" x="2132.2" y="458.5"/><use href="#b" x="2132.3" y="458.4"/><use href="#b" x="2132.5" y="458.3"/><use href="#b" x="2132.6" y="458.2"/><use href="#b" x="2132.8" y="458.2"/><use href="#b" x="2132.9" y="458.1"/><use href="#b" x="2133.1" y="458"/><use href="#b" x="2133.2" y="457.9"/><use href="#b" x="2133.4" y="457.8"/><use href="#b" x="2133.5" y="457.8"/><use href="#b" x="2133.7" y="457.7"/><use href="#b" x="2133.8" y="457.6"/><use href="#b" x="2134" y="457.5"/><use href="#b" x="2134.1" y="457.5"/><use href="#b" x="2134.3" y="457.4"/><use href="#b" x="2134.4" y="457.3"/><use href="#b" x="2134.6" y="457.2"/><use href="#b" x="2134.7" y="457.1"/><use href="#b" x="2134.9" y="457.1"/><use href="#b" x="2135" y="457"/><use href="#b" x="2135.2" y="456.9"/><use href="#b" x="2135.3" y="456.8"/><use href="#b" x="2135.5" y="456.7"/><use href="#b" x="2135.6" y="456.7"/><use href="#b" x="2135.8" y="456.6"/><use href="#b" x="2135.9" y="456.5"/><use href="#b" x="2136.1" y="456.4"/><use href="#b" x="2136.2" y="456.3"/><use href="#b" x="2136.4" y="456.3"/><use href="#b" x="2136.5" y="456.2"/><use href="#b" x="2136.7" y="456.1"/><use href="#b" x="2136.8" y="456"/><use href="#b" x="2137" y="456"/><use href="#b" x="2137.1" y="455.9"/><use href="#b" x="2137.3" y="455.8"/><use href="#b" x="2137.4" y="455.7"/><use href="#b" x="2137.6" y="455.6"/><use href="#b" x="2137.7" y="455.6"/><use href="#b" x="2137.9" y="455.5"/><use href="#b" x="2138" y="455.4"/><use href="#b" x="2138.2" y="455.3"/><use href="#b" x="2138.3" y="455.3"/><use href="#b" x="2138.5" y="455.2"/><use href="#b" x="2138.6" y="455.1"/><use href="#b" x="2138.8" y="455"/><use href="#b" x="2138.9" y="454.9"/><use href="#b" x="2139.1" y="454.9"/><use href="#b" x="2139.2" y="454.8"/><use href="#b" x="2139.4" y="454.7"/><use href="#b" x="2139.5" y="454.6"/><use href="#b" x="2139.7" y="454.6"/><use href="#b" x="2139.8" y="454.5"/><use href="#b" x="2140" y="454.4"/><use href="#b" x="2140.1" y="454.3"/><use href="#b" x="2140.3" y="454.3"/><use href="#b" x="2140.4" y="454.2"/><use href="#b" x="2140.6" y="454.1"/><use href="#b" x="2140.7" y="454"/><use href="#b" x="2140.8" y="453.9"/><use href="#b" x="2141" y="453.9"/><use href="#b" x="2141.1" y="453.8"/><use href="#b" x="2141.3" y="453.7"/><use href="#b" x="2141.4" y="453.6"/><use href="#b" x="2141.6" y="453.6"/><use href="#b" x="2141.7" y="453.5"/><use href="#b" x="2141.9" y="453.4"/><use href="#b" x="2142" y="453.3"/><use href="#b" x="2142.2" y="453.3"/><use href="#b" x="2142.3" y="453.2"/><use href="#b" x="2142.5" y="453.1"/><use href="#b" x="2142.6" y="453"/><use href="#b" x="2142.8" y="453"/><use href="#b" x="2142.9" y="452.9"/><use href="#b" x="2143" y="452.8"/><use href="#b" x="2143.2" y="452.7"/><use href="#b" x="2143.3" y="452.6"/><use href="#b" x="2143.5" y="452.6"/><use href="#b" x="2143.6" y="452.5"/><use href="#b" x="2143.8" y="452.4"/><use href="#b" x="2143.9" y="452.3"/><use href="#b" x="2144.1" y="452.3"/><use href="#b" x="2144.2" y="452.2"/><use href="#b" x="2144.4" y="452.1"/><use href="#b" x="2144.5" y="452"/><use href="#b" x="2144.6" y="452"/><use href="#b" x="2144.8" y="451.9"/><use href="#b" x="2144.9" y="451.8"/><use href="#b" x="2145.1" y="451.7"/><use href="#b" x="2145.2" y="451.7"/><use href="#b" x="2145.4" y="451.6"/><use href="#b" x="2145.5" y="451.5"/><use href="#b" x="2145.7" y="451.4"/><use href="#b" x="2145.8" y="451.4"/><use href="#b" x="2145.9" y="451.3"/><use href="#b" x="2146.1" y="451.2"/><use href="#b" x="2146.2" y="451.1"/><use href="#b" x="2146.4" y="451.1"/><use href="#b" x="2146.5" y="451"/><use href="#b" x="2146.7" y="450.9"/><use href="#b" x="2146.8" y="450.8"/><use href="#b" x="2147" y="450.8"/><use href="#b" x="2147.1" y="450.7"/><use href="#b" x="2147.2" y="450.6"/><use href="#b" x="2147.4" y="450.5"/><use href="#b" x="2147.5" y="450.5"/><use href="#b" x="2147.7" y="450.4"/><use href="#b" x="2147.8" y="450.3"/><use href="#b" x="2148" y="450.2"/><use href="#b" x="2148.1" y="450.2"/><use href="#b" x="2148.2" y="450.1"/><use href="#b" x="2148.4" y="450"/><use href="#b" x="2148.5" y="450"/><use href="#b" x="2148.7" y="449.9"/><use href="#b" x="2148.8" y="449.8"/><use href="#b" x="2149" y="449.7"/><use href="#b" x="2149.1" y="449.7"/><use href="#b" x="2149.2" y="449.6"/><use href="#b" x="2149.4" y="449.5"/><use href="#b" x="2149.5" y="449.4"/><use href="#b" x="2149.7" y="449.4"/><use href="#b" x="2149.8" y="449.3"/><use href="#b" x="2149.9" y="449.2"/><use href="#b" x="2150.1" y="449.1"/><use href="#b" x="2150.2" y="449.1"/><use href="#b" x="2150.4" y="449"/><use href="#b" x="2150.5" y="448.9"/><use href="#b" x="2150.7" y="448.9"/><use href="#b" x="2150.8" y="448.8"/><use href="#b" x="2150.9" y="448.7"/><use href="#b" x="2151.1" y="448.6"/><use href="#b" x="2151.2" y="448.6"/><use href="#b" x="2151.4" y="448.5"/><use href="#b" x="2151.5" y="448.4"/><use href="#b" x="2151.6" y="448.3"/><use href="#b" x="2151.8" y="448.3"/><use href="#b" x="2151.9" y="448.2"/><use href="#b" x="2152.1" y="448.1"/><use href="#b" x="2152.2" y="448"/><use href="#b" x="2152.3" y="448"/><use href="#b" x="2152.5" y="447.9"/><use href="#b" x="2152.6" y="447.8"/><use href="#b" x="2152.8" y="447.8"/><use href="#b" x="2152.9" y="447.7"/><use href="#b" x="2153" y="447.6"/><use href="#b" x="2153.2" y="447.5"/><use href="#b" x="2153.3" y="447.5"/><use href="#b" x="2153.5" y="447.4"/><use href="#b" x="2153.6" y="447.3"/><use href="#b" x="2153.7" y="447.3"/><use href="#b" x="2153.9" y="447.2"/><use href="#b" x="2154" y="447.1"/><use href="#b" x="2154.2" y="447"/><use href="#b" x="2154.3" y="447"/><use href="#b" x="2154.4" y="446.9"/><use href="#b" x="2154.6" y="446.8"/><use href="#b" x="2154.7" y="446.8"/><use href="#b" x="2154.9" y="446.7"/><use href="#b" x="2155" y="446.6"/><use href="#b" x="2155.1" y="446.5"/><use href="#b" x="2155.3" y="446.5"/><use href="#b" x="2155.4" y="446.4"/><use href="#b" x="2155.6" y="446.3"/><use href="#b" x="2155.7" y="446.3"/><use href="#b" x="2155.8" y="446.2"/><use href="#b" x="2156" y="446.1"/><use href="#b" x="2156.1" y="446"/><use href="#b" x="2156.2" y="446"/><use href="#b" x="2156.4" y="445.9"/><use href="#b" x="2156.5" y="445.8"/><use href="#b" x="2156.7" y="445.8"/><use href="#b" x="2156.8" y="445.7"/><use href="#b" x="2156.9" y="445.6"/><use href="#b" x="2157.1" y="445.5"/><use href="#b" x="2157.2" y="445.5"/><use href="#b" x="2157.4" y="445.4"/><use href="#b" x="2157.5" y="445.3"/><use href="#b" x="2157.6" y="445.3"/><use href="#b" x="2157.8" y="445.2"/><use href="#b" x="2157.9" y="445.1"/><use href="#b" x="2158" y="445"/><use href="#b" x="2158.2" y="445"/><use href="#b" x="2158.3" y="444.9"/><use href="#b" x="2158.4" y="444.8"/><use href="#b" x="2158.6" y="444.8"/><use href="#b" x="2158.7" y="444.7"/><use href="#b" x="2158.9" y="444.6"/><use href="#b" x="2159" y="444.6"/><use href="#b" x="2159.1" y="444.5"/><use href="#b" x="2159.3" y="444.4"/><use href="#b" x="2159.4" y="444.3"/><use href="#b" x="2159.5" y="444.3"/><use href="#b" x="2159.7" y="444.2"/><use href="#b" x="2159.8" y="444.1"/><use href="#b" x="2160" y="444.1"/><use href="#b" x="2160.1" y="444"/><use href="#b" x="2160.2" y="443.9"/><use href="#b" x="2160.4" y="443.9"/><use href="#b" x="2160.5" y="443.8"/><use href="#b" x="2160.6" y="443.7"/><use href="#b" x="2160.8" y="443.7"/><use href="#b" x="2160.9" y="443.6"/><use href="#b" x="2161" y="443.5"/><use href="#b" x="2161.2" y="443.4"/><use href="#b" x="2161.3" y="443.4"/><use href="#b" x="2161.4" y="443.3"/><use href="#b" x="2161.6" y="443.2"/><use href="#b" x="2161.7" y="443.2"/><use href="#b" x="2161.8" y="443.1"/><use href="#b" x="2162" y="443"/><use href="#b" x="2162.1" y="443"/><use href="#b" x="2162.3" y="442.9"/><use href="#b" x="2162.4" y="442.8"/><use href="#b" x="2162.5" y="442.8"/><use href="#b" x="2162.7" y="442.7"/><use href="#b" x="2162.8" y="442.6"/><use href="#b" x="2162.9" y="442.6"/><use href="#b" x="2163.1" y="442.5"/><use href="#b" x="2163.2" y="442.4"/><use href="#b" x="2163.3" y="442.3"/><use href="#b" x="2163.5" y="442.3"/><use href="#b" x="2163.6" y="442.2"/><use href="#b" x="2163.7" y="442.1"/><use href="#b" x="2163.9" y="442.1"/><use href="#b" x="2164" y="442"/><use href="#b" x="2164.1" y="441.9"/><use href="#b" x="2164.3" y="441.9"/><use href="#b" x="2164.4" y="441.8"/><use href="#b" x="2164.5" y="441.7"/><use href="#b" x="2164.7" y="441.7"/><use href="#b" x="2164.8" y="441.6"/><use href="#b" x="2164.9" y="441.5"/><use href="#b" x="2165.1" y="441.5"/><use href="#b" x="2165.2" y="441.4"/><use href="#b" x="2165.3" y="441.3"/><use href="#b" x="2165.5" y="441.3"/><use href="#b" x="2165.6" y="441.2"/><use href="#b" x="2165.7" y="441.1"/><use href="#b" x="2165.9" y="441.1"/><use href="#b" x="2166" y="441"/><use href="#b" x="2166.1" y="440.9"/><use href="#b" x="2166.3" y="440.9"/><use href="#b" x="2166.4" y="440.8"/><use href="#b" x="2166.5" y="440.7"/><use href="#b" x="2166.7" y="440.7"/><use href="#b" x="2166.8" y="440.6"/><use href="#b" x="2166.9" y="440.5"/><use href="#b" x="2167.1" y="440.5"/><use href="#b" x="2167.2" y="440.4"/><use href="#b" x="2167.3" y="440.3"/><use href="#b" x="2167.5" y="440.3"/><use href="#b" x="2167.6" y="440.2"/><use href="#b" x="2167.7" y="440.1"/><use href="#b" x="2167.9" y="440.1"/><use href="#b" x="2168" y="440"/><use href="#b" x="2168.1" y="439.9"/><use href="#b" x="2168.2" y="439.9"/><use href="#b" x="2168.4" y="439.8"/><use href="#b" x="2168.5" y="439.7"/><use href="#b" x="2168.6" y="439.7"/><use href="#b" x="2168.8" y="439.6"/><use href="#b" x="2168.9" y="439.5"/><use href="#b" x="2169" y="439.5"/><use href="#b" x="2169.2" y="439.4"/><use href="#b" x="2169.3" y="439.3"/><use href="#b" x="2169.4" y="439.3"/><use href="#b" x="2169.6" y="439.2"/><use href="#b" x="2169.7" y="439.1"/><use href="#b" x="2169.8" y="439.1"/><use href="#b" x="2170" y="439"/><use href="#b" x="2170.1" y="438.9"/><use href="#b" x="2170.2" y="438.9"/><use href="#b" x="2170.3" y="438.8"/><use href="#b" x="2170.5" y="438.7"/><use href="#b" x="2170.6" y="438.7"/><use href="#b" x="2170.7" y="438.6"/><use href="#b" x="2170.9" y="438.5"/><use href="#b" x="2171" y="438.5"/><use href="#b" x="2171.1" y="438.4"/><use href="#b" x="2171.3" y="438.3"/><use href="#b" x="2171.4" y="438.3"/><use href="#b" x="2171.5" y="438.2"/><use href="#b" x="2171.6" y="438.1"/><use href="#b" x="2171.8" y="438.1"/><use href="#b" x="2171.9" y="438"/><use href="#b" x="2172" y="437.9"/><use href="#b" x="2172.2" y="437.9"/><use href="#b" x="2172.3" y="437.8"/><use href="#b" x="2172.4" y="437.8"/><use href="#b" x="2172.6" y="437.7"/><use href="#b" x="2172.7" y="437.6"/><use href="#b" x="2172.8" y="437.6"/><use href="#b" x="2172.9" y="437.5"/><use href="#b" x="2173.1" y="437.4"/><use href="#b" x="2173.2" y="437.4"/><use href="#b" x="2173.3" y="437.3"/><use href="#b" x="2173.5" y="437.2"/><use href="#b" x="2173.6" y="437.2"/><use href="#b" x="2173.7" y="437.1"/><use href="#b" x="2173.8" y="437"/><use href="#b" x="2174" y="437"/><use href="#b" x="2174.1" y="436.9"/><use href="#b" x="2174.2" y="436.9"/><use href="#b" x="2174.4" y="436.8"/><use href="#b" x="2174.5" y="436.7"/><use href="#b" x="2174.6" y="436.7"/><use href="#b" x="2174.7" y="436.6"/><use href="#b" x="2174.9" y="436.5"/><use href="#b" x="2175" y="436.5"/><use href="#b" x="2175.1" y="436.4"/><use href="#b" x="2175.2" y="436.3"/><use href="#b" x="2175.4" y="436.3"/><use href="#b" x="2175.5" y="436.2"/><use href="#b" x="2175.6" y="436.1"/><use href="#b" x="2175.8" y="436.1"/><use href="#b" x="2175.9" y="436"/><use href="#b" x="2176" y="436"/><use href="#b" x="2176.1" y="435.9"/><use href="#b" x="2176.3" y="435.8"/><use href="#b" x="2176.4" y="435.8"/><use href="#b" x="2176.5" y="435.7"/><use href="#b" x="2176.7" y="435.6"/><use href="#b" x="2176.8" y="435.6"/><use href="#b" x="2176.9" y="435.5"/><use href="#b" x="2177" y="435.4"/><use href="#b" x="2177.2" y="435.4"/><use href="#b" x="2177.3" y="435.3"/><use href="#b" x="2177.4" y="435.3"/><use href="#b" x="2177.5" y="435.2"/><use href="#b" x="2177.7" y="435.1"/><use href="#b" x="2177.8" y="435.1"/><use href="#b" x="2177.9" y="435"/><use href="#b" x="2178" y="434.9"/><use href="#b" x="2178.2" y="434.9"/><use href="#b" x="2178.3" y="434.8"/><use href="#b" x="2178.4" y="434.8"/><use href="#b" x="2178.6" y="434.7"/><use href="#b" x="2178.7" y="434.6"/><use href="#b" x="2178.8" y="434.6"/><use href="#b" x="2178.9" y="434.5"/><use href="#b" x="2179.1" y="434.4"/><use href="#b" x="2179.2" y="434.4"/><use href="#b" x="2179.3" y="434.3"/><use href="#b" x="2179.4" y="434.3"/><use href="#b" x="2179.6" y="434.2"/><use href="#b" x="2179.7" y="434.1"/><use href="#b" x="2179.8" y="434.1"/><use href="#b" x="2179.9" y="434"/><use href="#b" x="2180.1" y="433.9"/><use href="#b" x="2180.2" y="433.9"/><use href="#b" x="2180.3" y="433.8"/><use href="#b" x="2180.4" y="433.8"/><use href="#b" x="2180.6" y="433.7"/><use href="#b" x="2180.7" y="433.6"/><use href="#b" x="2180.8" y="433.6"/><use href="#b" x="2180.9" y="433.5"/><use href="#b" x="2181.1" y="433.4"/><use href="#b" x="2181.2" y="433.4"/><use href="#b" x="2181.3" y="433.3"/><use href="#b" x="2181.4" y="433.3"/><use href="#b" x="2181.6" y="433.2"/><use href="#b" x="2181.7" y="433.1"/><use href="#b" x="2181.8" y="433.1"/><use href="#b" x="2181.9" y="433"/><use href="#b" x="2182.1" y="433"/><use href="#b" x="2182.2" y="432.9"/><use href="#b" x="2182.3" y="432.8"/><use href="#b" x="2182.4" y="432.8"/><use href="#b" x="2182.6" y="432.7"/><use href="#b" x="2182.7" y="432.6"/><use href="#b" x="2182.8" y="432.6"/><use href="#b" x="2182.9" y="432.5"/><use href="#b" x="2183" y="432.5"/><use href="#b" x="2183.2" y="432.4"/><use href="#b" x="2183.3" y="432.3"/><use href="#b" x="2183.4" y="432.3"/><use href="#b" x="2183.5" y="432.2"/><use href="#b" x="2183.7" y="432.2"/><use href="#b" x="2183.8" y="432.1"/><use href="#b" x="2183.9" y="432"/><use href="#b" x="2184" y="432"/><use href="#b" x="2184.2" y="431.9"/><use href="#b" x="2184.3" y="431.8"/><use href="#b" x="2184.4" y="431.8"/><use href="#b" x="2184.5" y="431.7"/><use href="#b" x="2184.7" y="431.7"/><use href="#b" x="2184.8" y="431.6"/><use href="#b" x="2184.9" y="431.5"/><use href="#b" x="2185" y="431.5"/><use href="#b" x="2185.1" y="431.4"/><use href="#b" x="2185.3" y="431.4"/><use href="#b" x="2185.4" y="431.3"/><use href="#b" x="2185.5" y="431.2"/><use href="#b" x="2185.6" y="431.2"/><use href="#b" x="2185.8" y="431.1"/><use href="#b" x="2185.9" y="431.1"/><use href="#b" x="2186" y="431"/><use href="#b" x="2186.1" y="430.9"/><use href="#b" x="2186.2" y="430.9"/><use href="#b" x="2186.4" y="430.8"/><use href="#b" x="2186.5" y="430.8"/><use href="#b" x="2186.6" y="430.7"/><use href="#b" x="2186.7" y="430.6"/><use href="#b" x="2186.9" y="430.6"/><use href="#b" x="2187" y="430.5"/><use href="#b" x="2187.1" y="430.5"/>
</g>
</g>
<g shape-rendering="crispEdges"><use href="#r" x="456" y="152.3"/><use href="#b" x="456" y="250"/></g>
<text class="lg" y="171.6"><tspan x="534" font-style="italic">f</tspan><tspan class="sub" x="554" y="192.6">NP</tspan><tspan x="597.7" y="171.6" textLength="37.1" lengthAdjust="spacingAndGlyphs">=</tspan><tspan x="648.6">0.15,</tspan><tspan font-style="italic" x="782.5">k</tspan><tspan class="sub" x="809" y="192.6">θ</tspan><tspan x="824.9" y="171.6" textLength="37.1" lengthAdjust="spacingAndGlyphs">=</tspan><tspan x="876.5">40</tspan></text>
<text class="lg" y="269.9"><tspan x="534" font-style="italic">f</tspan><tspan class="sub" x="554" y="290.9">NP</tspan><tspan x="597.7" y="269.9" textLength="37.1" lengthAdjust="spacingAndGlyphs">=</tspan><tspan x="648.6">0.15,</tspan><tspan font-style="italic" x="782.5">k</tspan><tspan class="sub" x="809" y="290.9">θ</tspan><tspan x="824.9" y="269.9" textLength="37.1" lengthAdjust="spacingAndGlyphs">=</tspan><tspan x="875.8">1</tspan></text>
<text y="263.5" font-size="65px"><tspan x="1936.2">slope </tspan><tspan x="2089.3" textLength="42.2" lengthAdjust="spacingAndGlyphs">=</tspan><tspan x="2142.6"> </tspan><tspan x="2142.6">1</tspan></text>
<g stroke="#000" fill="none" shape-rendering="crispEdges">
<rect x="282.05" y="19.10" width="1904.95" height="1395.90" stroke-width="4.0"/>
<path d="M336.21 1415.00v-13.2M380.61 1415.00v-13.2M418.15 1415.00v-13.2M450.66 1415.00v-13.2M479.34 1415.00v-13.2M505.00 1415.00v-25.1M673.79 1415.00v-13.2M772.52 1415.00v-13.2M842.58 1415.00v-13.2M896.91 1415.00v-13.2M941.31 1415.00v-13.2M978.85 1415.00v-13.2M1011.36 1415.00v-13.2M1040.04 1415.00v-13.2M1065.70 1415.00v-25.1M1234.49 1415.00v-13.2M1333.22 1415.00v-13.2M1403.28 1415.00v-13.2M1457.61 1415.00v-13.2M1502.01 1415.00v-13.2M1539.55 1415.00v-13.2M1572.06 1415.00v-13.2M1600.74 1415.00v-13.2M1626.40 1415.00v-25.1M1795.19 1415.00v-13.2M1893.92 1415.00v-13.2M1963.98 1415.00v-13.2M2018.31 1415.00v-13.2M2062.71 1415.00v-13.2M2100.25 1415.00v-13.2M2132.76 1415.00v-13.2M2161.44 1415.00v-13.2M282.05 1374.64h13.2M282.05 1343.67h13.2M282.05 1318.37h13.2M282.05 1296.98h13.2M282.05 1278.45h13.2M282.05 1262.11h13.2M282.05 1247.49h25.1M282.05 1151.31h13.2M282.05 1095.04h13.2M282.05 1055.13h13.2M282.05 1024.16h13.2M282.05 998.86h13.2M282.05 977.47h13.2M282.05 958.94h13.2M282.05 942.60h13.2M282.05 927.98h25.1M282.05 831.80h13.2M282.05 775.53h13.2M282.05 735.62h13.2M282.05 704.65h13.2M282.05 679.35h13.2M282.05 657.96h13.2M282.05 639.43h13.2M282.05 623.09h13.2M282.05 608.47h25.1M282.05 512.29h13.2M282.05 456.02h13.2M282.05 416.11h13.2M282.05 385.14h13.2M282.05 359.84h13.2M282.05 338.45h13.2M282.05 319.92h13.2M282.05 303.58h13.2M282.05 288.96h25.1M282.05 192.78h13.2M282.05 136.51h13.2M282.05 96.60h13.2M282.05 65.63h13.2M282.05 40.33h13.2" stroke-width="4.0"/>
</g>
<text class="tk" text-anchor="middle" x="502.5" y="1507.4">1</text>
<text class="tk" text-anchor="middle" x="1064.9" y="1507.4">10</text>
<text class="tk" text-anchor="middle" x="1625.4" y="1507.4">100</text>
<text class="tk" text-anchor="middle" x="2185.6" y="1507.4">1000</text>
<text class="tk" text-anchor="end" x="252.0" y="1272.8">0.1</text>
<text class="tk" text-anchor="end" x="252.3" y="953.3">1</text>
<text class="tk" text-anchor="end" x="255.0" y="633.8">10</text>
<text class="tk" text-anchor="end" x="255.0" y="314.3">100</text>
<text x="1123.5" y="1607.7" font-size="108px" textLength="227.2" lengthAdjust="spacingAndGlyphs" font-weight="bold" font-style="italic">Time</text>
<g transform="translate(122.7 866) rotate(-90)" font-weight="bold"><text font-size="98px" x="-5.2" y="-3" textLength="69" lengthAdjust="spacingAndGlyphs">&lt;</text><text font-size="108px" x="58.4" y="0"><tspan font-weight="normal">Δ</tspan><tspan font-style="italic" dx="-2">r</tspan><tspan font-style="italic" font-size="65px" dx="-4.5" dy="-53">2</tspan></text><text font-size="98px" x="195.7" y="-3" textLength="70.5" lengthAdjust="spacingAndGlyphs">&gt;</text><text font-size="65px" x="260.5" y="37">P</text></g>
</svg></body></html>
